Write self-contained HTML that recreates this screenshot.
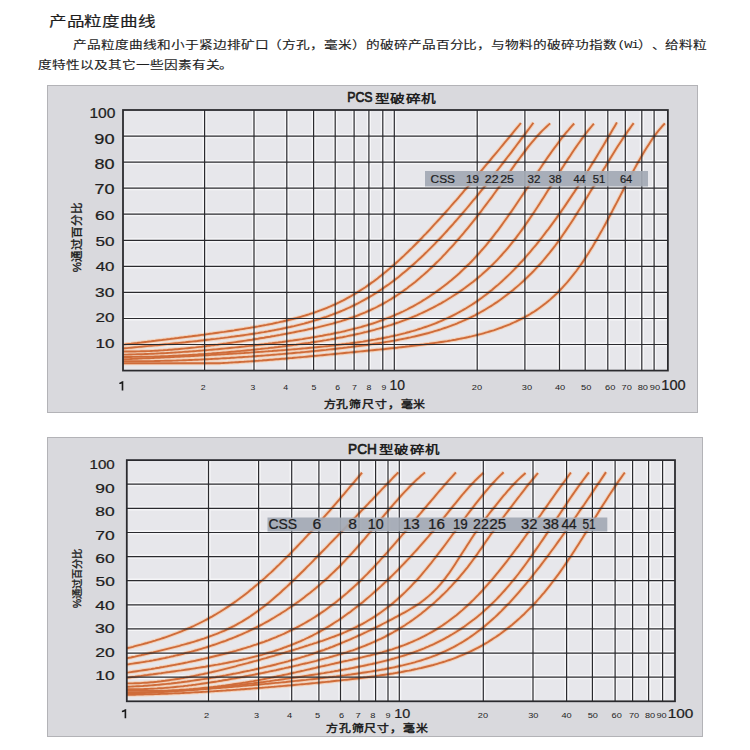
<!DOCTYPE html>
<html lang="zh-CN"><head><meta charset="utf-8"><style>
html,body{margin:0;padding:0;background:#fff;width:750px;height:750px;overflow:hidden;position:relative;font-family:"Liberation Sans",sans-serif;color:#1c1c1c}
.abs{position:absolute;white-space:nowrap}
.panel{position:absolute;background:#d9d9dd;border:1px solid #b3b3b7;box-sizing:border-box}
.yl{position:absolute;font-size:13px;line-height:16px;text-align:right;color:#1a1a1a}
.xl{position:absolute;font-size:8px;line-height:10px;color:#222}
svg text{font-family:"Liberation Sans",sans-serif;fill:#1e1e1e}
</style></head><body>
<div class="panel" style="left:47px;top:85px;width:650.5px;height:328px"></div>
<div class="panel" style="left:47px;top:437px;width:655.5px;height:299.5px"></div>
<svg class="abs" style="left:0;top:0" width="750" height="750" viewBox="0 0 750 750">
<rect x="123.0" y="110.0" width="544.9" height="260.6" fill="#e7e7eb"/>
<g stroke="#f6f6f8" stroke-width="4.2" fill="none"><line x1="123.0" y1="136.1" x2="667.9" y2="136.1"/>
<line x1="123.0" y1="162.1" x2="667.9" y2="162.1"/>
<line x1="123.0" y1="188.2" x2="667.9" y2="188.2"/>
<line x1="123.0" y1="214.2" x2="667.9" y2="214.2"/>
<line x1="123.0" y1="240.3" x2="667.9" y2="240.3"/>
<line x1="123.0" y1="266.4" x2="667.9" y2="266.4"/>
<line x1="123.0" y1="292.4" x2="667.9" y2="292.4"/>
<line x1="123.0" y1="318.5" x2="667.9" y2="318.5"/>
<line x1="123.0" y1="344.5" x2="667.9" y2="344.5"/>
<line x1="204.6" y1="110.0" x2="204.6" y2="370.6"/>
<line x1="254.0" y1="110.0" x2="254.0" y2="370.6"/>
<line x1="286.8" y1="110.0" x2="286.8" y2="370.6"/>
<line x1="313.6" y1="110.0" x2="313.6" y2="370.6"/>
<line x1="335.2" y1="110.0" x2="335.2" y2="370.6"/>
<line x1="354.1" y1="110.0" x2="354.1" y2="370.6"/>
<line x1="368.9" y1="110.0" x2="368.9" y2="370.6"/>
<line x1="382.8" y1="110.0" x2="382.8" y2="370.6"/>
<line x1="394.3" y1="110.0" x2="394.3" y2="370.6"/>
<line x1="477.2" y1="110.0" x2="477.2" y2="370.6"/>
<line x1="524.9" y1="110.0" x2="524.9" y2="370.6"/>
<line x1="559.5" y1="110.0" x2="559.5" y2="370.6"/>
<line x1="585.2" y1="110.0" x2="585.2" y2="370.6"/>
<line x1="607.8" y1="110.0" x2="607.8" y2="370.6"/>
<line x1="625.3" y1="110.0" x2="625.3" y2="370.6"/>
<line x1="641.8" y1="110.0" x2="641.8" y2="370.6"/>
<line x1="654.1" y1="110.0" x2="654.1" y2="370.6"/>
<rect x="123.0" y="110.0" width="544.9" height="260.6" fill="none" stroke-width="1.8"/></g>
<g stroke="#f2d2bc" stroke-width="4" fill="none" stroke-linecap="butt">
<path d="M123.0,344.6 L125.0,344.4 L127.0,344.1 L129.1,343.9 L131.1,343.7 L133.1,343.4 L135.1,343.2 L137.1,343.0 L139.2,342.7 L141.2,342.5 L143.2,342.2 L145.2,342.0 L147.2,341.8 L149.3,341.5 L151.3,341.3 L153.3,341.0 L155.3,340.8 L157.3,340.5 L159.4,340.3 L161.4,340.1 L163.4,339.8 L165.4,339.6 L167.4,339.3 L169.5,339.1 L171.5,338.8 L173.5,338.6 L175.5,338.3 L177.5,338.1 L179.6,337.8 L181.6,337.5 L183.6,337.3 L185.6,337.0 L187.6,336.8 L189.7,336.5 L191.7,336.3 L193.7,336.0 L195.7,335.7 L197.7,335.5 L199.8,335.2 L201.8,334.9 L203.8,334.7 L205.8,334.4 L207.8,334.1 L209.9,333.8 L211.9,333.6 L213.9,333.3 L215.9,333.0 L217.9,332.7 L220.0,332.4 L222.0,332.1 L224.0,331.9 L226.0,331.6 L228.0,331.3 L230.0,331.0 L232.1,330.7 L234.1,330.4 L236.1,330.0 L238.1,329.7 L240.1,329.4 L242.2,329.1 L244.2,328.8 L246.2,328.4 L248.2,328.1 L250.2,327.8 L252.3,327.4 L254.3,327.1 L256.3,326.7 L258.3,326.4 L260.3,326.0 L262.4,325.6 L264.4,325.2 L266.4,324.9 L268.4,324.5 L270.4,324.1 L272.5,323.7 L274.5,323.2 L276.5,322.8 L278.5,322.4 L280.5,321.9 L282.6,321.5 L284.6,321.0 L286.6,320.5 L288.6,320.0 L290.6,319.5 L292.7,319.0 L294.7,318.5 L296.7,318.0 L298.7,317.4 L300.7,316.8 L302.8,316.2 L304.8,315.6 L306.8,315.0 L308.8,314.4 L310.8,313.7 L312.9,313.1 L314.9,312.4 L316.9,311.7 L318.9,310.9 L320.9,310.2 L323.0,309.4 L325.0,308.6 L327.0,307.8 L329.0,307.0 L331.0,306.1 L333.1,305.2 L335.1,304.3 L337.1,303.3 L339.1,302.4 L341.1,301.4 L343.2,300.4 L345.2,299.3 L347.2,298.2 L349.2,297.1 L351.2,296.0 L353.3,294.8 L355.3,293.6 L357.3,292.4 L359.3,291.1 L361.3,289.8 L363.4,288.5 L365.4,287.2 L367.4,285.8 L369.4,284.4 L371.4,282.9 L373.5,281.5 L375.5,279.9 L377.5,278.4 L379.5,276.8 L381.5,275.3 L383.6,273.6 L385.6,272.0 L387.6,270.3 L389.6,268.6 L391.6,266.8 L393.7,265.1 L395.7,263.3 L397.7,261.5 L399.7,259.6 L401.7,257.8 L403.8,255.9 L405.8,253.9 L407.8,252.0 L409.8,250.0 L411.8,248.1 L413.9,246.0 L415.9,244.0 L417.9,242.0 L419.9,239.9 L421.9,237.8 L423.9,235.7 L426.0,233.6 L428.0,231.5 L430.0,229.3 L432.0,227.1 L434.0,224.9 L436.1,222.7 L438.1,220.5 L440.1,218.3 L442.1,216.1 L444.1,213.8 L446.2,211.5 L448.2,209.3 L450.2,207.0 L452.2,204.7 L454.2,202.4 L456.3,200.1 L458.3,197.8 L460.3,195.4 L462.3,193.1 L464.3,190.7 L466.4,188.4 L468.4,186.0 L470.4,183.6 L472.4,181.3 L474.4,178.9 L476.5,176.5 L478.5,174.1 L480.5,171.7 L482.5,169.3 L484.5,166.9 L486.6,164.5 L488.6,162.1 L490.6,159.7 L492.6,157.2 L494.6,154.8 L496.7,152.4 L498.7,150.0 L500.7,147.5 L502.7,145.1 L504.7,142.6 L506.8,140.2 L508.8,137.8 L510.8,135.3 L512.8,132.9 L514.8,130.4 L516.9,127.9 L518.9,125.5 L520.9,123.0"/>
<path d="M123.0,348.5 L125.0,348.3 L127.0,348.1 L129.0,347.9 L131.0,347.7 L133.1,347.5 L135.1,347.3 L137.1,347.1 L139.1,346.9 L141.1,346.7 L143.1,346.5 L145.1,346.3 L147.1,346.1 L149.2,345.9 L151.2,345.7 L153.2,345.6 L155.2,345.4 L157.2,345.2 L159.2,345.0 L161.2,344.7 L163.2,344.5 L165.2,344.3 L167.3,344.1 L169.3,343.9 L171.3,343.7 L173.3,343.5 L175.3,343.3 L177.3,343.1 L179.3,342.9 L181.3,342.7 L183.4,342.5 L185.4,342.3 L187.4,342.0 L189.4,341.8 L191.4,341.6 L193.4,341.4 L195.4,341.2 L197.4,341.0 L199.4,340.7 L201.5,340.5 L203.5,340.3 L205.5,340.0 L207.5,339.8 L209.5,339.6 L211.5,339.3 L213.5,339.1 L215.5,338.9 L217.6,338.6 L219.6,338.4 L221.6,338.1 L223.6,337.9 L225.6,337.6 L227.6,337.4 L229.6,337.1 L231.6,336.8 L233.6,336.6 L235.7,336.3 L237.7,336.0 L239.7,335.8 L241.7,335.5 L243.7,335.2 L245.7,334.9 L247.7,334.6 L249.7,334.3 L251.8,334.0 L253.8,333.7 L255.8,333.4 L257.8,333.1 L259.8,332.7 L261.8,332.4 L263.8,332.1 L265.8,331.7 L267.8,331.4 L269.9,331.0 L271.9,330.6 L273.9,330.3 L275.9,329.9 L277.9,329.5 L279.9,329.1 L281.9,328.7 L283.9,328.3 L286.0,327.8 L288.0,327.4 L290.0,327.0 L292.0,326.5 L294.0,326.1 L296.0,325.6 L298.0,325.1 L300.0,324.6 L302.0,324.1 L304.1,323.6 L306.1,323.0 L308.1,322.5 L310.1,321.9 L312.1,321.3 L314.1,320.7 L316.1,320.1 L318.1,319.5 L320.2,318.9 L322.2,318.2 L324.2,317.5 L326.2,316.9 L328.2,316.2 L330.2,315.4 L332.2,314.7 L334.2,313.9 L336.2,313.1 L338.3,312.3 L340.3,311.5 L342.3,310.7 L344.3,309.8 L346.3,308.9 L348.3,308.0 L350.3,307.1 L352.3,306.1 L354.4,305.1 L356.4,304.1 L358.4,303.1 L360.4,302.0 L362.4,300.9 L364.4,299.8 L366.4,298.7 L368.4,297.6 L370.4,296.4 L372.5,295.2 L374.5,293.9 L376.5,292.7 L378.5,291.4 L380.5,290.0 L382.5,288.7 L384.5,287.3 L386.5,285.9 L388.6,284.5 L390.6,283.0 L392.6,281.5 L394.6,280.0 L396.6,278.4 L398.6,276.9 L400.6,275.3 L402.6,273.6 L404.6,272.0 L406.7,270.3 L408.7,268.5 L410.7,266.8 L412.7,265.0 L414.7,263.2 L416.7,261.4 L418.7,259.5 L420.7,257.7 L422.8,255.8 L424.8,253.8 L426.8,251.9 L428.8,249.9 L430.8,247.9 L432.8,245.8 L434.8,243.8 L436.8,241.7 L438.8,239.6 L440.9,237.5 L442.9,235.3 L444.9,233.2 L446.9,231.0 L448.9,228.7 L450.9,226.5 L452.9,224.3 L454.9,222.0 L457.0,219.7 L459.0,217.4 L461.0,215.1 L463.0,212.7 L465.0,210.4 L467.0,208.0 L469.0,205.6 L471.0,203.2 L473.0,200.7 L475.1,198.3 L477.1,195.8 L479.1,193.4 L481.1,190.9 L483.1,188.4 L485.1,185.9 L487.1,183.4 L489.1,180.8 L491.2,178.3 L493.2,175.7 L495.2,173.2 L497.2,170.6 L499.2,168.0 L501.2,165.4 L503.2,162.8 L505.2,160.2 L507.2,157.5 L509.3,154.9 L511.3,152.3 L513.3,149.6 L515.3,147.0 L517.3,144.3 L519.3,141.6 L521.3,138.9 L523.3,136.3 L525.4,133.6 L527.4,130.9 L529.4,128.2 L531.4,125.5 L533.4,122.7"/>
<path d="M123.0,351.5 L125.0,351.5 L127.0,351.5 L129.0,351.5 L131.1,351.5 L133.1,351.5 L135.1,351.5 L137.1,351.4 L139.1,351.4 L141.1,351.3 L143.2,351.3 L145.2,351.2 L147.2,351.1 L149.2,351.1 L151.2,351.0 L153.2,350.9 L155.2,350.8 L157.3,350.7 L159.3,350.5 L161.3,350.4 L163.3,350.3 L165.3,350.1 L167.3,350.0 L169.3,349.8 L171.4,349.7 L173.4,349.5 L175.4,349.3 L177.4,349.2 L179.4,349.0 L181.4,348.8 L183.5,348.6 L185.5,348.4 L187.5,348.2 L189.5,348.0 L191.5,347.8 L193.5,347.6 L195.5,347.4 L197.6,347.1 L199.6,346.9 L201.6,346.7 L203.6,346.4 L205.6,346.2 L207.6,345.9 L209.6,345.7 L211.7,345.4 L213.7,345.2 L215.7,344.9 L217.7,344.7 L219.7,344.4 L221.7,344.1 L223.8,343.8 L225.8,343.6 L227.8,343.3 L229.8,343.0 L231.8,342.7 L233.8,342.4 L235.8,342.1 L237.9,341.8 L239.9,341.5 L241.9,341.2 L243.9,340.9 L245.9,340.6 L247.9,340.3 L250.0,340.0 L252.0,339.7 L254.0,339.3 L256.0,339.0 L258.0,338.7 L260.0,338.3 L262.0,338.0 L264.1,337.7 L266.1,337.3 L268.1,337.0 L270.1,336.7 L272.1,336.3 L274.1,336.0 L276.1,335.6 L278.2,335.2 L280.2,334.9 L282.2,334.5 L284.2,334.1 L286.2,333.8 L288.2,333.4 L290.3,333.0 L292.3,332.6 L294.3,332.2 L296.3,331.8 L298.3,331.4 L300.3,331.0 L302.3,330.6 L304.4,330.2 L306.4,329.8 L308.4,329.3 L310.4,328.9 L312.4,328.5 L314.4,328.0 L316.4,327.6 L318.5,327.1 L320.5,326.6 L322.5,326.1 L324.5,325.6 L326.5,325.1 L328.5,324.6 L330.6,324.1 L332.6,323.6 L334.6,323.0 L336.6,322.4 L338.6,321.9 L340.6,321.3 L342.6,320.6 L344.7,320.0 L346.7,319.4 L348.7,318.7 L350.7,318.0 L352.7,317.3 L354.7,316.6 L356.8,315.8 L358.8,315.0 L360.8,314.2 L362.8,313.4 L364.8,312.6 L366.8,311.7 L368.8,310.8 L370.9,309.9 L372.9,308.9 L374.9,308.0 L376.9,307.0 L378.9,305.9 L380.9,304.9 L382.9,303.8 L385.0,302.6 L387.0,301.5 L389.0,300.3 L391.0,299.1 L393.0,297.8 L395.0,296.6 L397.1,295.2 L399.1,293.9 L401.1,292.5 L403.1,291.1 L405.1,289.6 L407.1,288.2 L409.1,286.6 L411.2,285.1 L413.2,283.5 L415.2,281.9 L417.2,280.2 L419.2,278.6 L421.2,276.8 L423.2,275.1 L425.3,273.3 L427.3,271.5 L429.3,269.6 L431.3,267.7 L433.3,265.8 L435.3,263.8 L437.4,261.8 L439.4,259.8 L441.4,257.8 L443.4,255.7 L445.4,253.6 L447.4,251.4 L449.4,249.2 L451.5,247.0 L453.5,244.8 L455.5,242.5 L457.5,240.2 L459.5,237.9 L461.5,235.5 L463.6,233.1 L465.6,230.7 L467.6,228.3 L469.6,225.8 L471.6,223.3 L473.6,220.8 L475.6,218.3 L477.7,215.7 L479.7,213.1 L481.7,210.5 L483.7,207.8 L485.7,205.2 L487.7,202.5 L489.7,199.8 L491.8,197.1 L493.8,194.3 L495.8,191.5 L497.8,188.7 L499.8,185.9 L501.8,183.1 L503.9,180.2 L505.9,177.4 L507.9,174.5 L509.9,171.7 L511.9,168.9 L513.9,166.1 L515.9,163.3 L518.0,160.5 L520.0,157.8 L522.0,155.1 L524.0,152.4 L526.0,149.8 L528.0,147.2 L530.0,144.7 L532.1,142.2 L534.1,139.8 L536.1,137.5 L538.1,135.2 L540.1,133.0 L542.1,130.9 L544.2,128.9 L546.2,127.0 L548.2,125.1 L550.2,123.4"/>
<path d="M123.0,354.6 L125.0,354.6 L127.0,354.6 L129.0,354.5 L131.1,354.5 L133.1,354.4 L135.1,354.4 L137.1,354.3 L139.1,354.2 L141.1,354.2 L143.1,354.1 L145.2,354.0 L147.2,354.0 L149.2,353.9 L151.2,353.8 L153.2,353.7 L155.2,353.6 L157.2,353.5 L159.3,353.4 L161.3,353.3 L163.3,353.2 L165.3,353.1 L167.3,353.0 L169.3,352.9 L171.3,352.7 L173.4,352.6 L175.4,352.5 L177.4,352.4 L179.4,352.2 L181.4,352.1 L183.4,351.9 L185.4,351.8 L187.5,351.7 L189.5,351.5 L191.5,351.4 L193.5,351.2 L195.5,351.1 L197.5,350.9 L199.5,350.7 L201.6,350.6 L203.6,350.4 L205.6,350.2 L207.6,350.1 L209.6,349.9 L211.6,349.7 L213.6,349.5 L215.7,349.4 L217.7,349.2 L219.7,349.0 L221.7,348.8 L223.7,348.6 L225.7,348.4 L227.7,348.2 L229.8,348.0 L231.8,347.8 L233.8,347.6 L235.8,347.4 L237.8,347.2 L239.8,347.0 L241.8,346.8 L243.9,346.6 L245.9,346.3 L247.9,346.1 L249.9,345.9 L251.9,345.7 L253.9,345.4 L255.9,345.2 L258.0,345.0 L260.0,344.7 L262.0,344.5 L264.0,344.3 L266.0,344.0 L268.0,343.8 L270.0,343.5 L272.1,343.3 L274.1,343.0 L276.1,342.7 L278.1,342.5 L280.1,342.2 L282.1,342.0 L284.1,341.7 L286.2,341.4 L288.2,341.1 L290.2,340.8 L292.2,340.6 L294.2,340.3 L296.2,340.0 L298.2,339.7 L300.3,339.4 L302.3,339.1 L304.3,338.7 L306.3,338.4 L308.3,338.1 L310.3,337.8 L312.3,337.4 L314.4,337.1 L316.4,336.8 L318.4,336.4 L320.4,336.0 L322.4,335.7 L324.4,335.3 L326.4,334.9 L328.5,334.5 L330.5,334.2 L332.5,333.8 L334.5,333.3 L336.5,332.9 L338.5,332.5 L340.5,332.1 L342.6,331.6 L344.6,331.2 L346.6,330.7 L348.6,330.2 L350.6,329.7 L352.6,329.2 L354.6,328.7 L356.7,328.2 L358.7,327.6 L360.7,327.1 L362.7,326.5 L364.7,325.9 L366.7,325.3 L368.7,324.7 L370.8,324.1 L372.8,323.5 L374.8,322.8 L376.8,322.1 L378.8,321.4 L380.8,320.7 L382.8,320.0 L384.9,319.2 L386.9,318.4 L388.9,317.6 L390.9,316.8 L392.9,316.0 L394.9,315.1 L396.9,314.2 L399.0,313.3 L401.0,312.4 L403.0,311.5 L405.0,310.5 L407.0,309.5 L409.0,308.4 L411.0,307.4 L413.1,306.3 L415.1,305.2 L417.1,304.0 L419.1,302.9 L421.1,301.7 L423.1,300.4 L425.1,299.2 L427.2,297.9 L429.2,296.6 L431.2,295.2 L433.2,293.9 L435.2,292.5 L437.2,291.0 L439.2,289.6 L441.3,288.1 L443.3,286.6 L445.3,285.0 L447.3,283.4 L449.3,281.8 L451.3,280.2 L453.3,278.5 L455.4,276.7 L457.4,275.0 L459.4,273.2 L461.4,271.3 L463.4,269.4 L465.4,267.5 L467.4,265.5 L469.5,263.5 L471.5,261.5 L473.5,259.4 L475.5,257.2 L477.5,255.0 L479.5,252.8 L481.5,250.5 L483.6,248.2 L485.6,245.8 L487.6,243.4 L489.6,240.9 L491.6,238.4 L493.6,235.8 L495.6,233.2 L497.7,230.6 L499.7,227.9 L501.7,225.1 L503.7,222.3 L505.7,219.5 L507.7,216.7 L509.7,213.8 L511.8,210.9 L513.8,208.0 L515.8,205.0 L517.8,202.0 L519.8,199.0 L521.8,196.0 L523.8,193.0 L525.9,190.0 L527.9,186.9 L529.9,183.9 L531.9,180.8 L533.9,177.8 L535.9,174.8 L537.9,171.7 L540.0,168.7 L542.0,165.8 L544.0,162.8 L546.0,159.8 L548.0,156.9 L550.0,154.1 L552.0,151.2 L554.1,148.4 L556.1,145.7 L558.1,143.0 L560.1,140.3 L562.1,137.7 L564.1,135.2 L566.1,132.7 L568.2,130.3 L570.2,127.9 L572.2,125.6 L574.2,123.5"/>
<path d="M123.0,357.0 L125.0,357.0 L127.0,357.0 L129.0,357.0 L131.0,357.0 L133.1,356.9 L135.1,356.9 L137.1,356.9 L139.1,356.9 L141.1,356.8 L143.1,356.8 L145.1,356.8 L147.1,356.7 L149.2,356.7 L151.2,356.6 L153.2,356.6 L155.2,356.5 L157.2,356.5 L159.2,356.4 L161.2,356.3 L163.2,356.2 L165.3,356.2 L167.3,356.1 L169.3,356.0 L171.3,355.9 L173.3,355.8 L175.3,355.7 L177.3,355.6 L179.3,355.5 L181.4,355.4 L183.4,355.3 L185.4,355.2 L187.4,355.1 L189.4,355.0 L191.4,354.9 L193.4,354.7 L195.4,354.6 L197.5,354.5 L199.5,354.3 L201.5,354.2 L203.5,354.1 L205.5,353.9 L207.5,353.8 L209.5,353.6 L211.5,353.5 L213.6,353.3 L215.6,353.2 L217.6,353.0 L219.6,352.9 L221.6,352.7 L223.6,352.5 L225.6,352.4 L227.6,352.2 L229.7,352.0 L231.7,351.8 L233.7,351.7 L235.7,351.5 L237.7,351.3 L239.7,351.1 L241.7,350.9 L243.7,350.7 L245.8,350.5 L247.8,350.3 L249.8,350.1 L251.8,349.9 L253.8,349.7 L255.8,349.5 L257.8,349.3 L259.8,349.1 L261.9,348.8 L263.9,348.6 L265.9,348.4 L267.9,348.2 L269.9,347.9 L271.9,347.7 L273.9,347.5 L275.9,347.2 L278.0,347.0 L280.0,346.7 L282.0,346.5 L284.0,346.2 L286.0,346.0 L288.0,345.7 L290.0,345.5 L292.0,345.2 L294.1,344.9 L296.1,344.7 L298.1,344.4 L300.1,344.1 L302.1,343.8 L304.1,343.5 L306.1,343.2 L308.1,343.0 L310.2,342.7 L312.2,342.3 L314.2,342.0 L316.2,341.7 L318.2,341.4 L320.2,341.1 L322.2,340.8 L324.2,340.4 L326.3,340.1 L328.3,339.7 L330.3,339.4 L332.3,339.0 L334.3,338.7 L336.3,338.3 L338.3,337.9 L340.3,337.5 L342.4,337.2 L344.4,336.8 L346.4,336.4 L348.4,335.9 L350.4,335.5 L352.4,335.1 L354.4,334.7 L356.4,334.2 L358.4,333.8 L360.5,333.3 L362.5,332.8 L364.5,332.3 L366.5,331.9 L368.5,331.4 L370.5,330.8 L372.5,330.3 L374.5,329.8 L376.6,329.2 L378.6,328.7 L380.6,328.1 L382.6,327.5 L384.6,326.9 L386.6,326.3 L388.6,325.7 L390.6,325.1 L392.7,324.4 L394.7,323.7 L396.7,323.0 L398.7,322.4 L400.7,321.6 L402.7,320.9 L404.7,320.2 L406.7,319.4 L408.8,318.6 L410.8,317.8 L412.8,317.0 L414.8,316.1 L416.8,315.3 L418.8,314.4 L420.8,313.5 L422.8,312.6 L424.9,311.6 L426.9,310.7 L428.9,309.7 L430.9,308.7 L432.9,307.7 L434.9,306.6 L436.9,305.5 L438.9,304.4 L441.0,303.3 L443.0,302.1 L445.0,301.0 L447.0,299.8 L449.0,298.5 L451.0,297.3 L453.0,296.0 L455.0,294.7 L457.1,293.4 L459.1,292.0 L461.1,290.6 L463.1,289.2 L465.1,287.8 L467.1,286.3 L469.1,284.8 L471.1,283.3 L473.2,281.7 L475.2,280.1 L477.2,278.5 L479.2,276.8 L481.2,275.1 L483.2,273.3 L485.2,271.5 L487.2,269.7 L489.3,267.8 L491.3,265.9 L493.3,263.9 L495.3,261.9 L497.3,259.8 L499.3,257.7 L501.3,255.5 L503.3,253.2 L505.4,250.9 L507.4,248.6 L509.4,246.2 L511.4,243.7 L513.4,241.2 L515.4,238.6 L517.4,235.9 L519.4,233.2 L521.5,230.4 L523.5,227.6 L525.5,224.8 L527.5,221.9 L529.5,218.9 L531.5,216.0 L533.5,213.0 L535.5,209.9 L537.6,206.8 L539.6,203.7 L541.6,200.6 L543.6,197.5 L545.6,194.3 L547.6,191.1 L549.6,187.9 L551.6,184.7 L553.7,181.6 L555.7,178.4 L557.7,175.2 L559.7,172.0 L561.7,168.8 L563.7,165.7 L565.7,162.5 L567.7,159.4 L569.8,156.4 L571.8,153.3 L573.8,150.3 L575.8,147.4 L577.8,144.5 L579.8,141.7 L581.8,138.9 L583.8,136.2 L585.9,133.5 L587.9,130.9 L589.9,128.4 L591.9,126.0 L593.9,123.7"/>
<path d="M123.0,359.3 L125.0,359.2 L127.0,359.1 L129.0,359.1 L131.1,359.0 L133.1,358.9 L135.1,358.8 L137.1,358.7 L139.1,358.6 L141.1,358.5 L143.2,358.4 L145.2,358.4 L147.2,358.3 L149.2,358.2 L151.2,358.1 L153.2,358.0 L155.3,357.9 L157.3,357.8 L159.3,357.7 L161.3,357.6 L163.3,357.5 L165.3,357.4 L167.4,357.3 L169.4,357.2 L171.4,357.1 L173.4,357.0 L175.4,356.9 L177.4,356.8 L179.4,356.7 L181.5,356.6 L183.5,356.5 L185.5,356.4 L187.5,356.3 L189.5,356.2 L191.5,356.1 L193.6,356.0 L195.6,355.9 L197.6,355.7 L199.6,355.6 L201.6,355.5 L203.6,355.4 L205.7,355.3 L207.7,355.2 L209.7,355.1 L211.7,354.9 L213.7,354.8 L215.7,354.7 L217.7,354.6 L219.8,354.5 L221.8,354.4 L223.8,354.2 L225.8,354.1 L227.8,354.0 L229.8,353.9 L231.9,353.7 L233.9,353.6 L235.9,353.5 L237.9,353.4 L239.9,353.2 L241.9,353.1 L244.0,353.0 L246.0,352.8 L248.0,352.7 L250.0,352.6 L252.0,352.4 L254.0,352.3 L256.1,352.1 L258.1,352.0 L260.1,351.9 L262.1,351.7 L264.1,351.6 L266.1,351.4 L268.1,351.3 L270.2,351.1 L272.2,351.0 L274.2,350.8 L276.2,350.7 L278.2,350.5 L280.2,350.4 L282.3,350.2 L284.3,350.1 L286.3,349.9 L288.3,349.7 L290.3,349.6 L292.3,349.4 L294.4,349.2 L296.4,349.1 L298.4,348.9 L300.4,348.7 L302.4,348.5 L304.4,348.4 L306.4,348.2 L308.5,348.0 L310.5,347.8 L312.5,347.6 L314.5,347.4 L316.5,347.2 L318.5,347.0 L320.6,346.8 L322.6,346.6 L324.6,346.4 L326.6,346.2 L328.6,346.0 L330.6,345.7 L332.7,345.5 L334.7,345.3 L336.7,345.1 L338.7,344.8 L340.7,344.6 L342.7,344.3 L344.8,344.1 L346.8,343.8 L348.8,343.6 L350.8,343.3 L352.8,343.0 L354.8,342.7 L356.8,342.5 L358.9,342.2 L360.9,341.9 L362.9,341.6 L364.9,341.2 L366.9,340.9 L368.9,340.6 L371.0,340.3 L373.0,339.9 L375.0,339.6 L377.0,339.2 L379.0,338.8 L381.0,338.5 L383.1,338.1 L385.1,337.7 L387.1,337.3 L389.1,336.9 L391.1,336.4 L393.1,336.0 L395.1,335.5 L397.2,335.1 L399.2,334.6 L401.2,334.1 L403.2,333.6 L405.2,333.1 L407.2,332.5 L409.3,332.0 L411.3,331.4 L413.3,330.9 L415.3,330.3 L417.3,329.7 L419.3,329.0 L421.4,328.4 L423.4,327.7 L425.4,327.0 L427.4,326.3 L429.4,325.6 L431.4,324.9 L433.5,324.1 L435.5,323.3 L437.5,322.5 L439.5,321.7 L441.5,320.8 L443.5,319.9 L445.5,319.0 L447.6,318.1 L449.6,317.1 L451.6,316.1 L453.6,315.1 L455.6,314.1 L457.6,313.0 L459.7,311.9 L461.7,310.8 L463.7,309.6 L465.7,308.5 L467.7,307.2 L469.7,306.0 L471.8,304.7 L473.8,303.4 L475.8,302.0 L477.8,300.7 L479.8,299.2 L481.8,297.8 L483.8,296.3 L485.9,294.8 L487.9,293.2 L489.9,291.6 L491.9,290.0 L493.9,288.3 L495.9,286.6 L498.0,284.9 L500.0,283.1 L502.0,281.3 L504.0,279.4 L506.0,277.5 L508.0,275.6 L510.1,273.6 L512.1,271.6 L514.1,269.6 L516.1,267.5 L518.1,265.4 L520.1,263.2 L522.2,261.0 L524.2,258.8 L526.2,256.5 L528.2,254.2 L530.2,251.8 L532.2,249.4 L534.2,247.0 L536.3,244.6 L538.3,242.1 L540.3,239.5 L542.3,237.0 L544.3,234.4 L546.3,231.7 L548.4,229.1 L550.4,226.4 L552.4,223.6 L554.4,220.9 L556.4,218.1 L558.4,215.2 L560.5,212.4 L562.5,209.5 L564.5,206.6 L566.5,203.6 L568.5,200.6 L570.5,197.6 L572.5,194.6 L574.6,191.6 L576.6,188.5 L578.6,185.4 L580.6,182.2 L582.6,179.1 L584.6,175.9 L586.7,172.7 L588.7,169.5 L590.7,166.3 L592.7,163.0 L594.7,159.7 L596.7,156.4 L598.8,153.1 L600.8,149.7 L602.8,146.4 L604.8,143.0 L606.8,139.6 L608.8,136.2 L610.9,132.8 L612.9,129.3 L614.9,125.9 L616.9,122.4"/>
<path d="M123.0,361.2 L125.0,361.2 L127.0,361.2 L129.0,361.2 L131.0,361.2 L133.1,361.2 L135.1,361.2 L137.1,361.2 L139.1,361.2 L141.1,361.2 L143.1,361.2 L145.1,361.2 L147.1,361.2 L149.1,361.1 L151.1,361.1 L153.2,361.1 L155.2,361.0 L157.2,361.0 L159.2,361.0 L161.2,360.9 L163.2,360.9 L165.2,360.8 L167.2,360.8 L169.2,360.7 L171.3,360.7 L173.3,360.6 L175.3,360.6 L177.3,360.5 L179.3,360.4 L181.3,360.4 L183.3,360.3 L185.3,360.2 L187.3,360.1 L189.4,360.0 L191.4,360.0 L193.4,359.9 L195.4,359.8 L197.4,359.7 L199.4,359.6 L201.4,359.5 L203.4,359.4 L205.4,359.3 L207.4,359.2 L209.5,359.1 L211.5,359.0 L213.5,358.9 L215.5,358.8 L217.5,358.7 L219.5,358.6 L221.5,358.4 L223.5,358.3 L225.5,358.2 L227.6,358.1 L229.6,358.0 L231.6,357.8 L233.6,357.7 L235.6,357.6 L237.6,357.4 L239.6,357.3 L241.6,357.2 L243.6,357.0 L245.6,356.9 L247.7,356.8 L249.7,356.6 L251.7,356.5 L253.7,356.3 L255.7,356.2 L257.7,356.0 L259.7,355.9 L261.7,355.7 L263.7,355.6 L265.8,355.4 L267.8,355.2 L269.8,355.1 L271.8,354.9 L273.8,354.7 L275.8,354.6 L277.8,354.4 L279.8,354.2 L281.8,354.1 L283.9,353.9 L285.9,353.7 L287.9,353.5 L289.9,353.4 L291.9,353.2 L293.9,353.0 L295.9,352.8 L297.9,352.6 L299.9,352.5 L301.9,352.3 L304.0,352.1 L306.0,351.9 L308.0,351.7 L310.0,351.5 L312.0,351.3 L314.0,351.1 L316.0,350.9 L318.0,350.7 L320.0,350.5 L322.1,350.3 L324.1,350.1 L326.1,349.9 L328.1,349.6 L330.1,349.4 L332.1,349.2 L334.1,349.0 L336.1,348.8 L338.1,348.5 L340.1,348.3 L342.2,348.1 L344.2,347.8 L346.2,347.6 L348.2,347.3 L350.2,347.1 L352.2,346.8 L354.2,346.6 L356.2,346.3 L358.2,346.1 L360.3,345.8 L362.3,345.5 L364.3,345.3 L366.3,345.0 L368.3,344.7 L370.3,344.4 L372.3,344.1 L374.3,343.8 L376.3,343.5 L378.4,343.2 L380.4,342.9 L382.4,342.6 L384.4,342.3 L386.4,341.9 L388.4,341.6 L390.4,341.3 L392.4,340.9 L394.4,340.6 L396.4,340.2 L398.5,339.8 L400.5,339.4 L402.5,339.0 L404.5,338.6 L406.5,338.2 L408.5,337.8 L410.5,337.4 L412.5,336.9 L414.5,336.5 L416.6,336.0 L418.6,335.5 L420.6,335.0 L422.6,334.5 L424.6,334.0 L426.6,333.5 L428.6,333.0 L430.6,332.4 L432.6,331.8 L434.6,331.2 L436.7,330.6 L438.7,330.0 L440.7,329.4 L442.7,328.7 L444.7,328.0 L446.7,327.3 L448.7,326.6 L450.7,325.9 L452.7,325.1 L454.8,324.4 L456.8,323.6 L458.8,322.7 L460.8,321.9 L462.8,321.0 L464.8,320.1 L466.8,319.2 L468.8,318.3 L470.8,317.3 L472.8,316.3 L474.9,315.3 L476.9,314.2 L478.9,313.2 L480.9,312.0 L482.9,310.9 L484.9,309.7 L486.9,308.5 L488.9,307.3 L490.9,306.1 L493.0,304.8 L495.0,303.4 L497.0,302.1 L499.0,300.7 L501.0,299.3 L503.0,297.8 L505.0,296.3 L507.0,294.8 L509.0,293.2 L511.1,291.6 L513.1,290.0 L515.1,288.3 L517.1,286.6 L519.1,284.9 L521.1,283.1 L523.1,281.3 L525.1,279.4 L527.1,277.5 L529.1,275.5 L531.2,273.5 L533.2,271.5 L535.2,269.4 L537.2,267.2 L539.2,265.0 L541.2,262.8 L543.2,260.5 L545.2,258.1 L547.2,255.7 L549.3,253.2 L551.3,250.7 L553.3,248.1 L555.3,245.5 L557.3,242.7 L559.3,240.0 L561.3,237.2 L563.3,234.3 L565.3,231.4 L567.3,228.4 L569.4,225.3 L571.4,222.3 L573.4,219.2 L575.4,216.0 L577.4,212.8 L579.4,209.6 L581.4,206.4 L583.4,203.1 L585.4,199.8 L587.5,196.5 L589.5,193.1 L591.5,189.8 L593.5,186.4 L595.5,183.0 L597.5,179.6 L599.5,176.3 L601.5,172.9 L603.5,169.5 L605.6,166.2 L607.6,162.8 L609.6,159.5 L611.6,156.2 L613.6,153.0 L615.6,149.8 L617.6,146.6 L619.6,143.5 L621.6,140.4 L623.6,137.3 L625.7,134.4 L627.7,131.4 L629.7,128.6 L631.7,125.8 L633.7,123.1"/>
<path d="M123.0,363.2 L125.0,363.2 L127.0,363.2 L129.0,363.2 L131.1,363.2 L133.1,363.2 L135.1,363.2 L137.1,363.2 L139.1,363.2 L141.1,363.2 L143.1,363.2 L145.2,363.2 L147.2,363.2 L149.2,363.2 L151.2,363.2 L153.2,363.2 L155.2,363.2 L157.2,363.2 L159.3,363.2 L161.3,363.2 L163.3,363.2 L165.3,363.2 L167.3,363.2 L169.3,363.2 L171.3,363.2 L173.4,363.2 L175.4,363.2 L177.4,363.2 L179.4,363.2 L181.4,363.2 L183.4,363.2 L185.4,363.2 L187.5,363.2 L189.5,363.2 L191.5,363.2 L193.5,363.2 L195.5,363.2 L197.5,363.2 L199.6,363.2 L201.6,363.2 L203.6,363.2 L205.6,363.2 L207.6,363.2 L209.6,363.2 L211.6,363.2 L213.7,363.2 L215.7,363.2 L217.7,363.2 L219.7,363.2 L221.7,363.1 L223.7,363.0 L225.7,362.9 L227.8,362.8 L229.8,362.6 L231.8,362.5 L233.8,362.4 L235.8,362.3 L237.8,362.2 L239.8,362.0 L241.9,361.9 L243.9,361.8 L245.9,361.6 L247.9,361.5 L249.9,361.4 L251.9,361.2 L253.9,361.1 L256.0,360.9 L258.0,360.8 L260.0,360.6 L262.0,360.5 L264.0,360.3 L266.0,360.2 L268.0,360.0 L270.1,359.8 L272.1,359.7 L274.1,359.5 L276.1,359.3 L278.1,359.2 L280.1,359.0 L282.1,358.8 L284.2,358.7 L286.2,358.5 L288.2,358.3 L290.2,358.1 L292.2,358.0 L294.2,357.8 L296.2,357.6 L298.3,357.4 L300.3,357.2 L302.3,357.1 L304.3,356.9 L306.3,356.7 L308.3,356.5 L310.3,356.3 L312.4,356.1 L314.4,355.9 L316.4,355.8 L318.4,355.6 L320.4,355.4 L322.4,355.2 L324.4,355.0 L326.5,354.8 L328.5,354.6 L330.5,354.4 L332.5,354.2 L334.5,354.0 L336.5,353.8 L338.6,353.6 L340.6,353.4 L342.6,353.2 L344.6,353.0 L346.6,352.8 L348.6,352.6 L350.6,352.4 L352.7,352.2 L354.7,352.0 L356.7,351.8 L358.7,351.6 L360.7,351.4 L362.7,351.2 L364.7,351.0 L366.8,350.8 L368.8,350.6 L370.8,350.4 L372.8,350.2 L374.8,350.0 L376.8,349.8 L378.8,349.6 L380.9,349.4 L382.9,349.2 L384.9,349.0 L386.9,348.7 L388.9,348.5 L390.9,348.3 L392.9,348.1 L395.0,347.9 L397.0,347.7 L399.0,347.4 L401.0,347.2 L403.0,347.0 L405.0,346.8 L407.0,346.5 L409.1,346.3 L411.1,346.0 L413.1,345.8 L415.1,345.6 L417.1,345.3 L419.1,345.1 L421.1,344.8 L423.2,344.6 L425.2,344.3 L427.2,344.0 L429.2,343.8 L431.2,343.5 L433.2,343.2 L435.2,342.9 L437.3,342.6 L439.3,342.3 L441.3,342.0 L443.3,341.7 L445.3,341.4 L447.3,341.1 L449.3,340.7 L451.4,340.4 L453.4,340.0 L455.4,339.7 L457.4,339.3 L459.4,338.9 L461.4,338.5 L463.5,338.1 L465.5,337.7 L467.5,337.3 L469.5,336.8 L471.5,336.4 L473.5,335.9 L475.5,335.4 L477.6,334.9 L479.6,334.4 L481.6,333.9 L483.6,333.3 L485.6,332.7 L487.6,332.2 L489.6,331.5 L491.7,330.9 L493.7,330.3 L495.7,329.6 L497.7,328.9 L499.7,328.2 L501.7,327.5 L503.7,326.7 L505.8,325.9 L507.8,325.1 L509.8,324.3 L511.8,323.4 L513.8,322.5 L515.8,321.6 L517.8,320.6 L519.9,319.7 L521.9,318.6 L523.9,317.6 L525.9,316.5 L527.9,315.4 L529.9,314.2 L531.9,312.9 L534.0,311.7 L536.0,310.4 L538.0,309.0 L540.0,307.6 L542.0,306.1 L544.0,304.5 L546.0,303.0 L548.1,301.3 L550.1,299.6 L552.1,297.8 L554.1,296.0 L556.1,294.1 L558.1,292.1 L560.1,290.0 L562.2,287.9 L564.2,285.7 L566.2,283.5 L568.2,281.1 L570.2,278.7 L572.2,276.2 L574.2,273.6 L576.3,271.0 L578.3,268.3 L580.3,265.5 L582.3,262.6 L584.3,259.6 L586.3,256.5 L588.3,253.4 L590.4,250.1 L592.4,246.9 L594.4,243.5 L596.4,240.1 L598.4,236.6 L600.4,233.0 L602.5,229.4 L604.5,225.7 L606.5,222.0 L608.5,218.3 L610.5,214.5 L612.5,210.6 L614.5,206.8 L616.6,202.9 L618.6,199.0 L620.6,195.1 L622.6,191.3 L624.6,187.4 L626.6,183.5 L628.6,179.7 L630.7,175.9 L632.7,172.1 L634.7,168.4 L636.7,164.7 L638.7,161.2 L640.7,157.6 L642.7,154.2 L644.8,150.8 L646.8,147.5 L648.8,144.4 L650.8,141.3 L652.8,138.3 L654.8,135.5 L656.8,132.8 L658.9,130.2 L660.9,127.8 L662.9,125.5 L664.9,123.4"/>
</g>
<g stroke="#cf6c3a" stroke-width="1.9" fill="none" stroke-linecap="butt">
<path d="M123.0,344.6 L125.0,344.4 L127.0,344.1 L129.1,343.9 L131.1,343.7 L133.1,343.4 L135.1,343.2 L137.1,343.0 L139.2,342.7 L141.2,342.5 L143.2,342.2 L145.2,342.0 L147.2,341.8 L149.3,341.5 L151.3,341.3 L153.3,341.0 L155.3,340.8 L157.3,340.5 L159.4,340.3 L161.4,340.1 L163.4,339.8 L165.4,339.6 L167.4,339.3 L169.5,339.1 L171.5,338.8 L173.5,338.6 L175.5,338.3 L177.5,338.1 L179.6,337.8 L181.6,337.5 L183.6,337.3 L185.6,337.0 L187.6,336.8 L189.7,336.5 L191.7,336.3 L193.7,336.0 L195.7,335.7 L197.7,335.5 L199.8,335.2 L201.8,334.9 L203.8,334.7 L205.8,334.4 L207.8,334.1 L209.9,333.8 L211.9,333.6 L213.9,333.3 L215.9,333.0 L217.9,332.7 L220.0,332.4 L222.0,332.1 L224.0,331.9 L226.0,331.6 L228.0,331.3 L230.0,331.0 L232.1,330.7 L234.1,330.4 L236.1,330.0 L238.1,329.7 L240.1,329.4 L242.2,329.1 L244.2,328.8 L246.2,328.4 L248.2,328.1 L250.2,327.8 L252.3,327.4 L254.3,327.1 L256.3,326.7 L258.3,326.4 L260.3,326.0 L262.4,325.6 L264.4,325.2 L266.4,324.9 L268.4,324.5 L270.4,324.1 L272.5,323.7 L274.5,323.2 L276.5,322.8 L278.5,322.4 L280.5,321.9 L282.6,321.5 L284.6,321.0 L286.6,320.5 L288.6,320.0 L290.6,319.5 L292.7,319.0 L294.7,318.5 L296.7,318.0 L298.7,317.4 L300.7,316.8 L302.8,316.2 L304.8,315.6 L306.8,315.0 L308.8,314.4 L310.8,313.7 L312.9,313.1 L314.9,312.4 L316.9,311.7 L318.9,310.9 L320.9,310.2 L323.0,309.4 L325.0,308.6 L327.0,307.8 L329.0,307.0 L331.0,306.1 L333.1,305.2 L335.1,304.3 L337.1,303.3 L339.1,302.4 L341.1,301.4 L343.2,300.4 L345.2,299.3 L347.2,298.2 L349.2,297.1 L351.2,296.0 L353.3,294.8 L355.3,293.6 L357.3,292.4 L359.3,291.1 L361.3,289.8 L363.4,288.5 L365.4,287.2 L367.4,285.8 L369.4,284.4 L371.4,282.9 L373.5,281.5 L375.5,279.9 L377.5,278.4 L379.5,276.8 L381.5,275.3 L383.6,273.6 L385.6,272.0 L387.6,270.3 L389.6,268.6 L391.6,266.8 L393.7,265.1 L395.7,263.3 L397.7,261.5 L399.7,259.6 L401.7,257.8 L403.8,255.9 L405.8,253.9 L407.8,252.0 L409.8,250.0 L411.8,248.1 L413.9,246.0 L415.9,244.0 L417.9,242.0 L419.9,239.9 L421.9,237.8 L423.9,235.7 L426.0,233.6 L428.0,231.5 L430.0,229.3 L432.0,227.1 L434.0,224.9 L436.1,222.7 L438.1,220.5 L440.1,218.3 L442.1,216.1 L444.1,213.8 L446.2,211.5 L448.2,209.3 L450.2,207.0 L452.2,204.7 L454.2,202.4 L456.3,200.1 L458.3,197.8 L460.3,195.4 L462.3,193.1 L464.3,190.7 L466.4,188.4 L468.4,186.0 L470.4,183.6 L472.4,181.3 L474.4,178.9 L476.5,176.5 L478.5,174.1 L480.5,171.7 L482.5,169.3 L484.5,166.9 L486.6,164.5 L488.6,162.1 L490.6,159.7 L492.6,157.2 L494.6,154.8 L496.7,152.4 L498.7,150.0 L500.7,147.5 L502.7,145.1 L504.7,142.6 L506.8,140.2 L508.8,137.8 L510.8,135.3 L512.8,132.9 L514.8,130.4 L516.9,127.9 L518.9,125.5 L520.9,123.0"/>
<path d="M123.0,348.5 L125.0,348.3 L127.0,348.1 L129.0,347.9 L131.0,347.7 L133.1,347.5 L135.1,347.3 L137.1,347.1 L139.1,346.9 L141.1,346.7 L143.1,346.5 L145.1,346.3 L147.1,346.1 L149.2,345.9 L151.2,345.7 L153.2,345.6 L155.2,345.4 L157.2,345.2 L159.2,345.0 L161.2,344.7 L163.2,344.5 L165.2,344.3 L167.3,344.1 L169.3,343.9 L171.3,343.7 L173.3,343.5 L175.3,343.3 L177.3,343.1 L179.3,342.9 L181.3,342.7 L183.4,342.5 L185.4,342.3 L187.4,342.0 L189.4,341.8 L191.4,341.6 L193.4,341.4 L195.4,341.2 L197.4,341.0 L199.4,340.7 L201.5,340.5 L203.5,340.3 L205.5,340.0 L207.5,339.8 L209.5,339.6 L211.5,339.3 L213.5,339.1 L215.5,338.9 L217.6,338.6 L219.6,338.4 L221.6,338.1 L223.6,337.9 L225.6,337.6 L227.6,337.4 L229.6,337.1 L231.6,336.8 L233.6,336.6 L235.7,336.3 L237.7,336.0 L239.7,335.8 L241.7,335.5 L243.7,335.2 L245.7,334.9 L247.7,334.6 L249.7,334.3 L251.8,334.0 L253.8,333.7 L255.8,333.4 L257.8,333.1 L259.8,332.7 L261.8,332.4 L263.8,332.1 L265.8,331.7 L267.8,331.4 L269.9,331.0 L271.9,330.6 L273.9,330.3 L275.9,329.9 L277.9,329.5 L279.9,329.1 L281.9,328.7 L283.9,328.3 L286.0,327.8 L288.0,327.4 L290.0,327.0 L292.0,326.5 L294.0,326.1 L296.0,325.6 L298.0,325.1 L300.0,324.6 L302.0,324.1 L304.1,323.6 L306.1,323.0 L308.1,322.5 L310.1,321.9 L312.1,321.3 L314.1,320.7 L316.1,320.1 L318.1,319.5 L320.2,318.9 L322.2,318.2 L324.2,317.5 L326.2,316.9 L328.2,316.2 L330.2,315.4 L332.2,314.7 L334.2,313.9 L336.2,313.1 L338.3,312.3 L340.3,311.5 L342.3,310.7 L344.3,309.8 L346.3,308.9 L348.3,308.0 L350.3,307.1 L352.3,306.1 L354.4,305.1 L356.4,304.1 L358.4,303.1 L360.4,302.0 L362.4,300.9 L364.4,299.8 L366.4,298.7 L368.4,297.6 L370.4,296.4 L372.5,295.2 L374.5,293.9 L376.5,292.7 L378.5,291.4 L380.5,290.0 L382.5,288.7 L384.5,287.3 L386.5,285.9 L388.6,284.5 L390.6,283.0 L392.6,281.5 L394.6,280.0 L396.6,278.4 L398.6,276.9 L400.6,275.3 L402.6,273.6 L404.6,272.0 L406.7,270.3 L408.7,268.5 L410.7,266.8 L412.7,265.0 L414.7,263.2 L416.7,261.4 L418.7,259.5 L420.7,257.7 L422.8,255.8 L424.8,253.8 L426.8,251.9 L428.8,249.9 L430.8,247.9 L432.8,245.8 L434.8,243.8 L436.8,241.7 L438.8,239.6 L440.9,237.5 L442.9,235.3 L444.9,233.2 L446.9,231.0 L448.9,228.7 L450.9,226.5 L452.9,224.3 L454.9,222.0 L457.0,219.7 L459.0,217.4 L461.0,215.1 L463.0,212.7 L465.0,210.4 L467.0,208.0 L469.0,205.6 L471.0,203.2 L473.0,200.7 L475.1,198.3 L477.1,195.8 L479.1,193.4 L481.1,190.9 L483.1,188.4 L485.1,185.9 L487.1,183.4 L489.1,180.8 L491.2,178.3 L493.2,175.7 L495.2,173.2 L497.2,170.6 L499.2,168.0 L501.2,165.4 L503.2,162.8 L505.2,160.2 L507.2,157.5 L509.3,154.9 L511.3,152.3 L513.3,149.6 L515.3,147.0 L517.3,144.3 L519.3,141.6 L521.3,138.9 L523.3,136.3 L525.4,133.6 L527.4,130.9 L529.4,128.2 L531.4,125.5 L533.4,122.7"/>
<path d="M123.0,351.5 L125.0,351.5 L127.0,351.5 L129.0,351.5 L131.1,351.5 L133.1,351.5 L135.1,351.5 L137.1,351.4 L139.1,351.4 L141.1,351.3 L143.2,351.3 L145.2,351.2 L147.2,351.1 L149.2,351.1 L151.2,351.0 L153.2,350.9 L155.2,350.8 L157.3,350.7 L159.3,350.5 L161.3,350.4 L163.3,350.3 L165.3,350.1 L167.3,350.0 L169.3,349.8 L171.4,349.7 L173.4,349.5 L175.4,349.3 L177.4,349.2 L179.4,349.0 L181.4,348.8 L183.5,348.6 L185.5,348.4 L187.5,348.2 L189.5,348.0 L191.5,347.8 L193.5,347.6 L195.5,347.4 L197.6,347.1 L199.6,346.9 L201.6,346.7 L203.6,346.4 L205.6,346.2 L207.6,345.9 L209.6,345.7 L211.7,345.4 L213.7,345.2 L215.7,344.9 L217.7,344.7 L219.7,344.4 L221.7,344.1 L223.8,343.8 L225.8,343.6 L227.8,343.3 L229.8,343.0 L231.8,342.7 L233.8,342.4 L235.8,342.1 L237.9,341.8 L239.9,341.5 L241.9,341.2 L243.9,340.9 L245.9,340.6 L247.9,340.3 L250.0,340.0 L252.0,339.7 L254.0,339.3 L256.0,339.0 L258.0,338.7 L260.0,338.3 L262.0,338.0 L264.1,337.7 L266.1,337.3 L268.1,337.0 L270.1,336.7 L272.1,336.3 L274.1,336.0 L276.1,335.6 L278.2,335.2 L280.2,334.9 L282.2,334.5 L284.2,334.1 L286.2,333.8 L288.2,333.4 L290.3,333.0 L292.3,332.6 L294.3,332.2 L296.3,331.8 L298.3,331.4 L300.3,331.0 L302.3,330.6 L304.4,330.2 L306.4,329.8 L308.4,329.3 L310.4,328.9 L312.4,328.5 L314.4,328.0 L316.4,327.6 L318.5,327.1 L320.5,326.6 L322.5,326.1 L324.5,325.6 L326.5,325.1 L328.5,324.6 L330.6,324.1 L332.6,323.6 L334.6,323.0 L336.6,322.4 L338.6,321.9 L340.6,321.3 L342.6,320.6 L344.7,320.0 L346.7,319.4 L348.7,318.7 L350.7,318.0 L352.7,317.3 L354.7,316.6 L356.8,315.8 L358.8,315.0 L360.8,314.2 L362.8,313.4 L364.8,312.6 L366.8,311.7 L368.8,310.8 L370.9,309.9 L372.9,308.9 L374.9,308.0 L376.9,307.0 L378.9,305.9 L380.9,304.9 L382.9,303.8 L385.0,302.6 L387.0,301.5 L389.0,300.3 L391.0,299.1 L393.0,297.8 L395.0,296.6 L397.1,295.2 L399.1,293.9 L401.1,292.5 L403.1,291.1 L405.1,289.6 L407.1,288.2 L409.1,286.6 L411.2,285.1 L413.2,283.5 L415.2,281.9 L417.2,280.2 L419.2,278.6 L421.2,276.8 L423.2,275.1 L425.3,273.3 L427.3,271.5 L429.3,269.6 L431.3,267.7 L433.3,265.8 L435.3,263.8 L437.4,261.8 L439.4,259.8 L441.4,257.8 L443.4,255.7 L445.4,253.6 L447.4,251.4 L449.4,249.2 L451.5,247.0 L453.5,244.8 L455.5,242.5 L457.5,240.2 L459.5,237.9 L461.5,235.5 L463.6,233.1 L465.6,230.7 L467.6,228.3 L469.6,225.8 L471.6,223.3 L473.6,220.8 L475.6,218.3 L477.7,215.7 L479.7,213.1 L481.7,210.5 L483.7,207.8 L485.7,205.2 L487.7,202.5 L489.7,199.8 L491.8,197.1 L493.8,194.3 L495.8,191.5 L497.8,188.7 L499.8,185.9 L501.8,183.1 L503.9,180.2 L505.9,177.4 L507.9,174.5 L509.9,171.7 L511.9,168.9 L513.9,166.1 L515.9,163.3 L518.0,160.5 L520.0,157.8 L522.0,155.1 L524.0,152.4 L526.0,149.8 L528.0,147.2 L530.0,144.7 L532.1,142.2 L534.1,139.8 L536.1,137.5 L538.1,135.2 L540.1,133.0 L542.1,130.9 L544.2,128.9 L546.2,127.0 L548.2,125.1 L550.2,123.4"/>
<path d="M123.0,354.6 L125.0,354.6 L127.0,354.6 L129.0,354.5 L131.1,354.5 L133.1,354.4 L135.1,354.4 L137.1,354.3 L139.1,354.2 L141.1,354.2 L143.1,354.1 L145.2,354.0 L147.2,354.0 L149.2,353.9 L151.2,353.8 L153.2,353.7 L155.2,353.6 L157.2,353.5 L159.3,353.4 L161.3,353.3 L163.3,353.2 L165.3,353.1 L167.3,353.0 L169.3,352.9 L171.3,352.7 L173.4,352.6 L175.4,352.5 L177.4,352.4 L179.4,352.2 L181.4,352.1 L183.4,351.9 L185.4,351.8 L187.5,351.7 L189.5,351.5 L191.5,351.4 L193.5,351.2 L195.5,351.1 L197.5,350.9 L199.5,350.7 L201.6,350.6 L203.6,350.4 L205.6,350.2 L207.6,350.1 L209.6,349.9 L211.6,349.7 L213.6,349.5 L215.7,349.4 L217.7,349.2 L219.7,349.0 L221.7,348.8 L223.7,348.6 L225.7,348.4 L227.7,348.2 L229.8,348.0 L231.8,347.8 L233.8,347.6 L235.8,347.4 L237.8,347.2 L239.8,347.0 L241.8,346.8 L243.9,346.6 L245.9,346.3 L247.9,346.1 L249.9,345.9 L251.9,345.7 L253.9,345.4 L255.9,345.2 L258.0,345.0 L260.0,344.7 L262.0,344.5 L264.0,344.3 L266.0,344.0 L268.0,343.8 L270.0,343.5 L272.1,343.3 L274.1,343.0 L276.1,342.7 L278.1,342.5 L280.1,342.2 L282.1,342.0 L284.1,341.7 L286.2,341.4 L288.2,341.1 L290.2,340.8 L292.2,340.6 L294.2,340.3 L296.2,340.0 L298.2,339.7 L300.3,339.4 L302.3,339.1 L304.3,338.7 L306.3,338.4 L308.3,338.1 L310.3,337.8 L312.3,337.4 L314.4,337.1 L316.4,336.8 L318.4,336.4 L320.4,336.0 L322.4,335.7 L324.4,335.3 L326.4,334.9 L328.5,334.5 L330.5,334.2 L332.5,333.8 L334.5,333.3 L336.5,332.9 L338.5,332.5 L340.5,332.1 L342.6,331.6 L344.6,331.2 L346.6,330.7 L348.6,330.2 L350.6,329.7 L352.6,329.2 L354.6,328.7 L356.7,328.2 L358.7,327.6 L360.7,327.1 L362.7,326.5 L364.7,325.9 L366.7,325.3 L368.7,324.7 L370.8,324.1 L372.8,323.5 L374.8,322.8 L376.8,322.1 L378.8,321.4 L380.8,320.7 L382.8,320.0 L384.9,319.2 L386.9,318.4 L388.9,317.6 L390.9,316.8 L392.9,316.0 L394.9,315.1 L396.9,314.2 L399.0,313.3 L401.0,312.4 L403.0,311.5 L405.0,310.5 L407.0,309.5 L409.0,308.4 L411.0,307.4 L413.1,306.3 L415.1,305.2 L417.1,304.0 L419.1,302.9 L421.1,301.7 L423.1,300.4 L425.1,299.2 L427.2,297.9 L429.2,296.6 L431.2,295.2 L433.2,293.9 L435.2,292.5 L437.2,291.0 L439.2,289.6 L441.3,288.1 L443.3,286.6 L445.3,285.0 L447.3,283.4 L449.3,281.8 L451.3,280.2 L453.3,278.5 L455.4,276.7 L457.4,275.0 L459.4,273.2 L461.4,271.3 L463.4,269.4 L465.4,267.5 L467.4,265.5 L469.5,263.5 L471.5,261.5 L473.5,259.4 L475.5,257.2 L477.5,255.0 L479.5,252.8 L481.5,250.5 L483.6,248.2 L485.6,245.8 L487.6,243.4 L489.6,240.9 L491.6,238.4 L493.6,235.8 L495.6,233.2 L497.7,230.6 L499.7,227.9 L501.7,225.1 L503.7,222.3 L505.7,219.5 L507.7,216.7 L509.7,213.8 L511.8,210.9 L513.8,208.0 L515.8,205.0 L517.8,202.0 L519.8,199.0 L521.8,196.0 L523.8,193.0 L525.9,190.0 L527.9,186.9 L529.9,183.9 L531.9,180.8 L533.9,177.8 L535.9,174.8 L537.9,171.7 L540.0,168.7 L542.0,165.8 L544.0,162.8 L546.0,159.8 L548.0,156.9 L550.0,154.1 L552.0,151.2 L554.1,148.4 L556.1,145.7 L558.1,143.0 L560.1,140.3 L562.1,137.7 L564.1,135.2 L566.1,132.7 L568.2,130.3 L570.2,127.9 L572.2,125.6 L574.2,123.5"/>
<path d="M123.0,357.0 L125.0,357.0 L127.0,357.0 L129.0,357.0 L131.0,357.0 L133.1,356.9 L135.1,356.9 L137.1,356.9 L139.1,356.9 L141.1,356.8 L143.1,356.8 L145.1,356.8 L147.1,356.7 L149.2,356.7 L151.2,356.6 L153.2,356.6 L155.2,356.5 L157.2,356.5 L159.2,356.4 L161.2,356.3 L163.2,356.2 L165.3,356.2 L167.3,356.1 L169.3,356.0 L171.3,355.9 L173.3,355.8 L175.3,355.7 L177.3,355.6 L179.3,355.5 L181.4,355.4 L183.4,355.3 L185.4,355.2 L187.4,355.1 L189.4,355.0 L191.4,354.9 L193.4,354.7 L195.4,354.6 L197.5,354.5 L199.5,354.3 L201.5,354.2 L203.5,354.1 L205.5,353.9 L207.5,353.8 L209.5,353.6 L211.5,353.5 L213.6,353.3 L215.6,353.2 L217.6,353.0 L219.6,352.9 L221.6,352.7 L223.6,352.5 L225.6,352.4 L227.6,352.2 L229.7,352.0 L231.7,351.8 L233.7,351.7 L235.7,351.5 L237.7,351.3 L239.7,351.1 L241.7,350.9 L243.7,350.7 L245.8,350.5 L247.8,350.3 L249.8,350.1 L251.8,349.9 L253.8,349.7 L255.8,349.5 L257.8,349.3 L259.8,349.1 L261.9,348.8 L263.9,348.6 L265.9,348.4 L267.9,348.2 L269.9,347.9 L271.9,347.7 L273.9,347.5 L275.9,347.2 L278.0,347.0 L280.0,346.7 L282.0,346.5 L284.0,346.2 L286.0,346.0 L288.0,345.7 L290.0,345.5 L292.0,345.2 L294.1,344.9 L296.1,344.7 L298.1,344.4 L300.1,344.1 L302.1,343.8 L304.1,343.5 L306.1,343.2 L308.1,343.0 L310.2,342.7 L312.2,342.3 L314.2,342.0 L316.2,341.7 L318.2,341.4 L320.2,341.1 L322.2,340.8 L324.2,340.4 L326.3,340.1 L328.3,339.7 L330.3,339.4 L332.3,339.0 L334.3,338.7 L336.3,338.3 L338.3,337.9 L340.3,337.5 L342.4,337.2 L344.4,336.8 L346.4,336.4 L348.4,335.9 L350.4,335.5 L352.4,335.1 L354.4,334.7 L356.4,334.2 L358.4,333.8 L360.5,333.3 L362.5,332.8 L364.5,332.3 L366.5,331.9 L368.5,331.4 L370.5,330.8 L372.5,330.3 L374.5,329.8 L376.6,329.2 L378.6,328.7 L380.6,328.1 L382.6,327.5 L384.6,326.9 L386.6,326.3 L388.6,325.7 L390.6,325.1 L392.7,324.4 L394.7,323.7 L396.7,323.0 L398.7,322.4 L400.7,321.6 L402.7,320.9 L404.7,320.2 L406.7,319.4 L408.8,318.6 L410.8,317.8 L412.8,317.0 L414.8,316.1 L416.8,315.3 L418.8,314.4 L420.8,313.5 L422.8,312.6 L424.9,311.6 L426.9,310.7 L428.9,309.7 L430.9,308.7 L432.9,307.7 L434.9,306.6 L436.9,305.5 L438.9,304.4 L441.0,303.3 L443.0,302.1 L445.0,301.0 L447.0,299.8 L449.0,298.5 L451.0,297.3 L453.0,296.0 L455.0,294.7 L457.1,293.4 L459.1,292.0 L461.1,290.6 L463.1,289.2 L465.1,287.8 L467.1,286.3 L469.1,284.8 L471.1,283.3 L473.2,281.7 L475.2,280.1 L477.2,278.5 L479.2,276.8 L481.2,275.1 L483.2,273.3 L485.2,271.5 L487.2,269.7 L489.3,267.8 L491.3,265.9 L493.3,263.9 L495.3,261.9 L497.3,259.8 L499.3,257.7 L501.3,255.5 L503.3,253.2 L505.4,250.9 L507.4,248.6 L509.4,246.2 L511.4,243.7 L513.4,241.2 L515.4,238.6 L517.4,235.9 L519.4,233.2 L521.5,230.4 L523.5,227.6 L525.5,224.8 L527.5,221.9 L529.5,218.9 L531.5,216.0 L533.5,213.0 L535.5,209.9 L537.6,206.8 L539.6,203.7 L541.6,200.6 L543.6,197.5 L545.6,194.3 L547.6,191.1 L549.6,187.9 L551.6,184.7 L553.7,181.6 L555.7,178.4 L557.7,175.2 L559.7,172.0 L561.7,168.8 L563.7,165.7 L565.7,162.5 L567.7,159.4 L569.8,156.4 L571.8,153.3 L573.8,150.3 L575.8,147.4 L577.8,144.5 L579.8,141.7 L581.8,138.9 L583.8,136.2 L585.9,133.5 L587.9,130.9 L589.9,128.4 L591.9,126.0 L593.9,123.7"/>
<path d="M123.0,359.3 L125.0,359.2 L127.0,359.1 L129.0,359.1 L131.1,359.0 L133.1,358.9 L135.1,358.8 L137.1,358.7 L139.1,358.6 L141.1,358.5 L143.2,358.4 L145.2,358.4 L147.2,358.3 L149.2,358.2 L151.2,358.1 L153.2,358.0 L155.3,357.9 L157.3,357.8 L159.3,357.7 L161.3,357.6 L163.3,357.5 L165.3,357.4 L167.4,357.3 L169.4,357.2 L171.4,357.1 L173.4,357.0 L175.4,356.9 L177.4,356.8 L179.4,356.7 L181.5,356.6 L183.5,356.5 L185.5,356.4 L187.5,356.3 L189.5,356.2 L191.5,356.1 L193.6,356.0 L195.6,355.9 L197.6,355.7 L199.6,355.6 L201.6,355.5 L203.6,355.4 L205.7,355.3 L207.7,355.2 L209.7,355.1 L211.7,354.9 L213.7,354.8 L215.7,354.7 L217.7,354.6 L219.8,354.5 L221.8,354.4 L223.8,354.2 L225.8,354.1 L227.8,354.0 L229.8,353.9 L231.9,353.7 L233.9,353.6 L235.9,353.5 L237.9,353.4 L239.9,353.2 L241.9,353.1 L244.0,353.0 L246.0,352.8 L248.0,352.7 L250.0,352.6 L252.0,352.4 L254.0,352.3 L256.1,352.1 L258.1,352.0 L260.1,351.9 L262.1,351.7 L264.1,351.6 L266.1,351.4 L268.1,351.3 L270.2,351.1 L272.2,351.0 L274.2,350.8 L276.2,350.7 L278.2,350.5 L280.2,350.4 L282.3,350.2 L284.3,350.1 L286.3,349.9 L288.3,349.7 L290.3,349.6 L292.3,349.4 L294.4,349.2 L296.4,349.1 L298.4,348.9 L300.4,348.7 L302.4,348.5 L304.4,348.4 L306.4,348.2 L308.5,348.0 L310.5,347.8 L312.5,347.6 L314.5,347.4 L316.5,347.2 L318.5,347.0 L320.6,346.8 L322.6,346.6 L324.6,346.4 L326.6,346.2 L328.6,346.0 L330.6,345.7 L332.7,345.5 L334.7,345.3 L336.7,345.1 L338.7,344.8 L340.7,344.6 L342.7,344.3 L344.8,344.1 L346.8,343.8 L348.8,343.6 L350.8,343.3 L352.8,343.0 L354.8,342.7 L356.8,342.5 L358.9,342.2 L360.9,341.9 L362.9,341.6 L364.9,341.2 L366.9,340.9 L368.9,340.6 L371.0,340.3 L373.0,339.9 L375.0,339.6 L377.0,339.2 L379.0,338.8 L381.0,338.5 L383.1,338.1 L385.1,337.7 L387.1,337.3 L389.1,336.9 L391.1,336.4 L393.1,336.0 L395.1,335.5 L397.2,335.1 L399.2,334.6 L401.2,334.1 L403.2,333.6 L405.2,333.1 L407.2,332.5 L409.3,332.0 L411.3,331.4 L413.3,330.9 L415.3,330.3 L417.3,329.7 L419.3,329.0 L421.4,328.4 L423.4,327.7 L425.4,327.0 L427.4,326.3 L429.4,325.6 L431.4,324.9 L433.5,324.1 L435.5,323.3 L437.5,322.5 L439.5,321.7 L441.5,320.8 L443.5,319.9 L445.5,319.0 L447.6,318.1 L449.6,317.1 L451.6,316.1 L453.6,315.1 L455.6,314.1 L457.6,313.0 L459.7,311.9 L461.7,310.8 L463.7,309.6 L465.7,308.5 L467.7,307.2 L469.7,306.0 L471.8,304.7 L473.8,303.4 L475.8,302.0 L477.8,300.7 L479.8,299.2 L481.8,297.8 L483.8,296.3 L485.9,294.8 L487.9,293.2 L489.9,291.6 L491.9,290.0 L493.9,288.3 L495.9,286.6 L498.0,284.9 L500.0,283.1 L502.0,281.3 L504.0,279.4 L506.0,277.5 L508.0,275.6 L510.1,273.6 L512.1,271.6 L514.1,269.6 L516.1,267.5 L518.1,265.4 L520.1,263.2 L522.2,261.0 L524.2,258.8 L526.2,256.5 L528.2,254.2 L530.2,251.8 L532.2,249.4 L534.2,247.0 L536.3,244.6 L538.3,242.1 L540.3,239.5 L542.3,237.0 L544.3,234.4 L546.3,231.7 L548.4,229.1 L550.4,226.4 L552.4,223.6 L554.4,220.9 L556.4,218.1 L558.4,215.2 L560.5,212.4 L562.5,209.5 L564.5,206.6 L566.5,203.6 L568.5,200.6 L570.5,197.6 L572.5,194.6 L574.6,191.6 L576.6,188.5 L578.6,185.4 L580.6,182.2 L582.6,179.1 L584.6,175.9 L586.7,172.7 L588.7,169.5 L590.7,166.3 L592.7,163.0 L594.7,159.7 L596.7,156.4 L598.8,153.1 L600.8,149.7 L602.8,146.4 L604.8,143.0 L606.8,139.6 L608.8,136.2 L610.9,132.8 L612.9,129.3 L614.9,125.9 L616.9,122.4"/>
<path d="M123.0,361.2 L125.0,361.2 L127.0,361.2 L129.0,361.2 L131.0,361.2 L133.1,361.2 L135.1,361.2 L137.1,361.2 L139.1,361.2 L141.1,361.2 L143.1,361.2 L145.1,361.2 L147.1,361.2 L149.1,361.1 L151.1,361.1 L153.2,361.1 L155.2,361.0 L157.2,361.0 L159.2,361.0 L161.2,360.9 L163.2,360.9 L165.2,360.8 L167.2,360.8 L169.2,360.7 L171.3,360.7 L173.3,360.6 L175.3,360.6 L177.3,360.5 L179.3,360.4 L181.3,360.4 L183.3,360.3 L185.3,360.2 L187.3,360.1 L189.4,360.0 L191.4,360.0 L193.4,359.9 L195.4,359.8 L197.4,359.7 L199.4,359.6 L201.4,359.5 L203.4,359.4 L205.4,359.3 L207.4,359.2 L209.5,359.1 L211.5,359.0 L213.5,358.9 L215.5,358.8 L217.5,358.7 L219.5,358.6 L221.5,358.4 L223.5,358.3 L225.5,358.2 L227.6,358.1 L229.6,358.0 L231.6,357.8 L233.6,357.7 L235.6,357.6 L237.6,357.4 L239.6,357.3 L241.6,357.2 L243.6,357.0 L245.6,356.9 L247.7,356.8 L249.7,356.6 L251.7,356.5 L253.7,356.3 L255.7,356.2 L257.7,356.0 L259.7,355.9 L261.7,355.7 L263.7,355.6 L265.8,355.4 L267.8,355.2 L269.8,355.1 L271.8,354.9 L273.8,354.7 L275.8,354.6 L277.8,354.4 L279.8,354.2 L281.8,354.1 L283.9,353.9 L285.9,353.7 L287.9,353.5 L289.9,353.4 L291.9,353.2 L293.9,353.0 L295.9,352.8 L297.9,352.6 L299.9,352.5 L301.9,352.3 L304.0,352.1 L306.0,351.9 L308.0,351.7 L310.0,351.5 L312.0,351.3 L314.0,351.1 L316.0,350.9 L318.0,350.7 L320.0,350.5 L322.1,350.3 L324.1,350.1 L326.1,349.9 L328.1,349.6 L330.1,349.4 L332.1,349.2 L334.1,349.0 L336.1,348.8 L338.1,348.5 L340.1,348.3 L342.2,348.1 L344.2,347.8 L346.2,347.6 L348.2,347.3 L350.2,347.1 L352.2,346.8 L354.2,346.6 L356.2,346.3 L358.2,346.1 L360.3,345.8 L362.3,345.5 L364.3,345.3 L366.3,345.0 L368.3,344.7 L370.3,344.4 L372.3,344.1 L374.3,343.8 L376.3,343.5 L378.4,343.2 L380.4,342.9 L382.4,342.6 L384.4,342.3 L386.4,341.9 L388.4,341.6 L390.4,341.3 L392.4,340.9 L394.4,340.6 L396.4,340.2 L398.5,339.8 L400.5,339.4 L402.5,339.0 L404.5,338.6 L406.5,338.2 L408.5,337.8 L410.5,337.4 L412.5,336.9 L414.5,336.5 L416.6,336.0 L418.6,335.5 L420.6,335.0 L422.6,334.5 L424.6,334.0 L426.6,333.5 L428.6,333.0 L430.6,332.4 L432.6,331.8 L434.6,331.2 L436.7,330.6 L438.7,330.0 L440.7,329.4 L442.7,328.7 L444.7,328.0 L446.7,327.3 L448.7,326.6 L450.7,325.9 L452.7,325.1 L454.8,324.4 L456.8,323.6 L458.8,322.7 L460.8,321.9 L462.8,321.0 L464.8,320.1 L466.8,319.2 L468.8,318.3 L470.8,317.3 L472.8,316.3 L474.9,315.3 L476.9,314.2 L478.9,313.2 L480.9,312.0 L482.9,310.9 L484.9,309.7 L486.9,308.5 L488.9,307.3 L490.9,306.1 L493.0,304.8 L495.0,303.4 L497.0,302.1 L499.0,300.7 L501.0,299.3 L503.0,297.8 L505.0,296.3 L507.0,294.8 L509.0,293.2 L511.1,291.6 L513.1,290.0 L515.1,288.3 L517.1,286.6 L519.1,284.9 L521.1,283.1 L523.1,281.3 L525.1,279.4 L527.1,277.5 L529.1,275.5 L531.2,273.5 L533.2,271.5 L535.2,269.4 L537.2,267.2 L539.2,265.0 L541.2,262.8 L543.2,260.5 L545.2,258.1 L547.2,255.7 L549.3,253.2 L551.3,250.7 L553.3,248.1 L555.3,245.5 L557.3,242.7 L559.3,240.0 L561.3,237.2 L563.3,234.3 L565.3,231.4 L567.3,228.4 L569.4,225.3 L571.4,222.3 L573.4,219.2 L575.4,216.0 L577.4,212.8 L579.4,209.6 L581.4,206.4 L583.4,203.1 L585.4,199.8 L587.5,196.5 L589.5,193.1 L591.5,189.8 L593.5,186.4 L595.5,183.0 L597.5,179.6 L599.5,176.3 L601.5,172.9 L603.5,169.5 L605.6,166.2 L607.6,162.8 L609.6,159.5 L611.6,156.2 L613.6,153.0 L615.6,149.8 L617.6,146.6 L619.6,143.5 L621.6,140.4 L623.6,137.3 L625.7,134.4 L627.7,131.4 L629.7,128.6 L631.7,125.8 L633.7,123.1"/>
<path d="M123.0,363.2 L125.0,363.2 L127.0,363.2 L129.0,363.2 L131.1,363.2 L133.1,363.2 L135.1,363.2 L137.1,363.2 L139.1,363.2 L141.1,363.2 L143.1,363.2 L145.2,363.2 L147.2,363.2 L149.2,363.2 L151.2,363.2 L153.2,363.2 L155.2,363.2 L157.2,363.2 L159.3,363.2 L161.3,363.2 L163.3,363.2 L165.3,363.2 L167.3,363.2 L169.3,363.2 L171.3,363.2 L173.4,363.2 L175.4,363.2 L177.4,363.2 L179.4,363.2 L181.4,363.2 L183.4,363.2 L185.4,363.2 L187.5,363.2 L189.5,363.2 L191.5,363.2 L193.5,363.2 L195.5,363.2 L197.5,363.2 L199.6,363.2 L201.6,363.2 L203.6,363.2 L205.6,363.2 L207.6,363.2 L209.6,363.2 L211.6,363.2 L213.7,363.2 L215.7,363.2 L217.7,363.2 L219.7,363.2 L221.7,363.1 L223.7,363.0 L225.7,362.9 L227.8,362.8 L229.8,362.6 L231.8,362.5 L233.8,362.4 L235.8,362.3 L237.8,362.2 L239.8,362.0 L241.9,361.9 L243.9,361.8 L245.9,361.6 L247.9,361.5 L249.9,361.4 L251.9,361.2 L253.9,361.1 L256.0,360.9 L258.0,360.8 L260.0,360.6 L262.0,360.5 L264.0,360.3 L266.0,360.2 L268.0,360.0 L270.1,359.8 L272.1,359.7 L274.1,359.5 L276.1,359.3 L278.1,359.2 L280.1,359.0 L282.1,358.8 L284.2,358.7 L286.2,358.5 L288.2,358.3 L290.2,358.1 L292.2,358.0 L294.2,357.8 L296.2,357.6 L298.3,357.4 L300.3,357.2 L302.3,357.1 L304.3,356.9 L306.3,356.7 L308.3,356.5 L310.3,356.3 L312.4,356.1 L314.4,355.9 L316.4,355.8 L318.4,355.6 L320.4,355.4 L322.4,355.2 L324.4,355.0 L326.5,354.8 L328.5,354.6 L330.5,354.4 L332.5,354.2 L334.5,354.0 L336.5,353.8 L338.6,353.6 L340.6,353.4 L342.6,353.2 L344.6,353.0 L346.6,352.8 L348.6,352.6 L350.6,352.4 L352.7,352.2 L354.7,352.0 L356.7,351.8 L358.7,351.6 L360.7,351.4 L362.7,351.2 L364.7,351.0 L366.8,350.8 L368.8,350.6 L370.8,350.4 L372.8,350.2 L374.8,350.0 L376.8,349.8 L378.8,349.6 L380.9,349.4 L382.9,349.2 L384.9,349.0 L386.9,348.7 L388.9,348.5 L390.9,348.3 L392.9,348.1 L395.0,347.9 L397.0,347.7 L399.0,347.4 L401.0,347.2 L403.0,347.0 L405.0,346.8 L407.0,346.5 L409.1,346.3 L411.1,346.0 L413.1,345.8 L415.1,345.6 L417.1,345.3 L419.1,345.1 L421.1,344.8 L423.2,344.6 L425.2,344.3 L427.2,344.0 L429.2,343.8 L431.2,343.5 L433.2,343.2 L435.2,342.9 L437.3,342.6 L439.3,342.3 L441.3,342.0 L443.3,341.7 L445.3,341.4 L447.3,341.1 L449.3,340.7 L451.4,340.4 L453.4,340.0 L455.4,339.7 L457.4,339.3 L459.4,338.9 L461.4,338.5 L463.5,338.1 L465.5,337.7 L467.5,337.3 L469.5,336.8 L471.5,336.4 L473.5,335.9 L475.5,335.4 L477.6,334.9 L479.6,334.4 L481.6,333.9 L483.6,333.3 L485.6,332.7 L487.6,332.2 L489.6,331.5 L491.7,330.9 L493.7,330.3 L495.7,329.6 L497.7,328.9 L499.7,328.2 L501.7,327.5 L503.7,326.7 L505.8,325.9 L507.8,325.1 L509.8,324.3 L511.8,323.4 L513.8,322.5 L515.8,321.6 L517.8,320.6 L519.9,319.7 L521.9,318.6 L523.9,317.6 L525.9,316.5 L527.9,315.4 L529.9,314.2 L531.9,312.9 L534.0,311.7 L536.0,310.4 L538.0,309.0 L540.0,307.6 L542.0,306.1 L544.0,304.5 L546.0,303.0 L548.1,301.3 L550.1,299.6 L552.1,297.8 L554.1,296.0 L556.1,294.1 L558.1,292.1 L560.1,290.0 L562.2,287.9 L564.2,285.7 L566.2,283.5 L568.2,281.1 L570.2,278.7 L572.2,276.2 L574.2,273.6 L576.3,271.0 L578.3,268.3 L580.3,265.5 L582.3,262.6 L584.3,259.6 L586.3,256.5 L588.3,253.4 L590.4,250.1 L592.4,246.9 L594.4,243.5 L596.4,240.1 L598.4,236.6 L600.4,233.0 L602.5,229.4 L604.5,225.7 L606.5,222.0 L608.5,218.3 L610.5,214.5 L612.5,210.6 L614.5,206.8 L616.6,202.9 L618.6,199.0 L620.6,195.1 L622.6,191.3 L624.6,187.4 L626.6,183.5 L628.6,179.7 L630.7,175.9 L632.7,172.1 L634.7,168.4 L636.7,164.7 L638.7,161.2 L640.7,157.6 L642.7,154.2 L644.8,150.8 L646.8,147.5 L648.8,144.4 L650.8,141.3 L652.8,138.3 L654.8,135.5 L656.8,132.8 L658.9,130.2 L660.9,127.8 L662.9,125.5 L664.9,123.4"/>
</g>
<g stroke="#2a2a2e" stroke-width="1.2" fill="none"><line x1="123.0" y1="136.1" x2="667.9" y2="136.1"/>
<line x1="123.0" y1="162.1" x2="667.9" y2="162.1"/>
<line x1="123.0" y1="188.2" x2="667.9" y2="188.2"/>
<line x1="123.0" y1="214.2" x2="667.9" y2="214.2"/>
<line x1="123.0" y1="240.3" x2="667.9" y2="240.3"/>
<line x1="123.0" y1="266.4" x2="667.9" y2="266.4"/>
<line x1="123.0" y1="292.4" x2="667.9" y2="292.4"/>
<line x1="123.0" y1="318.5" x2="667.9" y2="318.5"/>
<line x1="123.0" y1="344.5" x2="667.9" y2="344.5"/>
<line x1="204.6" y1="110.0" x2="204.6" y2="370.6"/>
<line x1="254.0" y1="110.0" x2="254.0" y2="370.6"/>
<line x1="286.8" y1="110.0" x2="286.8" y2="370.6"/>
<line x1="313.6" y1="110.0" x2="313.6" y2="370.6"/>
<line x1="335.2" y1="110.0" x2="335.2" y2="370.6"/>
<line x1="354.1" y1="110.0" x2="354.1" y2="370.6"/>
<line x1="368.9" y1="110.0" x2="368.9" y2="370.6"/>
<line x1="382.8" y1="110.0" x2="382.8" y2="370.6"/>
<line x1="394.3" y1="110.0" x2="394.3" y2="370.6"/>
<line x1="477.2" y1="110.0" x2="477.2" y2="370.6"/>
<line x1="524.9" y1="110.0" x2="524.9" y2="370.6"/>
<line x1="559.5" y1="110.0" x2="559.5" y2="370.6"/>
<line x1="585.2" y1="110.0" x2="585.2" y2="370.6"/>
<line x1="607.8" y1="110.0" x2="607.8" y2="370.6"/>
<line x1="625.3" y1="110.0" x2="625.3" y2="370.6"/>
<line x1="641.8" y1="110.0" x2="641.8" y2="370.6"/>
<line x1="654.1" y1="110.0" x2="654.1" y2="370.6"/>
<rect x="123.0" y="110.0" width="544.9" height="260.6" fill="none" stroke-width="1.8"/></g>
<rect x="425" y="171" width="223" height="15.5" fill="#a3a9b4" fill-opacity="0.92"/>
<rect x="126.8" y="460.1" width="548.2" height="241.19999999999993" fill="#e7e7eb"/>
<g stroke="#f6f6f8" stroke-width="4.2" fill="none"><line x1="126.8" y1="484.2" x2="675.0" y2="484.2"/>
<line x1="126.8" y1="508.3" x2="675.0" y2="508.3"/>
<line x1="126.8" y1="532.5" x2="675.0" y2="532.5"/>
<line x1="126.8" y1="556.6" x2="675.0" y2="556.6"/>
<line x1="126.8" y1="580.7" x2="675.0" y2="580.7"/>
<line x1="126.8" y1="604.8" x2="675.0" y2="604.8"/>
<line x1="126.8" y1="628.9" x2="675.0" y2="628.9"/>
<line x1="126.8" y1="653.1" x2="675.0" y2="653.1"/>
<line x1="126.8" y1="677.2" x2="675.0" y2="677.2"/>
<line x1="208.5" y1="460.1" x2="208.5" y2="701.3"/>
<line x1="258.6" y1="460.1" x2="258.6" y2="701.3"/>
<line x1="291.7" y1="460.1" x2="291.7" y2="701.3"/>
<line x1="318.9" y1="460.1" x2="318.9" y2="701.3"/>
<line x1="340.5" y1="460.1" x2="340.5" y2="701.3"/>
<line x1="359.0" y1="460.1" x2="359.0" y2="701.3"/>
<line x1="375.6" y1="460.1" x2="375.6" y2="701.3"/>
<line x1="388.0" y1="460.1" x2="388.0" y2="701.3"/>
<line x1="399.3" y1="460.1" x2="399.3" y2="701.3"/>
<line x1="483.3" y1="460.1" x2="483.3" y2="701.3"/>
<line x1="533.0" y1="460.1" x2="533.0" y2="701.3"/>
<line x1="566.6" y1="460.1" x2="566.6" y2="701.3"/>
<line x1="592.4" y1="460.1" x2="592.4" y2="701.3"/>
<line x1="615.1" y1="460.1" x2="615.1" y2="701.3"/>
<line x1="632.6" y1="460.1" x2="632.6" y2="701.3"/>
<line x1="648.6" y1="460.1" x2="648.6" y2="701.3"/>
<line x1="662.6" y1="460.1" x2="662.6" y2="701.3"/>
<rect x="126.8" y="460.1" width="548.2" height="241.2" fill="none" stroke-width="1.8"/></g>
<g stroke="#f2d2bc" stroke-width="4" fill="none" stroke-linecap="butt">
<path d="M126.8,648.2 L128.8,647.8 L130.9,647.3 L132.9,646.8 L134.9,646.2 L136.9,645.7 L139.0,645.2 L141.0,644.7 L143.0,644.1 L145.0,643.5 L147.1,643.0 L149.1,642.4 L151.1,641.8 L153.2,641.2 L155.2,640.6 L157.2,639.9 L159.2,639.3 L161.3,638.7 L163.3,638.0 L165.3,637.3 L167.4,636.6 L169.4,635.9 L171.4,635.2 L173.4,634.4 L175.5,633.6 L177.5,632.9 L179.5,632.1 L181.5,631.3 L183.6,630.4 L185.6,629.6 L187.6,628.7 L189.7,627.8 L191.7,626.9 L193.7,626.0 L195.7,625.0 L197.8,624.0 L199.8,623.0 L201.8,622.0 L203.8,621.0 L205.9,619.9 L207.9,618.8 L209.9,617.7 L212.0,616.6 L214.0,615.4 L216.0,614.2 L218.0,613.0 L220.1,611.8 L222.1,610.5 L224.1,609.2 L226.2,607.9 L228.2,606.6 L230.2,605.2 L232.2,603.8 L234.3,602.4 L236.3,601.0 L238.3,599.5 L240.3,598.0 L242.4,596.5 L244.4,594.9 L246.4,593.4 L248.5,591.8 L250.5,590.1 L252.5,588.5 L254.5,586.8 L256.6,585.1 L258.6,583.4 L260.6,581.6 L262.6,579.9 L264.7,578.1 L266.7,576.3 L268.7,574.4 L270.8,572.6 L272.8,570.7 L274.8,568.8 L276.8,566.8 L278.9,564.9 L280.9,562.9 L282.9,560.9 L285.0,558.9 L287.0,556.9 L289.0,554.9 L291.0,552.8 L293.1,550.7 L295.1,548.6 L297.1,546.5 L299.1,544.4 L301.2,542.2 L303.2,540.1 L305.2,537.9 L307.3,535.7 L309.3,533.5 L311.3,531.3 L313.3,529.1 L315.4,526.8 L317.4,524.6 L319.4,522.3 L321.4,520.0 L323.5,517.7 L325.5,515.4 L327.5,513.1 L329.6,510.8 L331.6,508.5 L333.6,506.1 L335.6,503.8 L337.7,501.4 L339.7,499.1 L341.7,496.7 L343.8,494.3 L345.8,491.9 L347.8,489.5 L349.8,487.1 L351.9,484.7 L353.9,482.3 L355.9,479.9 L357.9,477.5 L360.0,475.1 L362.0,472.6"/>
<path d="M126.8,658.3 L128.8,657.9 L130.9,657.5 L132.9,657.0 L134.9,656.6 L136.9,656.1 L139.0,655.6 L141.0,655.2 L143.0,654.7 L145.0,654.3 L147.1,653.8 L149.1,653.3 L151.1,652.8 L153.1,652.4 L155.2,651.9 L157.2,651.4 L159.2,650.9 L161.2,650.4 L163.3,649.9 L165.3,649.4 L167.3,648.9 L169.3,648.4 L171.4,647.9 L173.4,647.4 L175.4,646.9 L177.5,646.3 L179.5,645.8 L181.5,645.2 L183.5,644.7 L185.6,644.1 L187.6,643.5 L189.6,643.0 L191.6,642.4 L193.7,641.8 L195.7,641.2 L197.7,640.5 L199.7,639.9 L201.8,639.2 L203.8,638.6 L205.8,637.9 L207.8,637.2 L209.9,636.4 L211.9,635.7 L213.9,634.9 L215.9,634.2 L218.0,633.3 L220.0,632.5 L222.0,631.6 L224.1,630.8 L226.1,629.8 L228.1,628.9 L230.1,627.9 L232.2,626.9 L234.2,625.9 L236.2,624.8 L238.2,623.7 L240.3,622.5 L242.3,621.4 L244.3,620.1 L246.3,618.9 L248.4,617.6 L250.4,616.3 L252.4,614.9 L254.4,613.5 L256.5,612.0 L258.5,610.6 L260.5,609.1 L262.6,607.5 L264.6,605.9 L266.6,604.3 L268.6,602.7 L270.7,601.0 L272.7,599.3 L274.7,597.5 L276.7,595.8 L278.8,594.0 L280.8,592.2 L282.8,590.3 L284.8,588.5 L286.9,586.6 L288.9,584.7 L290.9,582.8 L292.9,580.9 L295.0,578.9 L297.0,576.9 L299.0,575.0 L301.0,573.0 L303.1,571.0 L305.1,569.0 L307.1,566.9 L309.2,564.9 L311.2,562.9 L313.2,560.8 L315.2,558.7 L317.3,556.7 L319.3,554.6 L321.3,552.5 L323.3,550.5 L325.4,548.4 L327.4,546.3 L329.4,544.2 L331.4,542.1 L333.5,540.0 L335.5,537.9 L337.5,535.8 L339.5,533.7 L341.6,531.6 L343.6,529.5 L345.6,527.3 L347.6,525.2 L349.7,523.1 L351.7,521.0 L353.7,518.9 L355.8,516.8 L357.8,514.6 L359.8,512.5 L361.8,510.4 L363.9,508.3 L365.9,506.2 L367.9,504.1 L369.9,501.9 L372.0,499.8 L374.0,497.7 L376.0,495.6 L378.0,493.5 L380.1,491.3 L382.1,489.2 L384.1,487.1 L386.1,485.0 L388.2,482.9 L390.2,480.8 L392.2,478.7 L394.2,476.5 L396.3,474.4 L398.3,472.3"/>
<path d="M126.8,664.4 L128.8,664.2 L130.8,663.9 L132.8,663.6 L134.9,663.3 L136.9,663.0 L138.9,662.7 L140.9,662.4 L142.9,662.1 L144.9,661.8 L146.9,661.4 L149.0,661.1 L151.0,660.7 L153.0,660.4 L155.0,660.0 L157.0,659.6 L159.0,659.2 L161.1,658.8 L163.1,658.4 L165.1,658.0 L167.1,657.5 L169.1,657.1 L171.1,656.6 L173.1,656.2 L175.2,655.7 L177.2,655.2 L179.2,654.8 L181.2,654.3 L183.2,653.8 L185.2,653.2 L187.2,652.7 L189.3,652.2 L191.3,651.7 L193.3,651.1 L195.3,650.5 L197.3,650.0 L199.3,649.4 L201.3,648.8 L203.4,648.2 L205.4,647.6 L207.4,647.0 L209.4,646.3 L211.4,645.7 L213.4,645.0 L215.5,644.3 L217.5,643.6 L219.5,642.9 L221.5,642.2 L223.5,641.5 L225.5,640.8 L227.5,640.0 L229.6,639.2 L231.6,638.5 L233.6,637.7 L235.6,636.8 L237.6,636.0 L239.6,635.2 L241.6,634.3 L243.7,633.4 L245.7,632.5 L247.7,631.6 L249.7,630.6 L251.7,629.7 L253.7,628.7 L255.8,627.7 L257.8,626.7 L259.8,625.6 L261.8,624.6 L263.8,623.5 L265.8,622.4 L267.8,621.3 L269.9,620.1 L271.9,618.9 L273.9,617.8 L275.9,616.5 L277.9,615.3 L279.9,614.1 L281.9,612.8 L284.0,611.5 L286.0,610.2 L288.0,608.8 L290.0,607.5 L292.0,606.1 L294.0,604.7 L296.0,603.3 L298.1,601.9 L300.1,600.4 L302.1,598.9 L304.1,597.4 L306.1,595.8 L308.1,594.3 L310.2,592.7 L312.2,591.1 L314.2,589.4 L316.2,587.8 L318.2,586.1 L320.2,584.4 L322.2,582.6 L324.3,580.8 L326.3,579.0 L328.3,577.2 L330.3,575.3 L332.3,573.4 L334.3,571.5 L336.3,569.5 L338.4,567.5 L340.4,565.5 L342.4,563.4 L344.4,561.3 L346.4,559.2 L348.4,557.1 L350.4,554.9 L352.5,552.7 L354.5,550.4 L356.5,548.1 L358.5,545.8 L360.5,543.5 L362.5,541.1 L364.6,538.8 L366.6,536.4 L368.6,534.0 L370.6,531.6 L372.6,529.1 L374.6,526.7 L376.6,524.3 L378.7,521.9 L380.7,519.5 L382.7,517.1 L384.7,514.7 L386.7,512.3 L388.7,509.9 L390.7,507.5 L392.8,505.2 L394.8,502.9 L396.8,500.6 L398.8,498.3 L400.8,496.1 L402.8,493.9 L404.9,491.7 L406.9,489.6 L408.9,487.5 L410.9,485.4 L412.9,483.4 L414.9,481.4 L416.9,479.5 L419.0,477.7 L421.0,475.8 L423.0,474.1 L425.0,472.4"/>
<path d="M126.8,672.6 L128.8,672.4 L130.8,672.1 L132.9,671.8 L134.9,671.5 L136.9,671.2 L138.9,670.9 L140.9,670.6 L143.0,670.3 L145.0,670.0 L147.0,669.7 L149.0,669.4 L151.0,669.1 L153.0,668.7 L155.1,668.4 L157.1,668.0 L159.1,667.7 L161.1,667.3 L163.1,667.0 L165.2,666.6 L167.2,666.3 L169.2,665.9 L171.2,665.5 L173.2,665.1 L175.3,664.8 L177.3,664.4 L179.3,664.0 L181.3,663.6 L183.3,663.2 L185.4,662.8 L187.4,662.4 L189.4,661.9 L191.4,661.5 L193.4,661.1 L195.4,660.7 L197.5,660.2 L199.5,659.8 L201.5,659.3 L203.5,658.9 L205.5,658.4 L207.6,658.0 L209.6,657.5 L211.6,657.0 L213.6,656.5 L215.6,656.0 L217.7,655.5 L219.7,655.0 L221.7,654.5 L223.7,654.0 L225.7,653.5 L227.8,653.0 L229.8,652.4 L231.8,651.9 L233.8,651.3 L235.8,650.8 L237.8,650.2 L239.9,649.6 L241.9,649.0 L243.9,648.4 L245.9,647.8 L247.9,647.2 L250.0,646.6 L252.0,645.9 L254.0,645.2 L256.0,644.6 L258.0,643.9 L260.1,643.2 L262.1,642.5 L264.1,641.8 L266.1,641.0 L268.1,640.3 L270.2,639.5 L272.2,638.7 L274.2,637.9 L276.2,637.1 L278.2,636.2 L280.2,635.4 L282.3,634.5 L284.3,633.6 L286.3,632.6 L288.3,631.7 L290.3,630.7 L292.4,629.7 L294.4,628.7 L296.4,627.7 L298.4,626.6 L300.4,625.5 L302.5,624.4 L304.5,623.3 L306.5,622.1 L308.5,620.9 L310.5,619.7 L312.5,618.5 L314.6,617.2 L316.6,615.9 L318.6,614.6 L320.6,613.2 L322.6,611.9 L324.7,610.5 L326.7,609.0 L328.7,607.6 L330.7,606.1 L332.7,604.6 L334.8,603.0 L336.8,601.4 L338.8,599.8 L340.8,598.2 L342.8,596.5 L344.9,594.8 L346.9,593.1 L348.9,591.3 L350.9,589.5 L352.9,587.7 L354.9,585.9 L357.0,584.0 L359.0,582.0 L361.0,580.1 L363.0,578.1 L365.0,576.1 L367.1,574.1 L369.1,572.0 L371.1,569.9 L373.1,567.8 L375.1,565.6 L377.2,563.4 L379.2,561.3 L381.2,559.0 L383.2,556.8 L385.2,554.6 L387.3,552.3 L389.3,550.0 L391.3,547.7 L393.3,545.4 L395.3,543.1 L397.3,540.7 L399.4,538.4 L401.4,536.0 L403.4,533.6 L405.4,531.3 L407.4,528.9 L409.5,526.5 L411.5,524.1 L413.5,521.7 L415.5,519.3 L417.5,516.9 L419.6,514.5 L421.6,512.1 L423.6,509.7 L425.6,507.3 L427.6,504.9 L429.7,502.5 L431.7,500.2 L433.7,497.8 L435.7,495.4 L437.7,493.0 L439.7,490.7 L441.8,488.4 L443.8,486.0 L445.8,483.7 L447.8,481.4 L449.8,479.2 L451.9,476.9 L453.9,474.6 L455.9,472.4"/>
<path d="M126.8,677.7 L128.8,677.5 L130.8,677.2 L132.8,676.9 L134.9,676.7 L136.9,676.4 L138.9,676.1 L140.9,675.9 L142.9,675.6 L144.9,675.3 L147.0,675.1 L149.0,674.8 L151.0,674.5 L153.0,674.3 L155.0,674.0 L157.0,673.7 L159.1,673.4 L161.1,673.2 L163.1,672.9 L165.1,672.6 L167.1,672.3 L169.1,672.1 L171.1,671.8 L173.2,671.5 L175.2,671.2 L177.2,670.9 L179.2,670.6 L181.2,670.4 L183.2,670.1 L185.3,669.8 L187.3,669.5 L189.3,669.2 L191.3,668.9 L193.3,668.6 L195.3,668.3 L197.4,667.9 L199.4,667.6 L201.4,667.3 L203.4,667.0 L205.4,666.7 L207.4,666.3 L209.4,666.0 L211.5,665.6 L213.5,665.3 L215.5,664.9 L217.5,664.6 L219.5,664.2 L221.5,663.9 L223.6,663.5 L225.6,663.1 L227.6,662.7 L229.6,662.3 L231.6,661.9 L233.6,661.5 L235.7,661.1 L237.7,660.7 L239.7,660.2 L241.7,659.8 L243.7,659.3 L245.7,658.9 L247.7,658.4 L249.8,657.9 L251.8,657.4 L253.8,656.9 L255.8,656.4 L257.8,655.9 L259.8,655.3 L261.9,654.8 L263.9,654.2 L265.9,653.6 L267.9,653.0 L269.9,652.4 L271.9,651.8 L274.0,651.2 L276.0,650.5 L278.0,649.8 L280.0,649.2 L282.0,648.5 L284.0,647.7 L286.0,647.0 L288.1,646.2 L290.1,645.5 L292.1,644.7 L294.1,643.8 L296.1,643.0 L298.1,642.2 L300.2,641.3 L302.2,640.4 L304.2,639.5 L306.2,638.5 L308.2,637.6 L310.2,636.6 L312.3,635.6 L314.3,634.5 L316.3,633.5 L318.3,632.4 L320.3,631.3 L322.3,630.2 L324.4,629.0 L326.4,627.8 L328.4,626.6 L330.4,625.4 L332.4,624.1 L334.4,622.8 L336.4,621.5 L338.5,620.2 L340.5,618.8 L342.5,617.5 L344.5,616.0 L346.5,614.6 L348.5,613.1 L350.6,611.7 L352.6,610.1 L354.6,608.6 L356.6,607.0 L358.6,605.4 L360.6,603.8 L362.7,602.2 L364.7,600.5 L366.7,598.8 L368.7,597.1 L370.7,595.4 L372.7,593.6 L374.7,591.8 L376.8,590.0 L378.8,588.2 L380.8,586.4 L382.8,584.5 L384.8,582.6 L386.8,580.7 L388.9,578.7 L390.9,576.8 L392.9,574.8 L394.9,572.8 L396.9,570.8 L398.9,568.8 L401.0,566.7 L403.0,564.6 L405.0,562.5 L407.0,560.4 L409.0,558.3 L411.0,556.1 L413.0,553.9 L415.1,551.7 L417.1,549.5 L419.1,547.2 L421.1,544.9 L423.1,542.6 L425.1,540.3 L427.2,538.0 L429.2,535.6 L431.2,533.2 L433.2,530.8 L435.2,528.3 L437.2,525.8 L439.3,523.3 L441.3,520.8 L443.3,518.3 L445.3,515.8 L447.3,513.3 L449.3,510.8 L451.3,508.3 L453.4,505.7 L455.4,503.3 L457.4,500.8 L459.4,498.3 L461.4,495.9 L463.4,493.5 L465.5,491.2 L467.5,488.9 L469.5,486.6 L471.5,484.4 L473.5,482.3 L475.5,480.2 L477.6,478.2 L479.6,476.3 L481.6,474.4 L483.6,472.7"/>
<path d="M126.8,683.4 L128.8,683.4 L130.8,683.4 L132.8,683.4 L134.9,683.3 L136.9,683.2 L138.9,683.2 L140.9,683.1 L142.9,682.9 L144.9,682.8 L146.9,682.7 L149.0,682.5 L151.0,682.3 L153.0,682.2 L155.0,682.0 L157.0,681.8 L159.0,681.5 L161.1,681.3 L163.1,681.0 L165.1,680.8 L167.1,680.5 L169.1,680.2 L171.1,679.9 L173.1,679.6 L175.2,679.3 L177.2,679.0 L179.2,678.7 L181.2,678.3 L183.2,678.0 L185.2,677.6 L187.2,677.2 L189.3,676.9 L191.3,676.5 L193.3,676.1 L195.3,675.7 L197.3,675.3 L199.3,674.8 L201.4,674.4 L203.4,674.0 L205.4,673.5 L207.4,673.1 L209.4,672.6 L211.4,672.2 L213.4,671.7 L215.5,671.3 L217.5,670.8 L219.5,670.3 L221.5,669.8 L223.5,669.3 L225.5,668.8 L227.5,668.3 L229.6,667.8 L231.6,667.3 L233.6,666.8 L235.6,666.3 L237.6,665.7 L239.6,665.2 L241.7,664.7 L243.7,664.1 L245.7,663.6 L247.7,663.1 L249.7,662.5 L251.7,662.0 L253.7,661.4 L255.8,660.9 L257.8,660.3 L259.8,659.8 L261.8,659.2 L263.8,658.6 L265.8,658.1 L267.8,657.5 L269.9,656.9 L271.9,656.3 L273.9,655.8 L275.9,655.2 L277.9,654.6 L279.9,654.0 L282.0,653.4 L284.0,652.8 L286.0,652.2 L288.0,651.6 L290.0,651.0 L292.0,650.4 L294.0,649.8 L296.1,649.2 L298.1,648.6 L300.1,647.9 L302.1,647.3 L304.1,646.7 L306.1,646.0 L308.1,645.4 L310.2,644.7 L312.2,644.1 L314.2,643.4 L316.2,642.8 L318.2,642.1 L320.2,641.4 L322.3,640.8 L324.3,640.1 L326.3,639.4 L328.3,638.7 L330.3,637.9 L332.3,637.2 L334.3,636.5 L336.4,635.7 L338.4,634.9 L340.4,634.1 L342.4,633.3 L344.4,632.5 L346.4,631.6 L348.4,630.7 L350.5,629.8 L352.5,628.9 L354.5,627.9 L356.5,626.9 L358.5,625.9 L360.5,624.9 L362.6,623.8 L364.6,622.7 L366.6,621.5 L368.6,620.3 L370.6,619.1 L372.6,617.9 L374.6,616.6 L376.7,615.3 L378.7,613.9 L380.7,612.5 L382.7,611.1 L384.7,609.6 L386.7,608.1 L388.7,606.5 L390.8,604.9 L392.8,603.2 L394.8,601.5 L396.8,599.8 L398.8,598.0 L400.8,596.2 L402.9,594.3 L404.9,592.4 L406.9,590.4 L408.9,588.4 L410.9,586.3 L412.9,584.2 L414.9,582.1 L417.0,579.9 L419.0,577.6 L421.0,575.3 L423.0,572.9 L425.0,570.5 L427.0,568.1 L429.0,565.6 L431.1,563.1 L433.1,560.5 L435.1,558.0 L437.1,555.3 L439.1,552.7 L441.1,550.1 L443.2,547.4 L445.2,544.7 L447.2,542.0 L449.2,539.3 L451.2,536.5 L453.2,533.8 L455.2,531.1 L457.3,528.3 L459.3,525.6 L461.3,522.9 L463.3,520.2 L465.3,517.5 L467.3,514.8 L469.3,512.1 L471.4,509.5 L473.4,506.8 L475.4,504.2 L477.4,501.7 L479.4,499.1 L481.4,496.6 L483.5,494.1 L485.5,491.7 L487.5,489.3 L489.5,487.0 L491.5,484.7 L493.5,482.5 L495.5,480.3 L497.6,478.2 L499.6,476.2 L501.6,474.2 L503.6,472.3"/>
<path d="M126.8,686.8 L128.8,686.7 L130.8,686.6 L132.8,686.5 L134.9,686.4 L136.9,686.3 L138.9,686.2 L140.9,686.1 L142.9,686.0 L144.9,685.8 L146.9,685.7 L149.0,685.5 L151.0,685.4 L153.0,685.2 L155.0,685.0 L157.0,684.9 L159.0,684.7 L161.0,684.5 L163.1,684.3 L165.1,684.1 L167.1,683.9 L169.1,683.7 L171.1,683.5 L173.1,683.2 L175.1,683.0 L177.2,682.8 L179.2,682.5 L181.2,682.3 L183.2,682.0 L185.2,681.7 L187.2,681.5 L189.2,681.2 L191.3,680.9 L193.3,680.6 L195.3,680.3 L197.3,680.0 L199.3,679.7 L201.3,679.4 L203.3,679.1 L205.4,678.8 L207.4,678.5 L209.4,678.2 L211.4,677.8 L213.4,677.5 L215.4,677.2 L217.4,676.8 L219.5,676.5 L221.5,676.1 L223.5,675.7 L225.5,675.4 L227.5,675.0 L229.5,674.6 L231.5,674.2 L233.5,673.8 L235.6,673.5 L237.6,673.1 L239.6,672.7 L241.6,672.2 L243.6,671.8 L245.6,671.4 L247.6,671.0 L249.7,670.6 L251.7,670.1 L253.7,669.7 L255.7,669.2 L257.7,668.8 L259.7,668.3 L261.7,667.9 L263.8,667.4 L265.8,666.9 L267.8,666.4 L269.8,666.0 L271.8,665.5 L273.8,665.0 L275.8,664.5 L277.9,663.9 L279.9,663.4 L281.9,662.9 L283.9,662.4 L285.9,661.8 L287.9,661.3 L289.9,660.7 L292.0,660.1 L294.0,659.6 L296.0,659.0 L298.0,658.4 L300.0,657.8 L302.0,657.2 L304.0,656.6 L306.1,655.9 L308.1,655.3 L310.1,654.6 L312.1,654.0 L314.1,653.3 L316.1,652.6 L318.1,651.9 L320.2,651.2 L322.2,650.5 L324.2,649.8 L326.2,649.0 L328.2,648.3 L330.2,647.5 L332.2,646.8 L334.3,646.0 L336.3,645.2 L338.3,644.4 L340.3,643.6 L342.3,642.7 L344.3,641.9 L346.3,641.0 L348.4,640.2 L350.4,639.3 L352.4,638.4 L354.4,637.5 L356.4,636.6 L358.4,635.7 L360.4,634.8 L362.5,633.9 L364.5,632.9 L366.5,632.0 L368.5,631.0 L370.5,630.1 L372.5,629.1 L374.5,628.1 L376.6,627.1 L378.6,626.1 L380.6,625.1 L382.6,624.0 L384.6,623.0 L386.6,622.0 L388.6,620.9 L390.7,619.9 L392.7,618.8 L394.7,617.7 L396.7,616.7 L398.7,615.6 L400.7,614.5 L402.7,613.4 L404.8,612.3 L406.8,611.2 L408.8,610.0 L410.8,608.8 L412.8,607.6 L414.8,606.4 L416.8,605.0 L418.9,603.7 L420.9,602.3 L422.9,600.8 L424.9,599.2 L426.9,597.6 L428.9,595.9 L430.9,594.1 L432.9,592.2 L435.0,590.2 L437.0,588.1 L439.0,585.9 L441.0,583.6 L443.0,581.1 L445.0,578.6 L447.0,575.9 L449.1,573.1 L451.1,570.2 L453.1,567.2 L455.1,564.2 L457.1,561.1 L459.1,557.9 L461.1,554.8 L463.2,551.6 L465.2,548.4 L467.2,545.3 L469.2,542.2 L471.2,539.1 L473.2,536.0 L475.2,533.0 L477.3,530.1 L479.3,527.2 L481.3,524.4 L483.3,521.6 L485.3,518.9 L487.3,516.2 L489.3,513.5 L491.4,510.9 L493.4,508.3 L495.4,505.8 L497.4,503.3 L499.4,500.8 L501.4,498.3 L503.4,495.9 L505.5,493.6 L507.5,491.2 L509.5,489.0 L511.5,486.7 L513.5,484.6 L515.5,482.4 L517.5,480.4 L519.6,478.4 L521.6,476.5 L523.6,474.7 L525.6,473.0"/>
<path d="M126.8,689.2 L128.8,689.2 L130.8,689.2 L132.8,689.2 L134.9,689.2 L136.9,689.2 L138.9,689.2 L140.9,689.1 L142.9,689.1 L144.9,689.0 L147.0,689.0 L149.0,688.9 L151.0,688.8 L153.0,688.7 L155.0,688.6 L157.0,688.5 L159.1,688.3 L161.1,688.2 L163.1,688.1 L165.1,687.9 L167.1,687.7 L169.1,687.6 L171.1,687.4 L173.2,687.2 L175.2,687.0 L177.2,686.8 L179.2,686.6 L181.2,686.4 L183.2,686.2 L185.3,685.9 L187.3,685.7 L189.3,685.4 L191.3,685.2 L193.3,684.9 L195.3,684.7 L197.3,684.4 L199.4,684.1 L201.4,683.8 L203.4,683.5 L205.4,683.2 L207.4,682.9 L209.4,682.6 L211.5,682.3 L213.5,682.0 L215.5,681.7 L217.5,681.4 L219.5,681.0 L221.5,680.7 L223.6,680.3 L225.6,680.0 L227.6,679.7 L229.6,679.3 L231.6,678.9 L233.6,678.6 L235.6,678.2 L237.7,677.8 L239.7,677.5 L241.7,677.1 L243.7,676.7 L245.7,676.3 L247.7,675.9 L249.8,675.5 L251.8,675.1 L253.8,674.8 L255.8,674.3 L257.8,673.9 L259.8,673.5 L261.9,673.1 L263.9,672.7 L265.9,672.3 L267.9,671.9 L269.9,671.4 L271.9,671.0 L273.9,670.6 L276.0,670.2 L278.0,669.7 L280.0,669.3 L282.0,668.8 L284.0,668.4 L286.0,667.9 L288.1,667.5 L290.1,667.0 L292.1,666.6 L294.1,666.1 L296.1,665.6 L298.1,665.2 L300.1,664.7 L302.2,664.2 L304.2,663.7 L306.2,663.3 L308.2,662.8 L310.2,662.3 L312.2,661.8 L314.3,661.3 L316.3,660.8 L318.3,660.2 L320.3,659.7 L322.3,659.2 L324.3,658.7 L326.4,658.1 L328.4,657.6 L330.4,657.0 L332.4,656.5 L334.4,655.9 L336.4,655.3 L338.4,654.7 L340.5,654.1 L342.5,653.5 L344.5,652.9 L346.5,652.3 L348.5,651.6 L350.5,650.9 L352.6,650.3 L354.6,649.6 L356.6,648.8 L358.6,648.1 L360.6,647.4 L362.6,646.6 L364.7,645.8 L366.7,645.0 L368.7,644.2 L370.7,643.3 L372.7,642.5 L374.7,641.6 L376.7,640.7 L378.8,639.7 L380.8,638.8 L382.8,637.8 L384.8,636.8 L386.8,635.7 L388.8,634.7 L390.9,633.6 L392.9,632.5 L394.9,631.3 L396.9,630.2 L398.9,629.0 L400.9,627.7 L402.9,626.5 L405.0,625.2 L407.0,623.8 L409.0,622.5 L411.0,621.1 L413.0,619.7 L415.0,618.2 L417.1,616.7 L419.1,615.2 L421.1,613.7 L423.1,612.1 L425.1,610.5 L427.1,608.8 L429.2,607.1 L431.2,605.4 L433.2,603.7 L435.2,601.9 L437.2,600.0 L439.2,598.2 L441.2,596.3 L443.3,594.3 L445.3,592.3 L447.3,590.3 L449.3,588.2 L451.3,586.1 L453.3,583.9 L455.4,581.7 L457.4,579.4 L459.4,577.1 L461.4,574.7 L463.4,572.3 L465.4,569.8 L467.5,567.3 L469.5,564.7 L471.5,562.0 L473.5,559.3 L475.5,556.6 L477.5,553.7 L479.5,550.8 L481.6,547.9 L483.6,545.0 L485.6,542.0 L487.6,539.1 L489.6,536.2 L491.6,533.3 L493.7,530.5 L495.7,527.7 L497.7,524.9 L499.7,522.1 L501.7,519.4 L503.7,516.7 L505.7,514.0 L507.8,511.3 L509.8,508.7 L511.8,506.0 L513.8,503.4 L515.8,500.7 L517.8,498.1 L519.9,495.5 L521.9,492.9 L523.9,490.3 L525.9,487.7 L527.9,485.2 L529.9,482.7 L532.0,480.2 L534.0,477.8 L536.0,475.3 L538.0,473.0"/>
<path d="M126.8,690.9 L128.8,690.9 L130.8,690.9 L132.8,690.9 L134.8,690.9 L136.8,690.9 L138.9,690.9 L140.9,690.9 L142.9,690.9 L144.9,690.9 L146.9,690.9 L148.9,690.9 L150.9,690.9 L152.9,690.9 L154.9,690.9 L156.9,690.9 L159.0,690.9 L161.0,690.8 L163.0,690.7 L165.0,690.7 L167.0,690.6 L169.0,690.5 L171.0,690.4 L173.0,690.3 L175.0,690.2 L177.0,690.1 L179.0,690.0 L181.1,689.8 L183.1,689.7 L185.1,689.6 L187.1,689.4 L189.1,689.3 L191.1,689.1 L193.1,689.0 L195.1,688.8 L197.1,688.6 L199.1,688.4 L201.2,688.2 L203.2,688.0 L205.2,687.8 L207.2,687.6 L209.2,687.4 L211.2,687.2 L213.2,687.0 L215.2,686.7 L217.2,686.5 L219.2,686.2 L221.2,686.0 L223.3,685.7 L225.3,685.5 L227.3,685.2 L229.3,684.9 L231.3,684.6 L233.3,684.3 L235.3,684.0 L237.3,683.7 L239.3,683.4 L241.3,683.1 L243.4,682.8 L245.4,682.5 L247.4,682.1 L249.4,681.8 L251.4,681.4 L253.4,681.1 L255.4,680.7 L257.4,680.4 L259.4,680.0 L261.4,679.6 L263.4,679.2 L265.5,678.8 L267.5,678.4 L269.5,678.0 L271.5,677.6 L273.5,677.2 L275.5,676.8 L277.5,676.3 L279.5,675.9 L281.5,675.5 L283.5,675.0 L285.6,674.6 L287.6,674.2 L289.6,673.7 L291.6,673.3 L293.6,672.8 L295.6,672.4 L297.6,671.9 L299.6,671.5 L301.6,671.0 L303.6,670.6 L305.6,670.1 L307.7,669.6 L309.7,669.2 L311.7,668.7 L313.7,668.3 L315.7,667.8 L317.7,667.3 L319.7,666.9 L321.7,666.4 L323.7,666.0 L325.7,665.5 L327.8,665.1 L329.8,664.6 L331.8,664.1 L333.8,663.7 L335.8,663.2 L337.8,662.8 L339.8,662.3 L341.8,661.9 L343.8,661.4 L345.8,661.0 L347.8,660.6 L349.9,660.1 L351.9,659.7 L353.9,659.2 L355.9,658.8 L357.9,658.3 L359.9,657.8 L361.9,657.4 L363.9,656.9 L365.9,656.4 L367.9,655.9 L369.9,655.5 L372.0,654.9 L374.0,654.4 L376.0,653.9 L378.0,653.4 L380.0,652.8 L382.0,652.3 L384.0,651.7 L386.0,651.1 L388.0,650.5 L390.0,649.9 L392.1,649.3 L394.1,648.6 L396.1,647.9 L398.1,647.3 L400.1,646.5 L402.1,645.8 L404.1,645.1 L406.1,644.3 L408.1,643.5 L410.1,642.7 L412.1,641.8 L414.2,640.9 L416.2,640.0 L418.2,639.1 L420.2,638.2 L422.2,637.2 L424.2,636.2 L426.2,635.1 L428.2,634.0 L430.2,632.9 L432.2,631.8 L434.3,630.6 L436.3,629.4 L438.3,628.1 L440.3,626.8 L442.3,625.5 L444.3,624.1 L446.3,622.7 L448.3,621.3 L450.3,619.8 L452.3,618.3 L454.3,616.8 L456.4,615.2 L458.4,613.5 L460.4,611.8 L462.4,610.1 L464.4,608.3 L466.4,606.5 L468.4,604.6 L470.4,602.7 L472.4,600.8 L474.4,598.8 L476.5,596.7 L478.5,594.7 L480.5,592.5 L482.5,590.4 L484.5,588.2 L486.5,585.9 L488.5,583.6 L490.5,581.3 L492.5,579.0 L494.5,576.6 L496.5,574.2 L498.6,571.7 L500.6,569.2 L502.6,566.7 L504.6,564.1 L506.6,561.6 L508.6,559.0 L510.6,556.3 L512.6,553.7 L514.6,551.0 L516.6,548.3 L518.7,545.6 L520.7,542.8 L522.7,540.1 L524.7,537.3 L526.7,534.5 L528.7,531.7 L530.7,528.9 L532.7,526.1 L534.7,523.2 L536.7,520.4 L538.7,517.6 L540.8,514.7 L542.8,511.8 L544.8,509.0 L546.8,506.1 L548.8,503.3 L550.8,500.4 L552.8,497.6 L554.8,494.7 L556.8,491.9 L558.8,489.1 L560.9,486.3 L562.9,483.5 L564.9,480.7 L566.9,478.0 L568.9,475.2 L570.9,472.5"/>
<path d="M126.8,692.5 L128.8,692.5 L130.8,692.5 L132.8,692.5 L134.8,692.4 L136.8,692.4 L138.9,692.4 L140.9,692.3 L142.9,692.3 L144.9,692.2 L146.9,692.2 L148.9,692.1 L150.9,692.0 L152.9,692.0 L154.9,691.9 L156.9,691.8 L159.0,691.7 L161.0,691.6 L163.0,691.5 L165.0,691.4 L167.0,691.3 L169.0,691.2 L171.0,691.1 L173.0,691.0 L175.0,690.9 L177.0,690.7 L179.0,690.6 L181.1,690.5 L183.1,690.3 L185.1,690.2 L187.1,690.0 L189.1,689.9 L191.1,689.7 L193.1,689.6 L195.1,689.4 L197.1,689.2 L199.1,689.1 L201.2,688.9 L203.2,688.7 L205.2,688.5 L207.2,688.3 L209.2,688.2 L211.2,688.0 L213.2,687.8 L215.2,687.6 L217.2,687.4 L219.2,687.2 L221.2,687.0 L223.3,686.8 L225.3,686.5 L227.3,686.3 L229.3,686.1 L231.3,685.9 L233.3,685.7 L235.3,685.4 L237.3,685.2 L239.3,685.0 L241.3,684.7 L243.4,684.5 L245.4,684.2 L247.4,684.0 L249.4,683.8 L251.4,683.5 L253.4,683.3 L255.4,683.0 L257.4,682.7 L259.4,682.5 L261.4,682.2 L263.5,682.0 L265.5,681.7 L267.5,681.4 L269.5,681.2 L271.5,680.9 L273.5,680.6 L275.5,680.3 L277.5,680.1 L279.5,679.8 L281.5,679.5 L283.5,679.2 L285.6,678.9 L287.6,678.6 L289.6,678.3 L291.6,678.1 L293.6,677.8 L295.6,677.5 L297.6,677.2 L299.6,676.9 L301.6,676.6 L303.6,676.3 L305.7,675.9 L307.7,675.6 L309.7,675.3 L311.7,675.0 L313.7,674.7 L315.7,674.4 L317.7,674.1 L319.7,673.7 L321.7,673.4 L323.7,673.1 L325.7,672.7 L327.8,672.4 L329.8,672.1 L331.8,671.7 L333.8,671.4 L335.8,671.0 L337.8,670.7 L339.8,670.3 L341.8,670.0 L343.8,669.6 L345.8,669.2 L347.9,668.9 L349.9,668.5 L351.9,668.1 L353.9,667.7 L355.9,667.3 L357.9,666.9 L359.9,666.5 L361.9,666.1 L363.9,665.7 L365.9,665.3 L367.9,664.8 L370.0,664.4 L372.0,664.0 L374.0,663.5 L376.0,663.1 L378.0,662.6 L380.0,662.1 L382.0,661.6 L384.0,661.1 L386.0,660.6 L388.0,660.1 L390.1,659.6 L392.1,659.0 L394.1,658.5 L396.1,657.9 L398.1,657.3 L400.1,656.7 L402.1,656.1 L404.1,655.5 L406.1,654.9 L408.1,654.2 L410.1,653.5 L412.2,652.8 L414.2,652.1 L416.2,651.4 L418.2,650.7 L420.2,649.9 L422.2,649.1 L424.2,648.3 L426.2,647.4 L428.2,646.6 L430.2,645.7 L432.3,644.8 L434.3,643.9 L436.3,642.9 L438.3,641.9 L440.3,640.9 L442.3,639.9 L444.3,638.8 L446.3,637.7 L448.3,636.6 L450.3,635.4 L452.3,634.3 L454.4,633.0 L456.4,631.8 L458.4,630.5 L460.4,629.2 L462.4,627.8 L464.4,626.5 L466.4,625.1 L468.4,623.6 L470.4,622.1 L472.4,620.6 L474.5,619.0 L476.5,617.4 L478.5,615.8 L480.5,614.1 L482.5,612.4 L484.5,610.6 L486.5,608.8 L488.5,607.0 L490.5,605.1 L492.5,603.1 L494.6,601.1 L496.6,599.1 L498.6,597.0 L500.6,594.9 L502.6,592.7 L504.6,590.5 L506.6,588.2 L508.6,585.9 L510.6,583.5 L512.6,581.0 L514.6,578.6 L516.7,576.0 L518.7,573.5 L520.7,570.8 L522.7,568.2 L524.7,565.5 L526.7,562.7 L528.7,559.9 L530.7,557.1 L532.7,554.2 L534.7,551.4 L536.8,548.4 L538.8,545.5 L540.8,542.5 L542.8,539.6 L544.8,536.6 L546.8,533.6 L548.8,530.5 L550.8,527.5 L552.8,524.4 L554.8,521.4 L556.8,518.4 L558.9,515.3 L560.9,512.3 L562.9,509.3 L564.9,506.2 L566.9,503.2 L568.9,500.3 L570.9,497.3 L572.9,494.4 L574.9,491.5 L576.9,488.6 L579.0,485.8 L581.0,483.0 L583.0,480.3 L585.0,477.6 L587.0,474.9 L589.0,472.3"/>
<path d="M126.8,693.9 L128.8,693.8 L130.8,693.7 L132.8,693.6 L134.9,693.5 L136.9,693.4 L138.9,693.3 L140.9,693.2 L142.9,693.1 L144.9,693.0 L146.9,692.9 L148.9,692.8 L151.0,692.7 L153.0,692.6 L155.0,692.5 L157.0,692.3 L159.0,692.2 L161.0,692.1 L163.0,692.0 L165.1,691.9 L167.1,691.7 L169.1,691.6 L171.1,691.5 L173.1,691.3 L175.1,691.2 L177.1,691.1 L179.1,690.9 L181.2,690.8 L183.2,690.7 L185.2,690.5 L187.2,690.4 L189.2,690.2 L191.2,690.1 L193.2,690.0 L195.3,689.8 L197.3,689.7 L199.3,689.5 L201.3,689.4 L203.3,689.2 L205.3,689.1 L207.3,688.9 L209.4,688.8 L211.4,688.6 L213.4,688.4 L215.4,688.3 L217.4,688.1 L219.4,688.0 L221.4,687.8 L223.4,687.6 L225.5,687.5 L227.5,687.3 L229.5,687.1 L231.5,687.0 L233.5,686.8 L235.5,686.6 L237.5,686.5 L239.6,686.3 L241.6,686.1 L243.6,685.9 L245.6,685.7 L247.6,685.6 L249.6,685.4 L251.6,685.2 L253.6,685.0 L255.7,684.8 L257.7,684.7 L259.7,684.5 L261.7,684.3 L263.7,684.1 L265.7,683.9 L267.7,683.7 L269.8,683.5 L271.8,683.3 L273.8,683.1 L275.8,682.9 L277.8,682.8 L279.8,682.6 L281.8,682.4 L283.8,682.2 L285.9,682.0 L287.9,681.7 L289.9,681.5 L291.9,681.3 L293.9,681.1 L295.9,680.9 L297.9,680.7 L300.0,680.5 L302.0,680.3 L304.0,680.1 L306.0,679.9 L308.0,679.6 L310.0,679.4 L312.0,679.2 L314.1,679.0 L316.1,678.8 L318.1,678.5 L320.1,678.3 L322.1,678.1 L324.1,677.8 L326.1,677.6 L328.1,677.4 L330.2,677.1 L332.2,676.9 L334.2,676.6 L336.2,676.4 L338.2,676.1 L340.2,675.9 L342.2,675.6 L344.3,675.4 L346.3,675.1 L348.3,674.8 L350.3,674.6 L352.3,674.3 L354.3,674.0 L356.3,673.7 L358.3,673.4 L360.4,673.1 L362.4,672.8 L364.4,672.5 L366.4,672.2 L368.4,671.9 L370.4,671.6 L372.4,671.3 L374.5,670.9 L376.5,670.6 L378.5,670.3 L380.5,669.9 L382.5,669.5 L384.5,669.2 L386.5,668.8 L388.5,668.4 L390.6,668.0 L392.6,667.6 L394.6,667.2 L396.6,666.7 L398.6,666.3 L400.6,665.8 L402.6,665.4 L404.7,664.9 L406.7,664.4 L408.7,663.9 L410.7,663.4 L412.7,662.8 L414.7,662.3 L416.7,661.7 L418.7,661.1 L420.8,660.5 L422.8,659.8 L424.8,659.2 L426.8,658.5 L428.8,657.8 L430.8,657.1 L432.8,656.3 L434.9,655.6 L436.9,654.8 L438.9,653.9 L440.9,653.1 L442.9,652.2 L444.9,651.3 L446.9,650.4 L449.0,649.4 L451.0,648.4 L453.0,647.4 L455.0,646.3 L457.0,645.2 L459.0,644.0 L461.0,642.9 L463.0,641.7 L465.1,640.4 L467.1,639.1 L469.1,637.8 L471.1,636.4 L473.1,635.0 L475.1,633.6 L477.1,632.1 L479.2,630.6 L481.2,629.0 L483.2,627.4 L485.2,625.7 L487.2,624.0 L489.2,622.3 L491.2,620.5 L493.2,618.7 L495.3,616.9 L497.3,615.0 L499.3,613.0 L501.3,611.1 L503.3,609.0 L505.3,607.0 L507.3,604.9 L509.4,602.8 L511.4,600.6 L513.4,598.4 L515.4,596.2 L517.4,593.9 L519.4,591.6 L521.4,589.2 L523.4,586.9 L525.5,584.5 L527.5,582.0 L529.5,579.6 L531.5,577.1 L533.5,574.5 L535.5,572.0 L537.5,569.4 L539.6,566.8 L541.6,564.2 L543.6,561.5 L545.6,558.9 L547.6,556.2 L549.6,553.5 L551.6,550.7 L553.7,548.0 L555.7,545.2 L557.7,542.4 L559.7,539.6 L561.7,536.8 L563.7,534.0 L565.7,531.1 L567.7,528.3 L569.8,525.4 L571.8,522.5 L573.8,519.6 L575.8,516.7 L577.8,513.8 L579.8,510.8 L581.8,507.9 L583.9,505.0 L585.9,502.0 L587.9,499.0 L589.9,496.1 L591.9,493.1 L593.9,490.1 L595.9,487.1 L597.9,484.1 L600.0,481.1 L602.0,478.1 L604.0,475.1 L606.0,472.1"/>
<path d="M126.8,694.8 L128.8,694.8 L130.8,694.8 L132.8,694.7 L134.9,694.7 L136.9,694.6 L138.9,694.6 L140.9,694.5 L142.9,694.5 L144.9,694.4 L147.0,694.4 L149.0,694.3 L151.0,694.3 L153.0,694.2 L155.0,694.1 L157.0,694.1 L159.1,694.0 L161.1,693.9 L163.1,693.8 L165.1,693.8 L167.1,693.7 L169.1,693.6 L171.2,693.5 L173.2,693.4 L175.2,693.3 L177.2,693.2 L179.2,693.2 L181.2,693.1 L183.3,693.0 L185.3,692.9 L187.3,692.8 L189.3,692.7 L191.3,692.5 L193.3,692.4 L195.4,692.3 L197.4,692.2 L199.4,692.1 L201.4,692.0 L203.4,691.9 L205.4,691.8 L207.4,691.6 L209.5,691.5 L211.5,691.4 L213.5,691.3 L215.5,691.1 L217.5,691.0 L219.5,690.9 L221.6,690.7 L223.6,690.6 L225.6,690.5 L227.6,690.3 L229.6,690.2 L231.6,690.1 L233.7,689.9 L235.7,689.8 L237.7,689.6 L239.7,689.5 L241.7,689.3 L243.7,689.2 L245.8,689.0 L247.8,688.9 L249.8,688.7 L251.8,688.6 L253.8,688.4 L255.8,688.2 L257.9,688.1 L259.9,687.9 L261.9,687.8 L263.9,687.6 L265.9,687.4 L267.9,687.3 L269.9,687.1 L272.0,686.9 L274.0,686.8 L276.0,686.6 L278.0,686.4 L280.0,686.2 L282.0,686.1 L284.1,685.9 L286.1,685.7 L288.1,685.5 L290.1,685.4 L292.1,685.2 L294.1,685.0 L296.2,684.8 L298.2,684.6 L300.2,684.4 L302.2,684.2 L304.2,684.1 L306.2,683.9 L308.3,683.7 L310.3,683.5 L312.3,683.3 L314.3,683.1 L316.3,682.9 L318.3,682.7 L320.4,682.5 L322.4,682.3 L324.4,682.1 L326.4,681.9 L328.4,681.7 L330.4,681.5 L332.5,681.2 L334.5,681.0 L336.5,680.8 L338.5,680.6 L340.5,680.4 L342.5,680.1 L344.5,679.9 L346.6,679.7 L348.6,679.5 L350.6,679.2 L352.6,679.0 L354.6,678.8 L356.6,678.5 L358.7,678.3 L360.7,678.0 L362.7,677.8 L364.7,677.5 L366.7,677.3 L368.7,677.0 L370.8,676.7 L372.8,676.4 L374.8,676.2 L376.8,675.9 L378.8,675.6 L380.8,675.3 L382.9,675.0 L384.9,674.7 L386.9,674.4 L388.9,674.1 L390.9,673.8 L392.9,673.5 L395.0,673.1 L397.0,672.8 L399.0,672.4 L401.0,672.1 L403.0,671.7 L405.0,671.3 L407.1,670.9 L409.1,670.6 L411.1,670.2 L413.1,669.7 L415.1,669.3 L417.1,668.9 L419.1,668.4 L421.2,668.0 L423.2,667.5 L425.2,667.0 L427.2,666.5 L429.2,666.0 L431.2,665.5 L433.3,665.0 L435.3,664.4 L437.3,663.8 L439.3,663.2 L441.3,662.6 L443.3,662.0 L445.4,661.4 L447.4,660.7 L449.4,660.0 L451.4,659.3 L453.4,658.6 L455.4,657.8 L457.5,657.0 L459.5,656.2 L461.5,655.4 L463.5,654.6 L465.5,653.7 L467.5,652.8 L469.6,651.9 L471.6,650.9 L473.6,649.9 L475.6,648.9 L477.6,647.9 L479.6,646.8 L481.7,645.7 L483.7,644.5 L485.7,643.4 L487.7,642.2 L489.7,640.9 L491.7,639.6 L493.7,638.3 L495.8,637.0 L497.8,635.6 L499.8,634.2 L501.8,632.7 L503.8,631.2 L505.8,629.7 L507.9,628.1 L509.9,626.5 L511.9,624.9 L513.9,623.2 L515.9,621.5 L517.9,619.7 L520.0,617.9 L522.0,616.0 L524.0,614.2 L526.0,612.2 L528.0,610.2 L530.0,608.2 L532.1,606.1 L534.1,604.0 L536.1,601.8 L538.1,599.5 L540.1,597.3 L542.1,594.9 L544.2,592.6 L546.2,590.1 L548.2,587.6 L550.2,585.1 L552.2,582.5 L554.2,579.8 L556.2,577.2 L558.3,574.4 L560.3,571.6 L562.3,568.7 L564.3,565.8 L566.3,562.9 L568.3,559.9 L570.4,556.9 L572.4,553.8 L574.4,550.7 L576.4,547.6 L578.4,544.4 L580.4,541.2 L582.5,538.0 L584.5,534.8 L586.5,531.6 L588.5,528.3 L590.5,525.0 L592.5,521.8 L594.6,518.5 L596.6,515.3 L598.6,512.0 L600.6,508.8 L602.6,505.6 L604.6,502.4 L606.7,499.2 L608.7,496.1 L610.7,493.0 L612.7,489.9 L614.7,486.9 L616.7,483.9 L618.8,480.9 L620.8,478.1 L622.8,475.2 L624.8,472.5"/>
</g>
<g stroke="#cf6c3a" stroke-width="1.9" fill="none" stroke-linecap="butt">
<path d="M126.8,648.2 L128.8,647.8 L130.9,647.3 L132.9,646.8 L134.9,646.2 L136.9,645.7 L139.0,645.2 L141.0,644.7 L143.0,644.1 L145.0,643.5 L147.1,643.0 L149.1,642.4 L151.1,641.8 L153.2,641.2 L155.2,640.6 L157.2,639.9 L159.2,639.3 L161.3,638.7 L163.3,638.0 L165.3,637.3 L167.4,636.6 L169.4,635.9 L171.4,635.2 L173.4,634.4 L175.5,633.6 L177.5,632.9 L179.5,632.1 L181.5,631.3 L183.6,630.4 L185.6,629.6 L187.6,628.7 L189.7,627.8 L191.7,626.9 L193.7,626.0 L195.7,625.0 L197.8,624.0 L199.8,623.0 L201.8,622.0 L203.8,621.0 L205.9,619.9 L207.9,618.8 L209.9,617.7 L212.0,616.6 L214.0,615.4 L216.0,614.2 L218.0,613.0 L220.1,611.8 L222.1,610.5 L224.1,609.2 L226.2,607.9 L228.2,606.6 L230.2,605.2 L232.2,603.8 L234.3,602.4 L236.3,601.0 L238.3,599.5 L240.3,598.0 L242.4,596.5 L244.4,594.9 L246.4,593.4 L248.5,591.8 L250.5,590.1 L252.5,588.5 L254.5,586.8 L256.6,585.1 L258.6,583.4 L260.6,581.6 L262.6,579.9 L264.7,578.1 L266.7,576.3 L268.7,574.4 L270.8,572.6 L272.8,570.7 L274.8,568.8 L276.8,566.8 L278.9,564.9 L280.9,562.9 L282.9,560.9 L285.0,558.9 L287.0,556.9 L289.0,554.9 L291.0,552.8 L293.1,550.7 L295.1,548.6 L297.1,546.5 L299.1,544.4 L301.2,542.2 L303.2,540.1 L305.2,537.9 L307.3,535.7 L309.3,533.5 L311.3,531.3 L313.3,529.1 L315.4,526.8 L317.4,524.6 L319.4,522.3 L321.4,520.0 L323.5,517.7 L325.5,515.4 L327.5,513.1 L329.6,510.8 L331.6,508.5 L333.6,506.1 L335.6,503.8 L337.7,501.4 L339.7,499.1 L341.7,496.7 L343.8,494.3 L345.8,491.9 L347.8,489.5 L349.8,487.1 L351.9,484.7 L353.9,482.3 L355.9,479.9 L357.9,477.5 L360.0,475.1 L362.0,472.6"/>
<path d="M126.8,658.3 L128.8,657.9 L130.9,657.5 L132.9,657.0 L134.9,656.6 L136.9,656.1 L139.0,655.6 L141.0,655.2 L143.0,654.7 L145.0,654.3 L147.1,653.8 L149.1,653.3 L151.1,652.8 L153.1,652.4 L155.2,651.9 L157.2,651.4 L159.2,650.9 L161.2,650.4 L163.3,649.9 L165.3,649.4 L167.3,648.9 L169.3,648.4 L171.4,647.9 L173.4,647.4 L175.4,646.9 L177.5,646.3 L179.5,645.8 L181.5,645.2 L183.5,644.7 L185.6,644.1 L187.6,643.5 L189.6,643.0 L191.6,642.4 L193.7,641.8 L195.7,641.2 L197.7,640.5 L199.7,639.9 L201.8,639.2 L203.8,638.6 L205.8,637.9 L207.8,637.2 L209.9,636.4 L211.9,635.7 L213.9,634.9 L215.9,634.2 L218.0,633.3 L220.0,632.5 L222.0,631.6 L224.1,630.8 L226.1,629.8 L228.1,628.9 L230.1,627.9 L232.2,626.9 L234.2,625.9 L236.2,624.8 L238.2,623.7 L240.3,622.5 L242.3,621.4 L244.3,620.1 L246.3,618.9 L248.4,617.6 L250.4,616.3 L252.4,614.9 L254.4,613.5 L256.5,612.0 L258.5,610.6 L260.5,609.1 L262.6,607.5 L264.6,605.9 L266.6,604.3 L268.6,602.7 L270.7,601.0 L272.7,599.3 L274.7,597.5 L276.7,595.8 L278.8,594.0 L280.8,592.2 L282.8,590.3 L284.8,588.5 L286.9,586.6 L288.9,584.7 L290.9,582.8 L292.9,580.9 L295.0,578.9 L297.0,576.9 L299.0,575.0 L301.0,573.0 L303.1,571.0 L305.1,569.0 L307.1,566.9 L309.2,564.9 L311.2,562.9 L313.2,560.8 L315.2,558.7 L317.3,556.7 L319.3,554.6 L321.3,552.5 L323.3,550.5 L325.4,548.4 L327.4,546.3 L329.4,544.2 L331.4,542.1 L333.5,540.0 L335.5,537.9 L337.5,535.8 L339.5,533.7 L341.6,531.6 L343.6,529.5 L345.6,527.3 L347.6,525.2 L349.7,523.1 L351.7,521.0 L353.7,518.9 L355.8,516.8 L357.8,514.6 L359.8,512.5 L361.8,510.4 L363.9,508.3 L365.9,506.2 L367.9,504.1 L369.9,501.9 L372.0,499.8 L374.0,497.7 L376.0,495.6 L378.0,493.5 L380.1,491.3 L382.1,489.2 L384.1,487.1 L386.1,485.0 L388.2,482.9 L390.2,480.8 L392.2,478.7 L394.2,476.5 L396.3,474.4 L398.3,472.3"/>
<path d="M126.8,664.4 L128.8,664.2 L130.8,663.9 L132.8,663.6 L134.9,663.3 L136.9,663.0 L138.9,662.7 L140.9,662.4 L142.9,662.1 L144.9,661.8 L146.9,661.4 L149.0,661.1 L151.0,660.7 L153.0,660.4 L155.0,660.0 L157.0,659.6 L159.0,659.2 L161.1,658.8 L163.1,658.4 L165.1,658.0 L167.1,657.5 L169.1,657.1 L171.1,656.6 L173.1,656.2 L175.2,655.7 L177.2,655.2 L179.2,654.8 L181.2,654.3 L183.2,653.8 L185.2,653.2 L187.2,652.7 L189.3,652.2 L191.3,651.7 L193.3,651.1 L195.3,650.5 L197.3,650.0 L199.3,649.4 L201.3,648.8 L203.4,648.2 L205.4,647.6 L207.4,647.0 L209.4,646.3 L211.4,645.7 L213.4,645.0 L215.5,644.3 L217.5,643.6 L219.5,642.9 L221.5,642.2 L223.5,641.5 L225.5,640.8 L227.5,640.0 L229.6,639.2 L231.6,638.5 L233.6,637.7 L235.6,636.8 L237.6,636.0 L239.6,635.2 L241.6,634.3 L243.7,633.4 L245.7,632.5 L247.7,631.6 L249.7,630.6 L251.7,629.7 L253.7,628.7 L255.8,627.7 L257.8,626.7 L259.8,625.6 L261.8,624.6 L263.8,623.5 L265.8,622.4 L267.8,621.3 L269.9,620.1 L271.9,618.9 L273.9,617.8 L275.9,616.5 L277.9,615.3 L279.9,614.1 L281.9,612.8 L284.0,611.5 L286.0,610.2 L288.0,608.8 L290.0,607.5 L292.0,606.1 L294.0,604.7 L296.0,603.3 L298.1,601.9 L300.1,600.4 L302.1,598.9 L304.1,597.4 L306.1,595.8 L308.1,594.3 L310.2,592.7 L312.2,591.1 L314.2,589.4 L316.2,587.8 L318.2,586.1 L320.2,584.4 L322.2,582.6 L324.3,580.8 L326.3,579.0 L328.3,577.2 L330.3,575.3 L332.3,573.4 L334.3,571.5 L336.3,569.5 L338.4,567.5 L340.4,565.5 L342.4,563.4 L344.4,561.3 L346.4,559.2 L348.4,557.1 L350.4,554.9 L352.5,552.7 L354.5,550.4 L356.5,548.1 L358.5,545.8 L360.5,543.5 L362.5,541.1 L364.6,538.8 L366.6,536.4 L368.6,534.0 L370.6,531.6 L372.6,529.1 L374.6,526.7 L376.6,524.3 L378.7,521.9 L380.7,519.5 L382.7,517.1 L384.7,514.7 L386.7,512.3 L388.7,509.9 L390.7,507.5 L392.8,505.2 L394.8,502.9 L396.8,500.6 L398.8,498.3 L400.8,496.1 L402.8,493.9 L404.9,491.7 L406.9,489.6 L408.9,487.5 L410.9,485.4 L412.9,483.4 L414.9,481.4 L416.9,479.5 L419.0,477.7 L421.0,475.8 L423.0,474.1 L425.0,472.4"/>
<path d="M126.8,672.6 L128.8,672.4 L130.8,672.1 L132.9,671.8 L134.9,671.5 L136.9,671.2 L138.9,670.9 L140.9,670.6 L143.0,670.3 L145.0,670.0 L147.0,669.7 L149.0,669.4 L151.0,669.1 L153.0,668.7 L155.1,668.4 L157.1,668.0 L159.1,667.7 L161.1,667.3 L163.1,667.0 L165.2,666.6 L167.2,666.3 L169.2,665.9 L171.2,665.5 L173.2,665.1 L175.3,664.8 L177.3,664.4 L179.3,664.0 L181.3,663.6 L183.3,663.2 L185.4,662.8 L187.4,662.4 L189.4,661.9 L191.4,661.5 L193.4,661.1 L195.4,660.7 L197.5,660.2 L199.5,659.8 L201.5,659.3 L203.5,658.9 L205.5,658.4 L207.6,658.0 L209.6,657.5 L211.6,657.0 L213.6,656.5 L215.6,656.0 L217.7,655.5 L219.7,655.0 L221.7,654.5 L223.7,654.0 L225.7,653.5 L227.8,653.0 L229.8,652.4 L231.8,651.9 L233.8,651.3 L235.8,650.8 L237.8,650.2 L239.9,649.6 L241.9,649.0 L243.9,648.4 L245.9,647.8 L247.9,647.2 L250.0,646.6 L252.0,645.9 L254.0,645.2 L256.0,644.6 L258.0,643.9 L260.1,643.2 L262.1,642.5 L264.1,641.8 L266.1,641.0 L268.1,640.3 L270.2,639.5 L272.2,638.7 L274.2,637.9 L276.2,637.1 L278.2,636.2 L280.2,635.4 L282.3,634.5 L284.3,633.6 L286.3,632.6 L288.3,631.7 L290.3,630.7 L292.4,629.7 L294.4,628.7 L296.4,627.7 L298.4,626.6 L300.4,625.5 L302.5,624.4 L304.5,623.3 L306.5,622.1 L308.5,620.9 L310.5,619.7 L312.5,618.5 L314.6,617.2 L316.6,615.9 L318.6,614.6 L320.6,613.2 L322.6,611.9 L324.7,610.5 L326.7,609.0 L328.7,607.6 L330.7,606.1 L332.7,604.6 L334.8,603.0 L336.8,601.4 L338.8,599.8 L340.8,598.2 L342.8,596.5 L344.9,594.8 L346.9,593.1 L348.9,591.3 L350.9,589.5 L352.9,587.7 L354.9,585.9 L357.0,584.0 L359.0,582.0 L361.0,580.1 L363.0,578.1 L365.0,576.1 L367.1,574.1 L369.1,572.0 L371.1,569.9 L373.1,567.8 L375.1,565.6 L377.2,563.4 L379.2,561.3 L381.2,559.0 L383.2,556.8 L385.2,554.6 L387.3,552.3 L389.3,550.0 L391.3,547.7 L393.3,545.4 L395.3,543.1 L397.3,540.7 L399.4,538.4 L401.4,536.0 L403.4,533.6 L405.4,531.3 L407.4,528.9 L409.5,526.5 L411.5,524.1 L413.5,521.7 L415.5,519.3 L417.5,516.9 L419.6,514.5 L421.6,512.1 L423.6,509.7 L425.6,507.3 L427.6,504.9 L429.7,502.5 L431.7,500.2 L433.7,497.8 L435.7,495.4 L437.7,493.0 L439.7,490.7 L441.8,488.4 L443.8,486.0 L445.8,483.7 L447.8,481.4 L449.8,479.2 L451.9,476.9 L453.9,474.6 L455.9,472.4"/>
<path d="M126.8,677.7 L128.8,677.5 L130.8,677.2 L132.8,676.9 L134.9,676.7 L136.9,676.4 L138.9,676.1 L140.9,675.9 L142.9,675.6 L144.9,675.3 L147.0,675.1 L149.0,674.8 L151.0,674.5 L153.0,674.3 L155.0,674.0 L157.0,673.7 L159.1,673.4 L161.1,673.2 L163.1,672.9 L165.1,672.6 L167.1,672.3 L169.1,672.1 L171.1,671.8 L173.2,671.5 L175.2,671.2 L177.2,670.9 L179.2,670.6 L181.2,670.4 L183.2,670.1 L185.3,669.8 L187.3,669.5 L189.3,669.2 L191.3,668.9 L193.3,668.6 L195.3,668.3 L197.4,667.9 L199.4,667.6 L201.4,667.3 L203.4,667.0 L205.4,666.7 L207.4,666.3 L209.4,666.0 L211.5,665.6 L213.5,665.3 L215.5,664.9 L217.5,664.6 L219.5,664.2 L221.5,663.9 L223.6,663.5 L225.6,663.1 L227.6,662.7 L229.6,662.3 L231.6,661.9 L233.6,661.5 L235.7,661.1 L237.7,660.7 L239.7,660.2 L241.7,659.8 L243.7,659.3 L245.7,658.9 L247.7,658.4 L249.8,657.9 L251.8,657.4 L253.8,656.9 L255.8,656.4 L257.8,655.9 L259.8,655.3 L261.9,654.8 L263.9,654.2 L265.9,653.6 L267.9,653.0 L269.9,652.4 L271.9,651.8 L274.0,651.2 L276.0,650.5 L278.0,649.8 L280.0,649.2 L282.0,648.5 L284.0,647.7 L286.0,647.0 L288.1,646.2 L290.1,645.5 L292.1,644.7 L294.1,643.8 L296.1,643.0 L298.1,642.2 L300.2,641.3 L302.2,640.4 L304.2,639.5 L306.2,638.5 L308.2,637.6 L310.2,636.6 L312.3,635.6 L314.3,634.5 L316.3,633.5 L318.3,632.4 L320.3,631.3 L322.3,630.2 L324.4,629.0 L326.4,627.8 L328.4,626.6 L330.4,625.4 L332.4,624.1 L334.4,622.8 L336.4,621.5 L338.5,620.2 L340.5,618.8 L342.5,617.5 L344.5,616.0 L346.5,614.6 L348.5,613.1 L350.6,611.7 L352.6,610.1 L354.6,608.6 L356.6,607.0 L358.6,605.4 L360.6,603.8 L362.7,602.2 L364.7,600.5 L366.7,598.8 L368.7,597.1 L370.7,595.4 L372.7,593.6 L374.7,591.8 L376.8,590.0 L378.8,588.2 L380.8,586.4 L382.8,584.5 L384.8,582.6 L386.8,580.7 L388.9,578.7 L390.9,576.8 L392.9,574.8 L394.9,572.8 L396.9,570.8 L398.9,568.8 L401.0,566.7 L403.0,564.6 L405.0,562.5 L407.0,560.4 L409.0,558.3 L411.0,556.1 L413.0,553.9 L415.1,551.7 L417.1,549.5 L419.1,547.2 L421.1,544.9 L423.1,542.6 L425.1,540.3 L427.2,538.0 L429.2,535.6 L431.2,533.2 L433.2,530.8 L435.2,528.3 L437.2,525.8 L439.3,523.3 L441.3,520.8 L443.3,518.3 L445.3,515.8 L447.3,513.3 L449.3,510.8 L451.3,508.3 L453.4,505.7 L455.4,503.3 L457.4,500.8 L459.4,498.3 L461.4,495.9 L463.4,493.5 L465.5,491.2 L467.5,488.9 L469.5,486.6 L471.5,484.4 L473.5,482.3 L475.5,480.2 L477.6,478.2 L479.6,476.3 L481.6,474.4 L483.6,472.7"/>
<path d="M126.8,683.4 L128.8,683.4 L130.8,683.4 L132.8,683.4 L134.9,683.3 L136.9,683.2 L138.9,683.2 L140.9,683.1 L142.9,682.9 L144.9,682.8 L146.9,682.7 L149.0,682.5 L151.0,682.3 L153.0,682.2 L155.0,682.0 L157.0,681.8 L159.0,681.5 L161.1,681.3 L163.1,681.0 L165.1,680.8 L167.1,680.5 L169.1,680.2 L171.1,679.9 L173.1,679.6 L175.2,679.3 L177.2,679.0 L179.2,678.7 L181.2,678.3 L183.2,678.0 L185.2,677.6 L187.2,677.2 L189.3,676.9 L191.3,676.5 L193.3,676.1 L195.3,675.7 L197.3,675.3 L199.3,674.8 L201.4,674.4 L203.4,674.0 L205.4,673.5 L207.4,673.1 L209.4,672.6 L211.4,672.2 L213.4,671.7 L215.5,671.3 L217.5,670.8 L219.5,670.3 L221.5,669.8 L223.5,669.3 L225.5,668.8 L227.5,668.3 L229.6,667.8 L231.6,667.3 L233.6,666.8 L235.6,666.3 L237.6,665.7 L239.6,665.2 L241.7,664.7 L243.7,664.1 L245.7,663.6 L247.7,663.1 L249.7,662.5 L251.7,662.0 L253.7,661.4 L255.8,660.9 L257.8,660.3 L259.8,659.8 L261.8,659.2 L263.8,658.6 L265.8,658.1 L267.8,657.5 L269.9,656.9 L271.9,656.3 L273.9,655.8 L275.9,655.2 L277.9,654.6 L279.9,654.0 L282.0,653.4 L284.0,652.8 L286.0,652.2 L288.0,651.6 L290.0,651.0 L292.0,650.4 L294.0,649.8 L296.1,649.2 L298.1,648.6 L300.1,647.9 L302.1,647.3 L304.1,646.7 L306.1,646.0 L308.1,645.4 L310.2,644.7 L312.2,644.1 L314.2,643.4 L316.2,642.8 L318.2,642.1 L320.2,641.4 L322.3,640.8 L324.3,640.1 L326.3,639.4 L328.3,638.7 L330.3,637.9 L332.3,637.2 L334.3,636.5 L336.4,635.7 L338.4,634.9 L340.4,634.1 L342.4,633.3 L344.4,632.5 L346.4,631.6 L348.4,630.7 L350.5,629.8 L352.5,628.9 L354.5,627.9 L356.5,626.9 L358.5,625.9 L360.5,624.9 L362.6,623.8 L364.6,622.7 L366.6,621.5 L368.6,620.3 L370.6,619.1 L372.6,617.9 L374.6,616.6 L376.7,615.3 L378.7,613.9 L380.7,612.5 L382.7,611.1 L384.7,609.6 L386.7,608.1 L388.7,606.5 L390.8,604.9 L392.8,603.2 L394.8,601.5 L396.8,599.8 L398.8,598.0 L400.8,596.2 L402.9,594.3 L404.9,592.4 L406.9,590.4 L408.9,588.4 L410.9,586.3 L412.9,584.2 L414.9,582.1 L417.0,579.9 L419.0,577.6 L421.0,575.3 L423.0,572.9 L425.0,570.5 L427.0,568.1 L429.0,565.6 L431.1,563.1 L433.1,560.5 L435.1,558.0 L437.1,555.3 L439.1,552.7 L441.1,550.1 L443.2,547.4 L445.2,544.7 L447.2,542.0 L449.2,539.3 L451.2,536.5 L453.2,533.8 L455.2,531.1 L457.3,528.3 L459.3,525.6 L461.3,522.9 L463.3,520.2 L465.3,517.5 L467.3,514.8 L469.3,512.1 L471.4,509.5 L473.4,506.8 L475.4,504.2 L477.4,501.7 L479.4,499.1 L481.4,496.6 L483.5,494.1 L485.5,491.7 L487.5,489.3 L489.5,487.0 L491.5,484.7 L493.5,482.5 L495.5,480.3 L497.6,478.2 L499.6,476.2 L501.6,474.2 L503.6,472.3"/>
<path d="M126.8,686.8 L128.8,686.7 L130.8,686.6 L132.8,686.5 L134.9,686.4 L136.9,686.3 L138.9,686.2 L140.9,686.1 L142.9,686.0 L144.9,685.8 L146.9,685.7 L149.0,685.5 L151.0,685.4 L153.0,685.2 L155.0,685.0 L157.0,684.9 L159.0,684.7 L161.0,684.5 L163.1,684.3 L165.1,684.1 L167.1,683.9 L169.1,683.7 L171.1,683.5 L173.1,683.2 L175.1,683.0 L177.2,682.8 L179.2,682.5 L181.2,682.3 L183.2,682.0 L185.2,681.7 L187.2,681.5 L189.2,681.2 L191.3,680.9 L193.3,680.6 L195.3,680.3 L197.3,680.0 L199.3,679.7 L201.3,679.4 L203.3,679.1 L205.4,678.8 L207.4,678.5 L209.4,678.2 L211.4,677.8 L213.4,677.5 L215.4,677.2 L217.4,676.8 L219.5,676.5 L221.5,676.1 L223.5,675.7 L225.5,675.4 L227.5,675.0 L229.5,674.6 L231.5,674.2 L233.5,673.8 L235.6,673.5 L237.6,673.1 L239.6,672.7 L241.6,672.2 L243.6,671.8 L245.6,671.4 L247.6,671.0 L249.7,670.6 L251.7,670.1 L253.7,669.7 L255.7,669.2 L257.7,668.8 L259.7,668.3 L261.7,667.9 L263.8,667.4 L265.8,666.9 L267.8,666.4 L269.8,666.0 L271.8,665.5 L273.8,665.0 L275.8,664.5 L277.9,663.9 L279.9,663.4 L281.9,662.9 L283.9,662.4 L285.9,661.8 L287.9,661.3 L289.9,660.7 L292.0,660.1 L294.0,659.6 L296.0,659.0 L298.0,658.4 L300.0,657.8 L302.0,657.2 L304.0,656.6 L306.1,655.9 L308.1,655.3 L310.1,654.6 L312.1,654.0 L314.1,653.3 L316.1,652.6 L318.1,651.9 L320.2,651.2 L322.2,650.5 L324.2,649.8 L326.2,649.0 L328.2,648.3 L330.2,647.5 L332.2,646.8 L334.3,646.0 L336.3,645.2 L338.3,644.4 L340.3,643.6 L342.3,642.7 L344.3,641.9 L346.3,641.0 L348.4,640.2 L350.4,639.3 L352.4,638.4 L354.4,637.5 L356.4,636.6 L358.4,635.7 L360.4,634.8 L362.5,633.9 L364.5,632.9 L366.5,632.0 L368.5,631.0 L370.5,630.1 L372.5,629.1 L374.5,628.1 L376.6,627.1 L378.6,626.1 L380.6,625.1 L382.6,624.0 L384.6,623.0 L386.6,622.0 L388.6,620.9 L390.7,619.9 L392.7,618.8 L394.7,617.7 L396.7,616.7 L398.7,615.6 L400.7,614.5 L402.7,613.4 L404.8,612.3 L406.8,611.2 L408.8,610.0 L410.8,608.8 L412.8,607.6 L414.8,606.4 L416.8,605.0 L418.9,603.7 L420.9,602.3 L422.9,600.8 L424.9,599.2 L426.9,597.6 L428.9,595.9 L430.9,594.1 L432.9,592.2 L435.0,590.2 L437.0,588.1 L439.0,585.9 L441.0,583.6 L443.0,581.1 L445.0,578.6 L447.0,575.9 L449.1,573.1 L451.1,570.2 L453.1,567.2 L455.1,564.2 L457.1,561.1 L459.1,557.9 L461.1,554.8 L463.2,551.6 L465.2,548.4 L467.2,545.3 L469.2,542.2 L471.2,539.1 L473.2,536.0 L475.2,533.0 L477.3,530.1 L479.3,527.2 L481.3,524.4 L483.3,521.6 L485.3,518.9 L487.3,516.2 L489.3,513.5 L491.4,510.9 L493.4,508.3 L495.4,505.8 L497.4,503.3 L499.4,500.8 L501.4,498.3 L503.4,495.9 L505.5,493.6 L507.5,491.2 L509.5,489.0 L511.5,486.7 L513.5,484.6 L515.5,482.4 L517.5,480.4 L519.6,478.4 L521.6,476.5 L523.6,474.7 L525.6,473.0"/>
<path d="M126.8,689.2 L128.8,689.2 L130.8,689.2 L132.8,689.2 L134.9,689.2 L136.9,689.2 L138.9,689.2 L140.9,689.1 L142.9,689.1 L144.9,689.0 L147.0,689.0 L149.0,688.9 L151.0,688.8 L153.0,688.7 L155.0,688.6 L157.0,688.5 L159.1,688.3 L161.1,688.2 L163.1,688.1 L165.1,687.9 L167.1,687.7 L169.1,687.6 L171.1,687.4 L173.2,687.2 L175.2,687.0 L177.2,686.8 L179.2,686.6 L181.2,686.4 L183.2,686.2 L185.3,685.9 L187.3,685.7 L189.3,685.4 L191.3,685.2 L193.3,684.9 L195.3,684.7 L197.3,684.4 L199.4,684.1 L201.4,683.8 L203.4,683.5 L205.4,683.2 L207.4,682.9 L209.4,682.6 L211.5,682.3 L213.5,682.0 L215.5,681.7 L217.5,681.4 L219.5,681.0 L221.5,680.7 L223.6,680.3 L225.6,680.0 L227.6,679.7 L229.6,679.3 L231.6,678.9 L233.6,678.6 L235.6,678.2 L237.7,677.8 L239.7,677.5 L241.7,677.1 L243.7,676.7 L245.7,676.3 L247.7,675.9 L249.8,675.5 L251.8,675.1 L253.8,674.8 L255.8,674.3 L257.8,673.9 L259.8,673.5 L261.9,673.1 L263.9,672.7 L265.9,672.3 L267.9,671.9 L269.9,671.4 L271.9,671.0 L273.9,670.6 L276.0,670.2 L278.0,669.7 L280.0,669.3 L282.0,668.8 L284.0,668.4 L286.0,667.9 L288.1,667.5 L290.1,667.0 L292.1,666.6 L294.1,666.1 L296.1,665.6 L298.1,665.2 L300.1,664.7 L302.2,664.2 L304.2,663.7 L306.2,663.3 L308.2,662.8 L310.2,662.3 L312.2,661.8 L314.3,661.3 L316.3,660.8 L318.3,660.2 L320.3,659.7 L322.3,659.2 L324.3,658.7 L326.4,658.1 L328.4,657.6 L330.4,657.0 L332.4,656.5 L334.4,655.9 L336.4,655.3 L338.4,654.7 L340.5,654.1 L342.5,653.5 L344.5,652.9 L346.5,652.3 L348.5,651.6 L350.5,650.9 L352.6,650.3 L354.6,649.6 L356.6,648.8 L358.6,648.1 L360.6,647.4 L362.6,646.6 L364.7,645.8 L366.7,645.0 L368.7,644.2 L370.7,643.3 L372.7,642.5 L374.7,641.6 L376.7,640.7 L378.8,639.7 L380.8,638.8 L382.8,637.8 L384.8,636.8 L386.8,635.7 L388.8,634.7 L390.9,633.6 L392.9,632.5 L394.9,631.3 L396.9,630.2 L398.9,629.0 L400.9,627.7 L402.9,626.5 L405.0,625.2 L407.0,623.8 L409.0,622.5 L411.0,621.1 L413.0,619.7 L415.0,618.2 L417.1,616.7 L419.1,615.2 L421.1,613.7 L423.1,612.1 L425.1,610.5 L427.1,608.8 L429.2,607.1 L431.2,605.4 L433.2,603.7 L435.2,601.9 L437.2,600.0 L439.2,598.2 L441.2,596.3 L443.3,594.3 L445.3,592.3 L447.3,590.3 L449.3,588.2 L451.3,586.1 L453.3,583.9 L455.4,581.7 L457.4,579.4 L459.4,577.1 L461.4,574.7 L463.4,572.3 L465.4,569.8 L467.5,567.3 L469.5,564.7 L471.5,562.0 L473.5,559.3 L475.5,556.6 L477.5,553.7 L479.5,550.8 L481.6,547.9 L483.6,545.0 L485.6,542.0 L487.6,539.1 L489.6,536.2 L491.6,533.3 L493.7,530.5 L495.7,527.7 L497.7,524.9 L499.7,522.1 L501.7,519.4 L503.7,516.7 L505.7,514.0 L507.8,511.3 L509.8,508.7 L511.8,506.0 L513.8,503.4 L515.8,500.7 L517.8,498.1 L519.9,495.5 L521.9,492.9 L523.9,490.3 L525.9,487.7 L527.9,485.2 L529.9,482.7 L532.0,480.2 L534.0,477.8 L536.0,475.3 L538.0,473.0"/>
<path d="M126.8,690.9 L128.8,690.9 L130.8,690.9 L132.8,690.9 L134.8,690.9 L136.8,690.9 L138.9,690.9 L140.9,690.9 L142.9,690.9 L144.9,690.9 L146.9,690.9 L148.9,690.9 L150.9,690.9 L152.9,690.9 L154.9,690.9 L156.9,690.9 L159.0,690.9 L161.0,690.8 L163.0,690.7 L165.0,690.7 L167.0,690.6 L169.0,690.5 L171.0,690.4 L173.0,690.3 L175.0,690.2 L177.0,690.1 L179.0,690.0 L181.1,689.8 L183.1,689.7 L185.1,689.6 L187.1,689.4 L189.1,689.3 L191.1,689.1 L193.1,689.0 L195.1,688.8 L197.1,688.6 L199.1,688.4 L201.2,688.2 L203.2,688.0 L205.2,687.8 L207.2,687.6 L209.2,687.4 L211.2,687.2 L213.2,687.0 L215.2,686.7 L217.2,686.5 L219.2,686.2 L221.2,686.0 L223.3,685.7 L225.3,685.5 L227.3,685.2 L229.3,684.9 L231.3,684.6 L233.3,684.3 L235.3,684.0 L237.3,683.7 L239.3,683.4 L241.3,683.1 L243.4,682.8 L245.4,682.5 L247.4,682.1 L249.4,681.8 L251.4,681.4 L253.4,681.1 L255.4,680.7 L257.4,680.4 L259.4,680.0 L261.4,679.6 L263.4,679.2 L265.5,678.8 L267.5,678.4 L269.5,678.0 L271.5,677.6 L273.5,677.2 L275.5,676.8 L277.5,676.3 L279.5,675.9 L281.5,675.5 L283.5,675.0 L285.6,674.6 L287.6,674.2 L289.6,673.7 L291.6,673.3 L293.6,672.8 L295.6,672.4 L297.6,671.9 L299.6,671.5 L301.6,671.0 L303.6,670.6 L305.6,670.1 L307.7,669.6 L309.7,669.2 L311.7,668.7 L313.7,668.3 L315.7,667.8 L317.7,667.3 L319.7,666.9 L321.7,666.4 L323.7,666.0 L325.7,665.5 L327.8,665.1 L329.8,664.6 L331.8,664.1 L333.8,663.7 L335.8,663.2 L337.8,662.8 L339.8,662.3 L341.8,661.9 L343.8,661.4 L345.8,661.0 L347.8,660.6 L349.9,660.1 L351.9,659.7 L353.9,659.2 L355.9,658.8 L357.9,658.3 L359.9,657.8 L361.9,657.4 L363.9,656.9 L365.9,656.4 L367.9,655.9 L369.9,655.5 L372.0,654.9 L374.0,654.4 L376.0,653.9 L378.0,653.4 L380.0,652.8 L382.0,652.3 L384.0,651.7 L386.0,651.1 L388.0,650.5 L390.0,649.9 L392.1,649.3 L394.1,648.6 L396.1,647.9 L398.1,647.3 L400.1,646.5 L402.1,645.8 L404.1,645.1 L406.1,644.3 L408.1,643.5 L410.1,642.7 L412.1,641.8 L414.2,640.9 L416.2,640.0 L418.2,639.1 L420.2,638.2 L422.2,637.2 L424.2,636.2 L426.2,635.1 L428.2,634.0 L430.2,632.9 L432.2,631.8 L434.3,630.6 L436.3,629.4 L438.3,628.1 L440.3,626.8 L442.3,625.5 L444.3,624.1 L446.3,622.7 L448.3,621.3 L450.3,619.8 L452.3,618.3 L454.3,616.8 L456.4,615.2 L458.4,613.5 L460.4,611.8 L462.4,610.1 L464.4,608.3 L466.4,606.5 L468.4,604.6 L470.4,602.7 L472.4,600.8 L474.4,598.8 L476.5,596.7 L478.5,594.7 L480.5,592.5 L482.5,590.4 L484.5,588.2 L486.5,585.9 L488.5,583.6 L490.5,581.3 L492.5,579.0 L494.5,576.6 L496.5,574.2 L498.6,571.7 L500.6,569.2 L502.6,566.7 L504.6,564.1 L506.6,561.6 L508.6,559.0 L510.6,556.3 L512.6,553.7 L514.6,551.0 L516.6,548.3 L518.7,545.6 L520.7,542.8 L522.7,540.1 L524.7,537.3 L526.7,534.5 L528.7,531.7 L530.7,528.9 L532.7,526.1 L534.7,523.2 L536.7,520.4 L538.7,517.6 L540.8,514.7 L542.8,511.8 L544.8,509.0 L546.8,506.1 L548.8,503.3 L550.8,500.4 L552.8,497.6 L554.8,494.7 L556.8,491.9 L558.8,489.1 L560.9,486.3 L562.9,483.5 L564.9,480.7 L566.9,478.0 L568.9,475.2 L570.9,472.5"/>
<path d="M126.8,692.5 L128.8,692.5 L130.8,692.5 L132.8,692.5 L134.8,692.4 L136.8,692.4 L138.9,692.4 L140.9,692.3 L142.9,692.3 L144.9,692.2 L146.9,692.2 L148.9,692.1 L150.9,692.0 L152.9,692.0 L154.9,691.9 L156.9,691.8 L159.0,691.7 L161.0,691.6 L163.0,691.5 L165.0,691.4 L167.0,691.3 L169.0,691.2 L171.0,691.1 L173.0,691.0 L175.0,690.9 L177.0,690.7 L179.0,690.6 L181.1,690.5 L183.1,690.3 L185.1,690.2 L187.1,690.0 L189.1,689.9 L191.1,689.7 L193.1,689.6 L195.1,689.4 L197.1,689.2 L199.1,689.1 L201.2,688.9 L203.2,688.7 L205.2,688.5 L207.2,688.3 L209.2,688.2 L211.2,688.0 L213.2,687.8 L215.2,687.6 L217.2,687.4 L219.2,687.2 L221.2,687.0 L223.3,686.8 L225.3,686.5 L227.3,686.3 L229.3,686.1 L231.3,685.9 L233.3,685.7 L235.3,685.4 L237.3,685.2 L239.3,685.0 L241.3,684.7 L243.4,684.5 L245.4,684.2 L247.4,684.0 L249.4,683.8 L251.4,683.5 L253.4,683.3 L255.4,683.0 L257.4,682.7 L259.4,682.5 L261.4,682.2 L263.5,682.0 L265.5,681.7 L267.5,681.4 L269.5,681.2 L271.5,680.9 L273.5,680.6 L275.5,680.3 L277.5,680.1 L279.5,679.8 L281.5,679.5 L283.5,679.2 L285.6,678.9 L287.6,678.6 L289.6,678.3 L291.6,678.1 L293.6,677.8 L295.6,677.5 L297.6,677.2 L299.6,676.9 L301.6,676.6 L303.6,676.3 L305.7,675.9 L307.7,675.6 L309.7,675.3 L311.7,675.0 L313.7,674.7 L315.7,674.4 L317.7,674.1 L319.7,673.7 L321.7,673.4 L323.7,673.1 L325.7,672.7 L327.8,672.4 L329.8,672.1 L331.8,671.7 L333.8,671.4 L335.8,671.0 L337.8,670.7 L339.8,670.3 L341.8,670.0 L343.8,669.6 L345.8,669.2 L347.9,668.9 L349.9,668.5 L351.9,668.1 L353.9,667.7 L355.9,667.3 L357.9,666.9 L359.9,666.5 L361.9,666.1 L363.9,665.7 L365.9,665.3 L367.9,664.8 L370.0,664.4 L372.0,664.0 L374.0,663.5 L376.0,663.1 L378.0,662.6 L380.0,662.1 L382.0,661.6 L384.0,661.1 L386.0,660.6 L388.0,660.1 L390.1,659.6 L392.1,659.0 L394.1,658.5 L396.1,657.9 L398.1,657.3 L400.1,656.7 L402.1,656.1 L404.1,655.5 L406.1,654.9 L408.1,654.2 L410.1,653.5 L412.2,652.8 L414.2,652.1 L416.2,651.4 L418.2,650.7 L420.2,649.9 L422.2,649.1 L424.2,648.3 L426.2,647.4 L428.2,646.6 L430.2,645.7 L432.3,644.8 L434.3,643.9 L436.3,642.9 L438.3,641.9 L440.3,640.9 L442.3,639.9 L444.3,638.8 L446.3,637.7 L448.3,636.6 L450.3,635.4 L452.3,634.3 L454.4,633.0 L456.4,631.8 L458.4,630.5 L460.4,629.2 L462.4,627.8 L464.4,626.5 L466.4,625.1 L468.4,623.6 L470.4,622.1 L472.4,620.6 L474.5,619.0 L476.5,617.4 L478.5,615.8 L480.5,614.1 L482.5,612.4 L484.5,610.6 L486.5,608.8 L488.5,607.0 L490.5,605.1 L492.5,603.1 L494.6,601.1 L496.6,599.1 L498.6,597.0 L500.6,594.9 L502.6,592.7 L504.6,590.5 L506.6,588.2 L508.6,585.9 L510.6,583.5 L512.6,581.0 L514.6,578.6 L516.7,576.0 L518.7,573.5 L520.7,570.8 L522.7,568.2 L524.7,565.5 L526.7,562.7 L528.7,559.9 L530.7,557.1 L532.7,554.2 L534.7,551.4 L536.8,548.4 L538.8,545.5 L540.8,542.5 L542.8,539.6 L544.8,536.6 L546.8,533.6 L548.8,530.5 L550.8,527.5 L552.8,524.4 L554.8,521.4 L556.8,518.4 L558.9,515.3 L560.9,512.3 L562.9,509.3 L564.9,506.2 L566.9,503.2 L568.9,500.3 L570.9,497.3 L572.9,494.4 L574.9,491.5 L576.9,488.6 L579.0,485.8 L581.0,483.0 L583.0,480.3 L585.0,477.6 L587.0,474.9 L589.0,472.3"/>
<path d="M126.8,693.9 L128.8,693.8 L130.8,693.7 L132.8,693.6 L134.9,693.5 L136.9,693.4 L138.9,693.3 L140.9,693.2 L142.9,693.1 L144.9,693.0 L146.9,692.9 L148.9,692.8 L151.0,692.7 L153.0,692.6 L155.0,692.5 L157.0,692.3 L159.0,692.2 L161.0,692.1 L163.0,692.0 L165.1,691.9 L167.1,691.7 L169.1,691.6 L171.1,691.5 L173.1,691.3 L175.1,691.2 L177.1,691.1 L179.1,690.9 L181.2,690.8 L183.2,690.7 L185.2,690.5 L187.2,690.4 L189.2,690.2 L191.2,690.1 L193.2,690.0 L195.3,689.8 L197.3,689.7 L199.3,689.5 L201.3,689.4 L203.3,689.2 L205.3,689.1 L207.3,688.9 L209.4,688.8 L211.4,688.6 L213.4,688.4 L215.4,688.3 L217.4,688.1 L219.4,688.0 L221.4,687.8 L223.4,687.6 L225.5,687.5 L227.5,687.3 L229.5,687.1 L231.5,687.0 L233.5,686.8 L235.5,686.6 L237.5,686.5 L239.6,686.3 L241.6,686.1 L243.6,685.9 L245.6,685.7 L247.6,685.6 L249.6,685.4 L251.6,685.2 L253.6,685.0 L255.7,684.8 L257.7,684.7 L259.7,684.5 L261.7,684.3 L263.7,684.1 L265.7,683.9 L267.7,683.7 L269.8,683.5 L271.8,683.3 L273.8,683.1 L275.8,682.9 L277.8,682.8 L279.8,682.6 L281.8,682.4 L283.8,682.2 L285.9,682.0 L287.9,681.7 L289.9,681.5 L291.9,681.3 L293.9,681.1 L295.9,680.9 L297.9,680.7 L300.0,680.5 L302.0,680.3 L304.0,680.1 L306.0,679.9 L308.0,679.6 L310.0,679.4 L312.0,679.2 L314.1,679.0 L316.1,678.8 L318.1,678.5 L320.1,678.3 L322.1,678.1 L324.1,677.8 L326.1,677.6 L328.1,677.4 L330.2,677.1 L332.2,676.9 L334.2,676.6 L336.2,676.4 L338.2,676.1 L340.2,675.9 L342.2,675.6 L344.3,675.4 L346.3,675.1 L348.3,674.8 L350.3,674.6 L352.3,674.3 L354.3,674.0 L356.3,673.7 L358.3,673.4 L360.4,673.1 L362.4,672.8 L364.4,672.5 L366.4,672.2 L368.4,671.9 L370.4,671.6 L372.4,671.3 L374.5,670.9 L376.5,670.6 L378.5,670.3 L380.5,669.9 L382.5,669.5 L384.5,669.2 L386.5,668.8 L388.5,668.4 L390.6,668.0 L392.6,667.6 L394.6,667.2 L396.6,666.7 L398.6,666.3 L400.6,665.8 L402.6,665.4 L404.7,664.9 L406.7,664.4 L408.7,663.9 L410.7,663.4 L412.7,662.8 L414.7,662.3 L416.7,661.7 L418.7,661.1 L420.8,660.5 L422.8,659.8 L424.8,659.2 L426.8,658.5 L428.8,657.8 L430.8,657.1 L432.8,656.3 L434.9,655.6 L436.9,654.8 L438.9,653.9 L440.9,653.1 L442.9,652.2 L444.9,651.3 L446.9,650.4 L449.0,649.4 L451.0,648.4 L453.0,647.4 L455.0,646.3 L457.0,645.2 L459.0,644.0 L461.0,642.9 L463.0,641.7 L465.1,640.4 L467.1,639.1 L469.1,637.8 L471.1,636.4 L473.1,635.0 L475.1,633.6 L477.1,632.1 L479.2,630.6 L481.2,629.0 L483.2,627.4 L485.2,625.7 L487.2,624.0 L489.2,622.3 L491.2,620.5 L493.2,618.7 L495.3,616.9 L497.3,615.0 L499.3,613.0 L501.3,611.1 L503.3,609.0 L505.3,607.0 L507.3,604.9 L509.4,602.8 L511.4,600.6 L513.4,598.4 L515.4,596.2 L517.4,593.9 L519.4,591.6 L521.4,589.2 L523.4,586.9 L525.5,584.5 L527.5,582.0 L529.5,579.6 L531.5,577.1 L533.5,574.5 L535.5,572.0 L537.5,569.4 L539.6,566.8 L541.6,564.2 L543.6,561.5 L545.6,558.9 L547.6,556.2 L549.6,553.5 L551.6,550.7 L553.7,548.0 L555.7,545.2 L557.7,542.4 L559.7,539.6 L561.7,536.8 L563.7,534.0 L565.7,531.1 L567.7,528.3 L569.8,525.4 L571.8,522.5 L573.8,519.6 L575.8,516.7 L577.8,513.8 L579.8,510.8 L581.8,507.9 L583.9,505.0 L585.9,502.0 L587.9,499.0 L589.9,496.1 L591.9,493.1 L593.9,490.1 L595.9,487.1 L597.9,484.1 L600.0,481.1 L602.0,478.1 L604.0,475.1 L606.0,472.1"/>
<path d="M126.8,694.8 L128.8,694.8 L130.8,694.8 L132.8,694.7 L134.9,694.7 L136.9,694.6 L138.9,694.6 L140.9,694.5 L142.9,694.5 L144.9,694.4 L147.0,694.4 L149.0,694.3 L151.0,694.3 L153.0,694.2 L155.0,694.1 L157.0,694.1 L159.1,694.0 L161.1,693.9 L163.1,693.8 L165.1,693.8 L167.1,693.7 L169.1,693.6 L171.2,693.5 L173.2,693.4 L175.2,693.3 L177.2,693.2 L179.2,693.2 L181.2,693.1 L183.3,693.0 L185.3,692.9 L187.3,692.8 L189.3,692.7 L191.3,692.5 L193.3,692.4 L195.4,692.3 L197.4,692.2 L199.4,692.1 L201.4,692.0 L203.4,691.9 L205.4,691.8 L207.4,691.6 L209.5,691.5 L211.5,691.4 L213.5,691.3 L215.5,691.1 L217.5,691.0 L219.5,690.9 L221.6,690.7 L223.6,690.6 L225.6,690.5 L227.6,690.3 L229.6,690.2 L231.6,690.1 L233.7,689.9 L235.7,689.8 L237.7,689.6 L239.7,689.5 L241.7,689.3 L243.7,689.2 L245.8,689.0 L247.8,688.9 L249.8,688.7 L251.8,688.6 L253.8,688.4 L255.8,688.2 L257.9,688.1 L259.9,687.9 L261.9,687.8 L263.9,687.6 L265.9,687.4 L267.9,687.3 L269.9,687.1 L272.0,686.9 L274.0,686.8 L276.0,686.6 L278.0,686.4 L280.0,686.2 L282.0,686.1 L284.1,685.9 L286.1,685.7 L288.1,685.5 L290.1,685.4 L292.1,685.2 L294.1,685.0 L296.2,684.8 L298.2,684.6 L300.2,684.4 L302.2,684.2 L304.2,684.1 L306.2,683.9 L308.3,683.7 L310.3,683.5 L312.3,683.3 L314.3,683.1 L316.3,682.9 L318.3,682.7 L320.4,682.5 L322.4,682.3 L324.4,682.1 L326.4,681.9 L328.4,681.7 L330.4,681.5 L332.5,681.2 L334.5,681.0 L336.5,680.8 L338.5,680.6 L340.5,680.4 L342.5,680.1 L344.5,679.9 L346.6,679.7 L348.6,679.5 L350.6,679.2 L352.6,679.0 L354.6,678.8 L356.6,678.5 L358.7,678.3 L360.7,678.0 L362.7,677.8 L364.7,677.5 L366.7,677.3 L368.7,677.0 L370.8,676.7 L372.8,676.4 L374.8,676.2 L376.8,675.9 L378.8,675.6 L380.8,675.3 L382.9,675.0 L384.9,674.7 L386.9,674.4 L388.9,674.1 L390.9,673.8 L392.9,673.5 L395.0,673.1 L397.0,672.8 L399.0,672.4 L401.0,672.1 L403.0,671.7 L405.0,671.3 L407.1,670.9 L409.1,670.6 L411.1,670.2 L413.1,669.7 L415.1,669.3 L417.1,668.9 L419.1,668.4 L421.2,668.0 L423.2,667.5 L425.2,667.0 L427.2,666.5 L429.2,666.0 L431.2,665.5 L433.3,665.0 L435.3,664.4 L437.3,663.8 L439.3,663.2 L441.3,662.6 L443.3,662.0 L445.4,661.4 L447.4,660.7 L449.4,660.0 L451.4,659.3 L453.4,658.6 L455.4,657.8 L457.5,657.0 L459.5,656.2 L461.5,655.4 L463.5,654.6 L465.5,653.7 L467.5,652.8 L469.6,651.9 L471.6,650.9 L473.6,649.9 L475.6,648.9 L477.6,647.9 L479.6,646.8 L481.7,645.7 L483.7,644.5 L485.7,643.4 L487.7,642.2 L489.7,640.9 L491.7,639.6 L493.7,638.3 L495.8,637.0 L497.8,635.6 L499.8,634.2 L501.8,632.7 L503.8,631.2 L505.8,629.7 L507.9,628.1 L509.9,626.5 L511.9,624.9 L513.9,623.2 L515.9,621.5 L517.9,619.7 L520.0,617.9 L522.0,616.0 L524.0,614.2 L526.0,612.2 L528.0,610.2 L530.0,608.2 L532.1,606.1 L534.1,604.0 L536.1,601.8 L538.1,599.5 L540.1,597.3 L542.1,594.9 L544.2,592.6 L546.2,590.1 L548.2,587.6 L550.2,585.1 L552.2,582.5 L554.2,579.8 L556.2,577.2 L558.3,574.4 L560.3,571.6 L562.3,568.7 L564.3,565.8 L566.3,562.9 L568.3,559.9 L570.4,556.9 L572.4,553.8 L574.4,550.7 L576.4,547.6 L578.4,544.4 L580.4,541.2 L582.5,538.0 L584.5,534.8 L586.5,531.6 L588.5,528.3 L590.5,525.0 L592.5,521.8 L594.6,518.5 L596.6,515.3 L598.6,512.0 L600.6,508.8 L602.6,505.6 L604.6,502.4 L606.7,499.2 L608.7,496.1 L610.7,493.0 L612.7,489.9 L614.7,486.9 L616.7,483.9 L618.8,480.9 L620.8,478.1 L622.8,475.2 L624.8,472.5"/>
</g>
<g stroke="#2a2a2e" stroke-width="1.2" fill="none"><line x1="126.8" y1="484.2" x2="675.0" y2="484.2"/>
<line x1="126.8" y1="508.3" x2="675.0" y2="508.3"/>
<line x1="126.8" y1="532.5" x2="675.0" y2="532.5"/>
<line x1="126.8" y1="556.6" x2="675.0" y2="556.6"/>
<line x1="126.8" y1="580.7" x2="675.0" y2="580.7"/>
<line x1="126.8" y1="604.8" x2="675.0" y2="604.8"/>
<line x1="126.8" y1="628.9" x2="675.0" y2="628.9"/>
<line x1="126.8" y1="653.1" x2="675.0" y2="653.1"/>
<line x1="126.8" y1="677.2" x2="675.0" y2="677.2"/>
<line x1="208.5" y1="460.1" x2="208.5" y2="701.3"/>
<line x1="258.6" y1="460.1" x2="258.6" y2="701.3"/>
<line x1="291.7" y1="460.1" x2="291.7" y2="701.3"/>
<line x1="318.9" y1="460.1" x2="318.9" y2="701.3"/>
<line x1="340.5" y1="460.1" x2="340.5" y2="701.3"/>
<line x1="359.0" y1="460.1" x2="359.0" y2="701.3"/>
<line x1="375.6" y1="460.1" x2="375.6" y2="701.3"/>
<line x1="388.0" y1="460.1" x2="388.0" y2="701.3"/>
<line x1="399.3" y1="460.1" x2="399.3" y2="701.3"/>
<line x1="483.3" y1="460.1" x2="483.3" y2="701.3"/>
<line x1="533.0" y1="460.1" x2="533.0" y2="701.3"/>
<line x1="566.6" y1="460.1" x2="566.6" y2="701.3"/>
<line x1="592.4" y1="460.1" x2="592.4" y2="701.3"/>
<line x1="615.1" y1="460.1" x2="615.1" y2="701.3"/>
<line x1="632.6" y1="460.1" x2="632.6" y2="701.3"/>
<line x1="648.6" y1="460.1" x2="648.6" y2="701.3"/>
<line x1="662.6" y1="460.1" x2="662.6" y2="701.3"/>
<rect x="126.8" y="460.1" width="548.2" height="241.2" fill="none" stroke-width="1.8"/></g>
<rect x="267.5" y="517.5" width="339.79999999999995" height="14.0" fill="#a3a9b4" fill-opacity="0.92"/>
<text transform="matrix(0.952 0 0 1.141 347.2 102.3)" font-size="13" stroke="#1a1a1a" stroke-width="0.6" fill="#1a1a1a">PCS</text>
<text transform="matrix(1.198 0 0 1.065 89.45 117.7)" font-size="13" stroke="#1a1a1a" stroke-width="0.22" fill="#1a1a1a">100</text>
<text transform="matrix(1.399 0 0 1.076 94.27 143.5)" font-size="13" stroke="#1a1a1a" stroke-width="0.22" fill="#1a1a1a">90</text>
<text transform="matrix(1.385 0 0 1.065 94.46 168.6)" font-size="13" stroke="#1a1a1a" stroke-width="0.22" fill="#1a1a1a">80</text>
<text transform="matrix(1.385 0 0 1.065 94.46 194.4)" font-size="13" stroke="#1a1a1a" stroke-width="0.22" fill="#1a1a1a">70</text>
<text transform="matrix(1.342 0 0 1.033 95.06 220)" font-size="13" stroke="#1a1a1a" stroke-width="0.22" fill="#1a1a1a">60</text>
<text transform="matrix(1.314 0 0 1.011 95.45 245.5)" font-size="13" stroke="#1a1a1a" stroke-width="0.22" fill="#1a1a1a">50</text>
<text transform="matrix(1.3 0 0 1 95.65 271)" font-size="13" stroke="#1a1a1a" stroke-width="0.22" fill="#1a1a1a">40</text>
<text transform="matrix(1.342 0 0 1.033 95.06 296.8)" font-size="13" stroke="#1a1a1a" stroke-width="0.22" fill="#1a1a1a">30</text>
<text transform="matrix(1.314 0 0 1.011 95.45 322.4)" font-size="13" stroke="#1a1a1a" stroke-width="0.22" fill="#1a1a1a">20</text>
<text transform="matrix(1.314 0 0 1.011 95.45 347.6)" font-size="13" stroke="#1a1a1a" stroke-width="0.22" fill="#1a1a1a">10</text>
<text transform="matrix(1.096 0 0 0.9286 200.7 390.4)" font-size="8" fill="#1a1a1a">2</text>
<text transform="matrix(1.076 0 0 0.9123 250.4 390.3)" font-size="8" fill="#1a1a1a">3</text>
<text transform="matrix(1.096 0 0 0.9286 283.2 390.3)" font-size="8" fill="#1a1a1a">4</text>
<text transform="matrix(1.096 0 0 0.9286 311.6 390.3)" font-size="8" fill="#1a1a1a">5</text>
<text transform="matrix(1.076 0 0 0.9123 335.2 390.3)" font-size="8" fill="#1a1a1a">6</text>
<text transform="matrix(1.116 0 0 0.9455 351.9 390.4)" font-size="8" fill="#1a1a1a">7</text>
<text transform="matrix(1.096 0 0 0.9286 366.6 390.3)" font-size="8" fill="#1a1a1a">8</text>
<text transform="matrix(1.076 0 0 0.9123 381.6 390.3)" font-size="8" fill="#1a1a1a">9</text>
<text transform="matrix(1.069 0 0 1.13 389.6 390.1)" font-size="13" stroke="#1a1a1a" stroke-width="0.22" fill="#1a1a1a">10</text>
<text transform="matrix(1.159 0 0 0.9825 471.8 390.3)" font-size="8" fill="#1a1a1a">20</text>
<text transform="matrix(1.159 0 0 0.9825 521.8 390.3)" font-size="8" fill="#1a1a1a">30</text>
<text transform="matrix(1.159 0 0 0.9825 554.9 390.3)" font-size="8" fill="#1a1a1a">40</text>
<text transform="matrix(1.159 0 0 0.9825 581.1 390.3)" font-size="8" fill="#1a1a1a">50</text>
<text transform="matrix(1.159 0 0 0.9825 605.1 390.3)" font-size="8" fill="#1a1a1a">60</text>
<text transform="matrix(1.159 0 0 0.9825 621.6 390.3)" font-size="8" fill="#1a1a1a">70</text>
<text transform="matrix(1.159 0 0 0.9825 637.7 390.3)" font-size="8" fill="#1a1a1a">80</text>
<text transform="matrix(1.159 0 0 0.9825 649.8 390.3)" font-size="8" fill="#1a1a1a">90</text>
<text transform="matrix(1.119 0 0 1.065 661.3 389.7)" font-size="13" stroke="#1a1a1a" stroke-width="0.22" fill="#1a1a1a">100</text>
<text transform="matrix(0.9915 0 0 0.9535 430.6 183.1)" font-size="12" stroke="#1c1f26" stroke-width="0.22" fill="#1c1f26">CSS</text>
<text transform="matrix(0.9748 0 0 0.9535 466 183.1)" font-size="12" stroke="#1c1f26" stroke-width="0.22" fill="#1c1f26">19</text>
<text transform="matrix(1.033 0 0 0.9762 484.8 183.2)" font-size="12" stroke="#1c1f26" stroke-width="0.22" fill="#1c1f26">22</text>
<text transform="matrix(1.033 0 0 0.9647 500.2 183.1)" font-size="12" stroke="#1c1f26" stroke-width="0.22" fill="#1c1f26">25</text>
<text transform="matrix(0.9675 0 0 0.9535 527.5 183.1)" font-size="12" stroke="#1c1f26" stroke-width="0.22" fill="#1c1f26">32</text>
<text transform="matrix(0.9675 0 0 0.9535 548.8 183.1)" font-size="12" stroke="#1c1f26" stroke-width="0.22" fill="#1c1f26">38</text>
<text transform="matrix(0.9134 0 0 0.9762 573.4 183.2)" font-size="12" stroke="#1c1f26" stroke-width="0.22" fill="#1c1f26">44</text>
<text transform="matrix(0.9431 0 0 0.9762 592.8 183.1)" font-size="12" stroke="#1c1f26" stroke-width="0.22" fill="#1c1f26">51</text>
<text transform="matrix(0.9274 0 0 0.9535 619.9 183.1)" font-size="12" stroke="#1c1f26" stroke-width="0.22" fill="#1c1f26">64</text>
<text transform="matrix(1.047 0 0 1.109 348.1 453.6)" font-size="13" stroke="#1a1a1a" stroke-width="0.6" fill="#1a1a1a">PCH</text>
<text transform="matrix(1.163 0 0 0.9674 89.49 469.1)" font-size="13" stroke="#1a1a1a" stroke-width="0.22" fill="#1a1a1a">100</text>
<text transform="matrix(1.342 0 0 1.033 95.36 492.6)" font-size="13" stroke="#1a1a1a" stroke-width="0.22" fill="#1a1a1a">90</text>
<text transform="matrix(1.342 0 0 1.033 95.36 516)" font-size="13" stroke="#1a1a1a" stroke-width="0.22" fill="#1a1a1a">80</text>
<text transform="matrix(1.342 0 0 1.033 95.36 539.6)" font-size="13" stroke="#1a1a1a" stroke-width="0.22" fill="#1a1a1a">70</text>
<text transform="matrix(1.342 0 0 1.033 95.36 563)" font-size="13" stroke="#1a1a1a" stroke-width="0.22" fill="#1a1a1a">60</text>
<text transform="matrix(1.328 0 0 1.022 95.55 586.1)" font-size="13" stroke="#1a1a1a" stroke-width="0.22" fill="#1a1a1a">50</text>
<text transform="matrix(1.342 0 0 1.033 95.36 609.6)" font-size="13" stroke="#1a1a1a" stroke-width="0.22" fill="#1a1a1a">40</text>
<text transform="matrix(1.371 0 0 1.054 94.96 633.2)" font-size="13" stroke="#1a1a1a" stroke-width="0.22" fill="#1a1a1a">30</text>
<text transform="matrix(1.342 0 0 1.033 95.36 656.6)" font-size="13" stroke="#1a1a1a" stroke-width="0.22" fill="#1a1a1a">20</text>
<text transform="matrix(1.342 0 0 1.033 95.36 679.6)" font-size="13" stroke="#1a1a1a" stroke-width="0.22" fill="#1a1a1a">10</text>
<text transform="matrix(1.161 0 0 0.9286 204 718)" font-size="8" fill="#1a1a1a">2</text>
<text transform="matrix(1.14 0 0 0.9123 254 717.9)" font-size="8" fill="#1a1a1a">3</text>
<text transform="matrix(1.161 0 0 0.9286 287.1 717.9)" font-size="8" fill="#1a1a1a">4</text>
<text transform="matrix(1.161 0 0 0.9286 314.9 717.9)" font-size="8" fill="#1a1a1a">5</text>
<text transform="matrix(1.14 0 0 0.9123 339.1 717.9)" font-size="8" fill="#1a1a1a">6</text>
<text transform="matrix(1.182 0 0 0.9455 355.6 718)" font-size="8" fill="#1a1a1a">7</text>
<text transform="matrix(1.161 0 0 0.9286 370.2 717.9)" font-size="8" fill="#1a1a1a">8</text>
<text transform="matrix(1.14 0 0 0.9123 385.4 717.9)" font-size="8" fill="#1a1a1a">9</text>
<text transform="matrix(1.108 0 0 1.011 394.3 717.7)" font-size="13" stroke="#1a1a1a" stroke-width="0.22" fill="#1a1a1a">10</text>
<text transform="matrix(1.15 0 0 1 477.8 717.9)" font-size="8" fill="#1a1a1a">20</text>
<text transform="matrix(1.15 0 0 1 528.2 717.9)" font-size="8" fill="#1a1a1a">30</text>
<text transform="matrix(1.15 0 0 1 561.5 717.9)" font-size="8" fill="#1a1a1a">40</text>
<text transform="matrix(1.15 0 0 1 587.7 717.9)" font-size="8" fill="#1a1a1a">50</text>
<text transform="matrix(1.15 0 0 1 611.6 717.9)" font-size="8" fill="#1a1a1a">60</text>
<text transform="matrix(1.15 0 0 1 628.9 717.9)" font-size="8" fill="#1a1a1a">70</text>
<text transform="matrix(1.15 0 0 1 645 717.9)" font-size="8" fill="#1a1a1a">80</text>
<text transform="matrix(1.15 0 0 1 656.4 717.9)" font-size="8" fill="#1a1a1a">90</text>
<text transform="matrix(1.183 0 0 1.033 667.7 717.6)" font-size="13" stroke="#1a1a1a" stroke-width="0.22" fill="#1a1a1a">100</text>
<text transform="matrix(1.075 0 0 1.087 268.4 528.9)" font-size="13" stroke="#1c1f26" stroke-width="0.22" fill="#1c1f26">CSS</text>
<text transform="matrix(1.217 0 0 1.087 312.5 528.9)" font-size="13" stroke="#1c1f26" stroke-width="0.22" fill="#1c1f26">6</text>
<text transform="matrix(1.197 0 0 1.087 348.2 528.9)" font-size="13" stroke="#1c1f26" stroke-width="0.22" fill="#1c1f26">8</text>
<text transform="matrix(1.092 0 0 1.087 367.8 528.9)" font-size="13" stroke="#1c1f26" stroke-width="0.22" fill="#1c1f26">10</text>
<text transform="matrix(1.171 0 0 1.087 402.9 528.9)" font-size="13" stroke="#1c1f26" stroke-width="0.22" fill="#1c1f26">13</text>
<text transform="matrix(1.171 0 0 1.087 428.1 528.9)" font-size="13" stroke="#1c1f26" stroke-width="0.22" fill="#1c1f26">16</text>
<text transform="matrix(1.031 0 0 1.087 452.9 528.9)" font-size="13" stroke="#1c1f26" stroke-width="0.22" fill="#1c1f26">19</text>
<text transform="matrix(1.091 0 0 1.099 473 529)" font-size="13" stroke="#1c1f26" stroke-width="0.22" fill="#1c1f26">22</text>
<text transform="matrix(1.173 0 0 1.087 489.2 528.9)" font-size="13" stroke="#1c1f26" stroke-width="0.22" fill="#1c1f26">25</text>
<text transform="matrix(1.135 0 0 1.087 521.1 528.9)" font-size="13" stroke="#1c1f26" stroke-width="0.22" fill="#1c1f26">32</text>
<text transform="matrix(1.127 0 0 1.087 542.7 528.9)" font-size="13" stroke="#1c1f26" stroke-width="0.22" fill="#1c1f26">38</text>
<text transform="matrix(1.058 0 0 1.111 561.4 528.9)" font-size="13" stroke="#1c1f26" stroke-width="0.22" fill="#1c1f26">44</text>
<text transform="matrix(0.9173 0 0 1.099 582.4 528.9)" font-size="13" stroke="#1c1f26" stroke-width="0.22" fill="#1c1f26">51</text>
<text transform="matrix(0 -1.05 1.069 0 81.49 272.3)" font-size="11" stroke="#1a1a1a" stroke-width="0.35" fill="#1a1a1a">%通过百分比</text>
<text transform="matrix(0 -0.9326 0.9314 0 81.31 608.1)" font-size="11" stroke="#1a1a1a" stroke-width="0.35" fill="#1a1a1a">%通过百分比</text>
<text transform="matrix(1.2450 0 0 1 0 0)" x="300.90 313.45 326.00 338.54" y="102.75" font-size="11.83" font-weight="700" stroke="#1a1a1a" stroke-width="0" fill="#1a1a1a">型破碎机</text>
<text transform="matrix(1.2848 0 0 1 0 0)" x="294.70 306.86 319.01 331.17" y="453.60" font-size="11.29" font-weight="700" stroke="#1a1a1a" stroke-width="0" fill="#1a1a1a">型破碎机</text>
<text transform="matrix(1.1497 0 0 1 0 0)" x="281.39 292.57 303.75 314.92 326.10 337.28 348.45 359.63" y="407.77" font-size="10.32" font-weight="400" stroke="#1a1a1a" stroke-width="0.45" fill="#1a1a1a">方孔筛尺寸，毫米</text>
<text transform="matrix(1.1742 0 0 1 0 0)" x="277.49 288.43 299.38 310.32 321.26 332.21 343.15 354.10" y="731.89" font-size="10.11" font-weight="400" stroke="#1a1a1a" stroke-width="0.45" fill="#1a1a1a">方孔筛尺寸，毫米</text>
<path d="M121.70,381.50 L123.30,380.90 L123.30,390.40 L121.70,390.40 L121.70,383.50 Q120.70,384.00 119.30,384.10 L119.30,382.70 Q120.60,382.50 121.70,381.50 Z" fill="#1a1a1a"/>
<path d="M124.60,709.50 L126.20,708.90 L126.20,718.20 L124.60,718.20 L124.60,711.50 Q123.60,712.10 121.90,712.20 L121.90,710.80 Q123.50,710.60 124.60,709.50 Z" fill="#1a1a1a"/>
<text transform="matrix(1.265 0 0 1 0 0)" x="38.57 52.69 66.80 80.91 95.02 109.13" y="25.59" font-size="13.9" stroke="#141414" stroke-width="0.18" fill="#141414">产品粒度曲线</text>
<text transform="matrix(1.2 0 0 1 0 0)" x="61.21 72.82 84.43 96.04 107.64 119.25 130.86 142.47 154.08 165.69 177.29 188.90 200.51 212.12 223.73 235.34 246.94 258.55 270.16 281.77 293.38 304.99 316.59 328.20 339.81 351.42 363.03 374.64 386.24 397.85 409.46 421.07 432.68 444.29 455.89 467.50 479.11 490.72 502.33 531.36 542.97 554.58 566.19 577.79" y="48.69" font-size="11.4" stroke="#1a1a1a" stroke-width="0.12" fill="#1a1a1a">产品粒度曲线和小于紧边排矿口（方孔，毫米）的破碎产品百分比，与物料的破碎功指数）、给料粒</text>
<text transform="matrix(1.2 0 0 1 0 0)" x="514.44" y="48.09" font-size="11.4" style="font-family:Liberation Mono,monospace" fill="#1a1a1a">(</text>
<text transform="matrix(1.2 0 0 1 0 0)" x="520.24" y="48.09" font-size="11.4" style="font-family:Liberation Mono,monospace" fill="#1a1a1a">W</text>
<text transform="matrix(1.2 0 0 1 0 0)" x="526.05" y="48.09" font-size="11.4" style="font-family:Liberation Mono,monospace" fill="#1a1a1a">i</text>
<text transform="matrix(1.2 0 0 1 0 0)" x="31.96 43.57 55.18 66.79 78.39 90.00 101.61 113.22 124.83 136.44 148.04 159.65 171.26 182.87" y="69.39" font-size="11.4" stroke="#1a1a1a" stroke-width="0.12" fill="#1a1a1a">度特性以及其它一些因素有关。</text>
</svg>
</body></html>
